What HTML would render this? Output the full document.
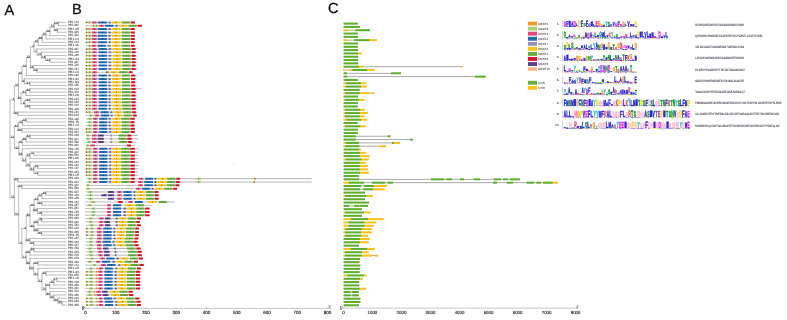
<!DOCTYPE html><html><head><meta charset="utf-8"><style>html,body{margin:0;padding:0;background:#fff;}svg{display:block;}</style></head><body>
<svg width="787" height="320" viewBox="0 0 787 320" text-rendering="geometricPrecision">
<rect width="787" height="320" fill="#fff"/>
<g opacity="0.999">
<text x="4.4" y="15.0" font-family="'Liberation Sans', sans-serif" font-size="14.6" fill="#111" stroke="#111" stroke-width="0.3">A</text>
<text x="71.9" y="14.3" font-family="'Liberation Sans', sans-serif" font-size="14.6" fill="#111" stroke="#111" stroke-width="0.3">B</text>
<text x="327.9" y="13.4" font-family="'Liberation Sans', sans-serif" font-size="14.6" fill="#111" stroke="#111" stroke-width="0.3">C</text>
<g stroke="#a3a3a3" stroke-width="0.72" fill="none" stroke-linecap="square">
<path d="M58.50 22.30L58.50 25.62M58.50 22.30L66.00 22.30M58.50 25.62L66.00 25.62M57.50 28.95L57.50 32.27M57.50 28.95L66.00 28.95M57.50 32.27L66.00 32.27M54.20 23.96L54.20 30.61M54.20 23.96L58.50 23.96M54.20 30.61L57.50 30.61M50.00 27.29L50.00 35.60M50.00 27.29L54.20 27.29M50.00 35.60L66.00 35.60M46.10 31.44L46.10 38.92M46.10 31.44L50.00 31.44M46.10 38.92L66.00 38.92M42.20 35.18L42.20 42.25M42.20 35.18L46.10 35.18M42.20 42.25L66.00 42.25M38.30 38.72L38.30 45.57M38.30 38.72L42.20 38.72M38.30 45.57L66.00 45.57M50.00 58.88L50.00 62.20M50.00 58.88L66.00 58.88M50.00 62.20L66.00 62.20M45.50 55.55L45.50 60.54M45.50 55.55L66.00 55.55M45.50 60.54L50.00 60.54M41.50 52.23L41.50 58.04M41.50 52.23L66.00 52.23M41.50 58.04L45.50 58.04M37.00 48.90L37.00 55.13M37.00 48.90L66.00 48.90M37.00 55.13L41.50 55.13M34.00 42.15L34.00 52.02M34.00 42.15L38.30 42.15M34.00 52.02L37.00 52.02M37.25 68.85L37.25 72.18M37.25 68.85L66.00 68.85M37.25 72.18L66.00 72.18M33.50 65.53L33.50 70.51M33.50 65.53L66.00 65.53M33.50 70.51L37.25 70.51M30.40 47.08L30.40 68.02M30.40 47.08L34.00 47.08M30.40 68.02L33.50 68.02M26.40 57.55L26.40 75.50M26.40 57.55L30.40 57.55M26.40 75.50L66.00 75.50M30.00 82.15L30.00 85.48M30.00 82.15L66.00 82.15M30.00 85.48L66.00 85.48M24.50 78.83L24.50 83.81M24.50 78.83L66.00 78.83M24.50 83.81L30.00 83.81M22.00 66.53L22.00 81.32M22.00 66.53L26.40 66.53M22.00 81.32L24.50 81.32M30.00 88.80L30.00 92.12M30.00 88.80L66.00 88.80M30.00 92.12L66.00 92.12M26.00 90.46L26.00 95.45M26.00 90.46L30.00 90.46M26.00 95.45L66.00 95.45M30.00 98.78L30.00 102.10M30.00 98.78L66.00 98.78M30.00 102.10L66.00 102.10M30.00 105.43L30.00 108.75M30.00 105.43L66.00 105.43M30.00 108.75L66.00 108.75M25.00 100.44L25.00 107.09M25.00 100.44L30.00 100.44M25.00 107.09L30.00 107.09M21.00 92.96L21.00 103.76M21.00 92.96L26.00 92.96M21.00 103.76L25.00 103.76M18.50 73.92L18.50 98.36M18.50 73.92L22.00 73.92M18.50 98.36L21.00 98.36M18.00 112.08L18.00 115.40M18.00 112.08L66.00 112.08M18.00 115.40L66.00 115.40M14.40 86.14L14.40 113.74M14.40 86.14L18.50 86.14M14.40 113.74L18.00 113.74M26.20 118.73L26.20 122.05M26.20 118.73L66.00 118.73M26.20 122.05L66.00 122.05M22.50 120.39L22.50 125.38M22.50 120.39L26.20 120.39M22.50 125.38L66.00 125.38M22.00 128.70L22.00 132.03M22.00 128.70L66.00 128.70M22.00 132.03L66.00 132.03M18.30 122.88L18.30 130.36M18.30 122.88L22.50 122.88M18.30 130.36L22.00 130.36M30.00 135.35L30.00 138.68M30.00 135.35L66.00 135.35M30.00 138.68L66.00 138.68M26.20 137.01L26.20 142.00M26.20 137.01L30.00 137.01M26.20 142.00L66.00 142.00M22.25 139.51L22.25 145.33M22.25 139.51L26.20 139.51M22.25 145.33L66.00 145.33M33.70 151.98L33.70 155.30M33.70 151.98L66.00 151.98M33.70 155.30L66.00 155.30M30.00 153.64L30.00 158.63M30.00 153.64L33.70 153.64M30.00 158.63L66.00 158.63M38.00 165.28L38.00 168.60M38.00 165.28L66.00 165.28M38.00 168.60L66.00 168.60M38.00 171.93L38.00 175.25M38.00 171.93L66.00 171.93M38.00 175.25L66.00 175.25M34.00 166.94L34.00 173.59M34.00 166.94L38.00 166.94M34.00 173.59L38.00 173.59M30.00 161.95L30.00 170.26M30.00 161.95L66.00 161.95M30.00 170.26L34.00 170.26M26.00 156.13L26.00 166.11M26.00 156.13L30.00 156.13M26.00 166.11L30.00 166.11M22.25 148.65L22.25 161.12M22.25 148.65L66.00 148.65M22.25 161.12L26.00 161.12M18.90 142.42L18.90 154.88M18.90 142.42L22.25 142.42M18.90 154.88L22.25 154.88M14.40 126.62L14.40 148.65M14.40 126.62L18.30 126.62M14.40 148.65L18.90 148.65M18.00 178.58L18.00 181.90M18.00 178.58L66.00 178.58M18.00 181.90L66.00 181.90M22.00 185.23L22.00 188.55M22.00 185.23L66.00 185.23M22.00 188.55L66.00 188.55M46.00 191.88L46.00 195.20M46.00 191.88L66.00 191.88M46.00 195.20L66.00 195.20M42.00 193.54L42.00 198.53M42.00 193.54L46.00 193.54M42.00 198.53L66.00 198.53M42.00 201.85L42.00 205.18M42.00 201.85L66.00 201.85M42.00 205.18L66.00 205.18M38.00 196.03L38.00 203.51M38.00 196.03L42.00 196.03M38.00 203.51L42.00 203.51M41.70 211.83L41.70 215.15M41.70 211.83L66.00 211.83M41.70 215.15L66.00 215.15M37.50 208.50L37.50 213.49M37.50 208.50L66.00 208.50M37.50 213.49L41.70 213.49M34.20 199.77L34.20 210.99M34.20 199.77L38.00 199.77M34.20 210.99L37.50 210.99M41.70 218.48L41.70 221.80M41.70 218.48L66.00 218.48M41.70 221.80L66.00 221.80M38.00 220.14L38.00 225.13M38.00 220.14L41.70 220.14M38.00 225.13L66.00 225.13M41.70 231.78L41.70 235.10M41.70 231.78L66.00 231.78M41.70 235.10L66.00 235.10M38.00 228.45L38.00 233.44M38.00 228.45L66.00 228.45M38.00 233.44L41.70 233.44M34.00 222.63L34.00 230.94M34.00 222.63L38.00 222.63M34.00 230.94L38.00 230.94M30.00 205.38L30.00 226.79M30.00 205.38L34.20 205.38M30.00 226.79L34.00 226.79M33.70 241.75L33.70 245.08M33.70 241.75L66.00 241.75M33.70 245.08L66.00 245.08M29.90 238.43L29.90 243.41M29.90 238.43L66.00 238.43M29.90 243.41L33.70 243.41M26.25 216.09L26.25 240.92M26.25 216.09L30.00 216.09M26.25 240.92L29.90 240.92M34.10 248.40L34.10 251.73M34.10 248.40L66.00 248.40M34.10 251.73L66.00 251.73M30.00 250.06L30.00 255.05M30.00 250.06L34.10 250.06M30.00 255.05L66.00 255.05M38.00 261.70L38.00 265.02M38.00 261.70L66.00 261.70M38.00 265.02L66.00 265.02M46.00 271.67L46.00 275.00M46.00 271.67L66.00 271.67M46.00 275.00L66.00 275.00M57.00 278.32L57.00 281.65M57.00 278.32L66.00 278.32M57.00 281.65L66.00 281.65M54.00 279.99L54.00 284.97M54.00 279.99L57.00 279.99M54.00 284.97L66.00 284.97M49.70 282.48L49.70 288.30M49.70 282.48L54.00 282.48M49.70 288.30L66.00 288.30M62.00 301.60L62.00 304.92M62.00 301.60L66.00 301.60M62.00 304.92L66.00 304.92M58.00 298.27L58.00 303.26M58.00 298.27L66.00 298.27M58.00 303.26L62.00 303.26M54.00 294.95L54.00 300.77M54.00 294.95L66.00 294.95M54.00 300.77L58.00 300.77M50.00 291.62L50.00 297.86M50.00 291.62L66.00 291.62M50.00 297.86L54.00 297.86M46.00 285.39L46.00 294.74M46.00 285.39L49.70 285.39M46.00 294.74L50.00 294.74M42.00 273.34L42.00 290.07M42.00 273.34L46.00 273.34M42.00 290.07L46.00 290.07M38.00 268.35L38.00 281.70M38.00 268.35L66.00 268.35M38.00 281.70L42.00 281.70M33.70 263.36L33.70 275.03M33.70 263.36L38.00 263.36M33.70 275.03L38.00 275.03M30.00 258.38L30.00 269.19M30.00 258.38L66.00 258.38M30.00 269.19L33.70 269.19M26.25 252.56L26.25 263.78M26.25 252.56L30.00 252.56M26.25 263.78L30.00 263.78M21.90 228.50L21.90 258.17M21.90 228.50L26.25 228.50M21.90 258.17L26.25 258.17M18.75 186.89L18.75 243.34M18.75 186.89L22.00 186.89M18.75 243.34L21.90 243.34M14.40 180.24L14.40 215.11M14.40 180.24L18.00 180.24M14.40 215.11L18.75 215.11M10.00 99.94L10.00 197.67M10.00 99.94L14.40 99.94M10.00 137.64L14.40 137.64M10.00 197.67L14.40 197.67"/>
</g>
<g font-family="'Liberation Sans', sans-serif" font-size="3.4" font-weight="bold" fill="#3c3c3c" text-anchor="end">
<text x="58.40" y="24.16" textLength="4.6" lengthAdjust="spacingAndGlyphs">100</text>
<text x="57.40" y="30.81" textLength="3.4" lengthAdjust="spacingAndGlyphs">43</text>
<text x="54.10" y="27.49" textLength="3.4" lengthAdjust="spacingAndGlyphs">52</text>
<text x="49.90" y="31.64" textLength="3.4" lengthAdjust="spacingAndGlyphs">26</text>
<text x="46.00" y="35.38" textLength="3.4" lengthAdjust="spacingAndGlyphs">35</text>
<text x="42.10" y="38.92" textLength="3.4" lengthAdjust="spacingAndGlyphs">98</text>
<text x="38.20" y="42.35" textLength="3.4" lengthAdjust="spacingAndGlyphs">40</text>
<text x="49.90" y="60.74" textLength="3.4" lengthAdjust="spacingAndGlyphs">24</text>
<text x="45.40" y="58.24" textLength="3.4" lengthAdjust="spacingAndGlyphs">16</text>
<text x="41.40" y="55.33" textLength="3.4" lengthAdjust="spacingAndGlyphs">24</text>
<text x="36.90" y="52.22" textLength="1.8" lengthAdjust="spacingAndGlyphs">7</text>
<text x="33.90" y="47.28" textLength="1.8" lengthAdjust="spacingAndGlyphs">4</text>
<text x="37.15" y="70.71" textLength="3.4" lengthAdjust="spacingAndGlyphs">76</text>
<text x="33.40" y="68.22" textLength="3.4" lengthAdjust="spacingAndGlyphs">25</text>
<text x="30.30" y="57.75" textLength="3.4" lengthAdjust="spacingAndGlyphs">53</text>
<text x="26.30" y="66.73" textLength="3.4" lengthAdjust="spacingAndGlyphs">54</text>
<text x="29.90" y="84.01" textLength="3.4" lengthAdjust="spacingAndGlyphs">81</text>
<text x="24.40" y="81.52" textLength="1.8" lengthAdjust="spacingAndGlyphs">0</text>
<text x="21.90" y="74.12" textLength="3.4" lengthAdjust="spacingAndGlyphs">40</text>
<text x="29.90" y="90.66" textLength="3.4" lengthAdjust="spacingAndGlyphs">80</text>
<text x="25.90" y="93.16" textLength="3.4" lengthAdjust="spacingAndGlyphs">91</text>
<text x="29.90" y="100.64" textLength="4.6" lengthAdjust="spacingAndGlyphs">100</text>
<text x="29.90" y="107.29" textLength="4.6" lengthAdjust="spacingAndGlyphs">100</text>
<text x="24.90" y="103.96" textLength="1.8" lengthAdjust="spacingAndGlyphs">6</text>
<text x="20.90" y="98.56" textLength="3.4" lengthAdjust="spacingAndGlyphs">20</text>
<text x="18.40" y="86.34" textLength="3.4" lengthAdjust="spacingAndGlyphs">34</text>
<text x="17.90" y="113.94" textLength="4.6" lengthAdjust="spacingAndGlyphs">100</text>
<text x="14.30" y="100.14" textLength="1.8" lengthAdjust="spacingAndGlyphs">4</text>
<text x="26.10" y="120.59" textLength="3.4" lengthAdjust="spacingAndGlyphs">34</text>
<text x="22.40" y="123.08" textLength="3.4" lengthAdjust="spacingAndGlyphs">30</text>
<text x="21.90" y="130.56" textLength="4.6" lengthAdjust="spacingAndGlyphs">100</text>
<text x="18.20" y="126.82" textLength="3.4" lengthAdjust="spacingAndGlyphs">62</text>
<text x="29.90" y="137.21" textLength="3.4" lengthAdjust="spacingAndGlyphs">92</text>
<text x="26.10" y="139.71" textLength="3.4" lengthAdjust="spacingAndGlyphs">90</text>
<text x="22.15" y="142.62" textLength="3.4" lengthAdjust="spacingAndGlyphs">45</text>
<text x="33.60" y="153.84" textLength="3.4" lengthAdjust="spacingAndGlyphs">71</text>
<text x="29.90" y="156.33" textLength="3.4" lengthAdjust="spacingAndGlyphs">30</text>
<text x="37.90" y="167.14" textLength="3.4" lengthAdjust="spacingAndGlyphs">30</text>
<text x="37.90" y="173.79" textLength="3.4" lengthAdjust="spacingAndGlyphs">71</text>
<text x="33.90" y="170.46" textLength="3.4" lengthAdjust="spacingAndGlyphs">94</text>
<text x="29.90" y="166.31" textLength="3.4" lengthAdjust="spacingAndGlyphs">25</text>
<text x="25.90" y="161.32" textLength="3.4" lengthAdjust="spacingAndGlyphs">22</text>
<text x="22.15" y="155.08" textLength="3.4" lengthAdjust="spacingAndGlyphs">38</text>
<text x="18.80" y="148.85" textLength="3.4" lengthAdjust="spacingAndGlyphs">53</text>
<text x="14.30" y="137.84" textLength="3.4" lengthAdjust="spacingAndGlyphs">11</text>
<text x="17.90" y="180.44" textLength="4.6" lengthAdjust="spacingAndGlyphs">100</text>
<text x="21.90" y="187.09" textLength="4.6" lengthAdjust="spacingAndGlyphs">100</text>
<text x="45.90" y="193.74" textLength="3.4" lengthAdjust="spacingAndGlyphs">40</text>
<text x="41.90" y="196.23" textLength="3.4" lengthAdjust="spacingAndGlyphs">22</text>
<text x="41.90" y="203.71" textLength="4.6" lengthAdjust="spacingAndGlyphs">100</text>
<text x="37.90" y="199.97" textLength="3.4" lengthAdjust="spacingAndGlyphs">44</text>
<text x="41.60" y="213.69" textLength="3.4" lengthAdjust="spacingAndGlyphs">79</text>
<text x="37.40" y="211.19" textLength="4.6" lengthAdjust="spacingAndGlyphs">100</text>
<text x="34.10" y="205.58" textLength="3.4" lengthAdjust="spacingAndGlyphs">40</text>
<text x="41.60" y="220.34" textLength="3.4" lengthAdjust="spacingAndGlyphs">78</text>
<text x="37.90" y="222.83" textLength="4.6" lengthAdjust="spacingAndGlyphs">100</text>
<text x="41.60" y="233.64" textLength="3.4" lengthAdjust="spacingAndGlyphs">90</text>
<text x="37.90" y="231.14" textLength="4.6" lengthAdjust="spacingAndGlyphs">100</text>
<text x="33.90" y="226.99" textLength="3.4" lengthAdjust="spacingAndGlyphs">40</text>
<text x="29.90" y="216.29" textLength="3.4" lengthAdjust="spacingAndGlyphs">88</text>
<text x="33.60" y="243.61" textLength="3.4" lengthAdjust="spacingAndGlyphs">40</text>
<text x="29.80" y="241.12" textLength="4.6" lengthAdjust="spacingAndGlyphs">100</text>
<text x="26.15" y="228.70" textLength="1.8" lengthAdjust="spacingAndGlyphs">4</text>
<text x="34.00" y="250.26" textLength="3.4" lengthAdjust="spacingAndGlyphs">89</text>
<text x="29.90" y="252.76" textLength="4.6" lengthAdjust="spacingAndGlyphs">100</text>
<text x="37.90" y="263.56" textLength="4.6" lengthAdjust="spacingAndGlyphs">100</text>
<text x="45.90" y="273.54" textLength="3.4" lengthAdjust="spacingAndGlyphs">30</text>
<text x="56.90" y="280.19" textLength="3.4" lengthAdjust="spacingAndGlyphs">67</text>
<text x="53.90" y="282.68" textLength="3.4" lengthAdjust="spacingAndGlyphs">25</text>
<text x="49.60" y="285.59" textLength="4.6" lengthAdjust="spacingAndGlyphs">100</text>
<text x="61.90" y="303.46" textLength="3.4" lengthAdjust="spacingAndGlyphs">95</text>
<text x="57.90" y="300.97" textLength="3.4" lengthAdjust="spacingAndGlyphs">66</text>
<text x="53.90" y="298.06" textLength="3.4" lengthAdjust="spacingAndGlyphs">55</text>
<text x="49.90" y="294.94" textLength="3.4" lengthAdjust="spacingAndGlyphs">80</text>
<text x="45.90" y="290.27" textLength="3.4" lengthAdjust="spacingAndGlyphs">75</text>
<text x="41.90" y="281.90" textLength="3.4" lengthAdjust="spacingAndGlyphs">22</text>
<text x="37.90" y="275.23" textLength="3.4" lengthAdjust="spacingAndGlyphs">61</text>
<text x="33.60" y="269.39" textLength="4.6" lengthAdjust="spacingAndGlyphs">100</text>
<text x="29.90" y="263.98" textLength="3.4" lengthAdjust="spacingAndGlyphs">96</text>
<text x="26.15" y="258.37" textLength="3.4" lengthAdjust="spacingAndGlyphs">14</text>
<text x="21.80" y="243.54" textLength="1.8" lengthAdjust="spacingAndGlyphs">3</text>
<text x="18.65" y="215.31" textLength="3.4" lengthAdjust="spacingAndGlyphs">51</text>
<text x="14.30" y="197.87" textLength="3.4" lengthAdjust="spacingAndGlyphs">74</text>
</g>
<g font-family="'Liberation Sans', sans-serif" font-size="3.2" font-weight="bold" fill="#575757">
<text x="67.9" y="23.15" textLength="11" lengthAdjust="spacingAndGlyphs">PR1-c10</text>
<text x="67.9" y="26.47" textLength="11" lengthAdjust="spacingAndGlyphs">PR1-d42</text>
<text x="67.9" y="29.80" textLength="11" lengthAdjust="spacingAndGlyphs">PR1-a5</text>
<text x="67.9" y="33.12" textLength="11" lengthAdjust="spacingAndGlyphs">PR1-g35</text>
<text x="67.9" y="36.45" textLength="11" lengthAdjust="spacingAndGlyphs">PR1-a24</text>
<text x="67.9" y="39.77" textLength="11" lengthAdjust="spacingAndGlyphs">PR1-e4</text>
<text x="67.9" y="43.10" textLength="11" lengthAdjust="spacingAndGlyphs">PR1-e14</text>
<text x="67.9" y="46.42" textLength="11" lengthAdjust="spacingAndGlyphs">PR1-a6</text>
<text x="67.9" y="49.75" textLength="11" lengthAdjust="spacingAndGlyphs">PR1-d27</text>
<text x="67.9" y="53.08" textLength="11" lengthAdjust="spacingAndGlyphs">PR1-a16</text>
<text x="67.9" y="56.40" textLength="11" lengthAdjust="spacingAndGlyphs">PR1-a36</text>
<text x="67.9" y="59.73" textLength="11" lengthAdjust="spacingAndGlyphs">PR1-d4</text>
<text x="67.9" y="63.05" textLength="11" lengthAdjust="spacingAndGlyphs">PR1-g37</text>
<text x="67.9" y="66.38" textLength="11" lengthAdjust="spacingAndGlyphs">PR1-a15</text>
<text x="67.9" y="69.70" textLength="11" lengthAdjust="spacingAndGlyphs">PR1-f41</text>
<text x="67.9" y="73.03" textLength="11" lengthAdjust="spacingAndGlyphs">PR1-e4</text>
<text x="67.9" y="76.35" textLength="11" lengthAdjust="spacingAndGlyphs">PR1-e38</text>
<text x="67.9" y="79.68" textLength="11" lengthAdjust="spacingAndGlyphs">PR1-d4</text>
<text x="67.9" y="83.00" textLength="11" lengthAdjust="spacingAndGlyphs">PR1-b3</text>
<text x="67.9" y="86.33" textLength="11" lengthAdjust="spacingAndGlyphs">PR1-e55</text>
<text x="67.9" y="89.65" textLength="11" lengthAdjust="spacingAndGlyphs">PR1-b19</text>
<text x="67.9" y="92.97" textLength="11" lengthAdjust="spacingAndGlyphs">PR1-d10</text>
<text x="67.9" y="96.30" textLength="11" lengthAdjust="spacingAndGlyphs">PR1-e8</text>
<text x="67.9" y="99.62" textLength="11" lengthAdjust="spacingAndGlyphs">PR1-e20</text>
<text x="67.9" y="102.95" textLength="11" lengthAdjust="spacingAndGlyphs">PR1-e53</text>
<text x="67.9" y="106.28" textLength="11" lengthAdjust="spacingAndGlyphs">PR1-f12</text>
<text x="67.9" y="109.60" textLength="11" lengthAdjust="spacingAndGlyphs">PR1-a38</text>
<text x="67.9" y="112.93" textLength="11" lengthAdjust="spacingAndGlyphs">PR1-e41</text>
<text x="67.9" y="116.25" textLength="11" lengthAdjust="spacingAndGlyphs">PR1-b24</text>
<text x="67.9" y="119.58" textLength="11" lengthAdjust="spacingAndGlyphs">PR1-a36</text>
<text x="67.9" y="122.90" textLength="11" lengthAdjust="spacingAndGlyphs">PR1-f5</text>
<text x="67.9" y="126.22" textLength="11" lengthAdjust="spacingAndGlyphs">PR1-e4</text>
<text x="67.9" y="129.55" textLength="11" lengthAdjust="spacingAndGlyphs">PR1-e14</text>
<text x="67.9" y="132.88" textLength="11" lengthAdjust="spacingAndGlyphs">PR1-d44</text>
<text x="67.9" y="136.20" textLength="11" lengthAdjust="spacingAndGlyphs">PR1-e28</text>
<text x="67.9" y="139.53" textLength="11" lengthAdjust="spacingAndGlyphs">PR1-g21</text>
<text x="67.9" y="142.85" textLength="11" lengthAdjust="spacingAndGlyphs">PR1-d38</text>
<text x="67.9" y="146.18" textLength="11" lengthAdjust="spacingAndGlyphs">PR1-d24</text>
<text x="67.9" y="149.50" textLength="11" lengthAdjust="spacingAndGlyphs">PR1-c16</text>
<text x="67.9" y="152.83" textLength="11" lengthAdjust="spacingAndGlyphs">PR1-g12</text>
<text x="67.9" y="156.15" textLength="11" lengthAdjust="spacingAndGlyphs">PR1-f50</text>
<text x="67.9" y="159.48" textLength="11" lengthAdjust="spacingAndGlyphs">PR1-b6</text>
<text x="67.9" y="162.80" textLength="11" lengthAdjust="spacingAndGlyphs">PR1-e20</text>
<text x="67.9" y="166.12" textLength="11" lengthAdjust="spacingAndGlyphs">PR1-e32</text>
<text x="67.9" y="169.45" textLength="11" lengthAdjust="spacingAndGlyphs">PR1-c47</text>
<text x="67.9" y="172.78" textLength="11" lengthAdjust="spacingAndGlyphs">PR1-d19</text>
<text x="67.9" y="176.10" textLength="11" lengthAdjust="spacingAndGlyphs">PR1-e5</text>
<text x="67.9" y="179.43" textLength="11" lengthAdjust="spacingAndGlyphs">PR1-a33</text>
<text x="67.9" y="182.75" textLength="11" lengthAdjust="spacingAndGlyphs">PR1-d11</text>
<text x="67.9" y="186.08" textLength="11" lengthAdjust="spacingAndGlyphs">PR1-g22</text>
<text x="67.9" y="189.40" textLength="11" lengthAdjust="spacingAndGlyphs">PR1-b60</text>
<text x="67.9" y="192.73" textLength="11" lengthAdjust="spacingAndGlyphs">PR1-d27</text>
<text x="67.9" y="196.05" textLength="11" lengthAdjust="spacingAndGlyphs">PR1-a43</text>
<text x="67.9" y="199.38" textLength="11" lengthAdjust="spacingAndGlyphs">PR1-a49</text>
<text x="67.9" y="202.70" textLength="11" lengthAdjust="spacingAndGlyphs">PR1-e37</text>
<text x="67.9" y="206.03" textLength="11" lengthAdjust="spacingAndGlyphs">PR1-g57</text>
<text x="67.9" y="209.35" textLength="11" lengthAdjust="spacingAndGlyphs">PR1-g21</text>
<text x="67.9" y="212.68" textLength="11" lengthAdjust="spacingAndGlyphs">PR1-c45</text>
<text x="67.9" y="216.00" textLength="11" lengthAdjust="spacingAndGlyphs">PR1-c39</text>
<text x="67.9" y="219.33" textLength="11" lengthAdjust="spacingAndGlyphs">PR1-d38</text>
<text x="67.9" y="222.65" textLength="11" lengthAdjust="spacingAndGlyphs">PR1-g30</text>
<text x="67.9" y="225.98" textLength="11" lengthAdjust="spacingAndGlyphs">PR1-a54</text>
<text x="67.9" y="229.30" textLength="11" lengthAdjust="spacingAndGlyphs">PR1-a18</text>
<text x="67.9" y="232.63" textLength="11" lengthAdjust="spacingAndGlyphs">PR1-d45</text>
<text x="67.9" y="235.95" textLength="11" lengthAdjust="spacingAndGlyphs">PR1-f5</text>
<text x="67.9" y="239.28" textLength="11" lengthAdjust="spacingAndGlyphs">PR1-a47</text>
<text x="67.9" y="242.60" textLength="11" lengthAdjust="spacingAndGlyphs">PR1-f20</text>
<text x="67.9" y="245.93" textLength="11" lengthAdjust="spacingAndGlyphs">PR1-f37</text>
<text x="67.9" y="249.25" textLength="11" lengthAdjust="spacingAndGlyphs">PR1-f53</text>
<text x="67.9" y="252.58" textLength="11" lengthAdjust="spacingAndGlyphs">PR1-d19</text>
<text x="67.9" y="255.90" textLength="11" lengthAdjust="spacingAndGlyphs">PR1-f25</text>
<text x="67.9" y="259.23" textLength="11" lengthAdjust="spacingAndGlyphs">PR1-f23</text>
<text x="67.9" y="262.55" textLength="11" lengthAdjust="spacingAndGlyphs">PR1-a30</text>
<text x="67.9" y="265.88" textLength="11" lengthAdjust="spacingAndGlyphs">PR1-c11</text>
<text x="67.9" y="269.20" textLength="11" lengthAdjust="spacingAndGlyphs">PR1-e8</text>
<text x="67.9" y="272.52" textLength="11" lengthAdjust="spacingAndGlyphs">PR1-d4</text>
<text x="67.9" y="275.85" textLength="11" lengthAdjust="spacingAndGlyphs">PR1-b50</text>
<text x="67.9" y="279.18" textLength="11" lengthAdjust="spacingAndGlyphs">PR1-c9</text>
<text x="67.9" y="282.50" textLength="11" lengthAdjust="spacingAndGlyphs">PR1-f16</text>
<text x="67.9" y="285.82" textLength="11" lengthAdjust="spacingAndGlyphs">PR1-d26</text>
<text x="67.9" y="289.15" textLength="11" lengthAdjust="spacingAndGlyphs">PR1-g32</text>
<text x="67.9" y="292.47" textLength="11" lengthAdjust="spacingAndGlyphs">PR1-a11</text>
<text x="67.9" y="295.80" textLength="11" lengthAdjust="spacingAndGlyphs">PR1-d26</text>
<text x="67.9" y="299.12" textLength="11" lengthAdjust="spacingAndGlyphs">PR1-e18</text>
<text x="67.9" y="302.45" textLength="11" lengthAdjust="spacingAndGlyphs">PR1-b53</text>
<text x="67.9" y="305.77" textLength="11" lengthAdjust="spacingAndGlyphs">PR1-d56</text>
</g>
<path d="M85.60 22.40H134.88M85.08 25.72H141.99M85.60 29.05H134.88M85.60 32.38H134.88M85.60 35.70H134.88M85.60 39.02H134.88M85.60 42.35H134.88M86.30 45.67H134.88M85.60 49.00H135.69M85.60 52.33H135.69M85.60 55.65H135.69M85.60 58.98H135.69M85.60 62.30H135.69M85.60 65.62H135.69M85.60 68.95H135.69M85.60 72.28H132.64M85.60 75.60H135.39M85.60 78.93H135.39M85.60 82.25H135.39M85.60 85.58H135.39M85.60 88.90H141.99M85.60 92.22H135.69M85.60 95.55H135.69M85.60 98.88H135.69M85.60 102.20H135.69M85.60 105.53H135.69M85.60 108.85H135.89M85.60 112.18H136.10M86.10 115.50H136.71M86.10 118.83H134.67M86.10 122.15H134.67M86.10 125.47H134.67M85.60 128.80H134.88M85.60 132.12H134.88M85.89 135.45H137.93M85.89 138.78H137.93M86.30 142.10H136.40M85.89 145.43H134.88M85.60 148.75H138.43M85.60 152.08H138.43M85.60 155.40H138.43M85.60 158.73H138.43M85.60 162.05H138.43M85.60 165.38H138.43M85.60 168.70H138.43M85.60 172.03H138.43M85.60 175.35H138.43M86.30 178.68H311.80M85.59 182.00H311.80M85.59 185.33H179.40M85.89 188.65H177.10M85.59 191.98H158.46M85.59 195.30H158.76M85.59 198.63H158.76M85.08 201.95H174.50M85.59 205.28H151.65M85.08 208.60H149.61M85.08 211.93H149.61M85.08 215.25H149.61M85.59 218.58H140.98M85.59 221.90H139.96M85.59 225.23H140.98M85.60 228.55H138.94M85.60 231.88H138.94M85.60 235.20H138.94M85.59 238.53H138.43M85.59 241.85H137.72M85.59 245.18H138.74M85.59 248.50H140.77M85.59 251.83H141.99M85.59 255.15H141.99M85.08 258.48H143.01M85.59 261.80H137.93M85.08 265.12H143.82M85.59 268.45H140.98M85.60 271.77H140.16M85.60 275.10H140.16M85.08 278.43H140.16M85.60 281.75H140.16M85.60 285.07H140.16M85.08 288.40H140.16M85.59 291.72H132.85M85.59 295.05H133.35M85.60 298.38H139.45M85.60 301.70H140.77M85.60 305.02H140.98" stroke="#9c9c9c" stroke-width="0.72" fill="none"/>
<rect x="85.80" y="21.45" width="1.7" height="1.9" rx="0.6" fill="#d9892b"/>
<rect x="86.30" y="22.00" width="0.7" height="0.8" fill="#7a3e08"/>
<rect x="87.93" y="21.40" width="3.25" height="2.0" rx="0.5" fill="#a6d573"/>
<rect x="89.15" y="21.90" width="0.8" height="1.0" fill="#2c6414" opacity="0.95"/>
<rect x="91.89" y="21.40" width="4.88" height="2.0" rx="0.5" fill="#e9487c"/>
<rect x="93.93" y="21.90" width="0.8" height="1.0" fill="#7a1436" opacity="0.95"/>
<rect x="97.78" y="21.40" width="9.15" height="2.0" rx="0.5" fill="#1f6db4"/>
<rect x="101.96" y="21.90" width="0.8" height="1.0" fill="#0a2550" opacity="0.95"/>
<rect x="108.25" y="21.40" width="2.74" height="2.0" rx="0.5" fill="#948fbb"/>
<rect x="109.22" y="21.90" width="0.8" height="1.0" fill="#2e2b50" opacity="0.95"/>
<rect x="111.81" y="21.40" width="8.33" height="2.0" rx="0.5" fill="#fec40f"/>
<rect x="115.58" y="21.90" width="0.8" height="1.0" fill="#6a4c00" opacity="0.95"/>
<rect x="121.67" y="21.40" width="8.64" height="2.0" rx="0.5" fill="#66ad3c"/>
<rect x="125.59" y="21.90" width="0.8" height="1.0" fill="#2a5a14" opacity="0.60"/>
<rect x="130.81" y="21.40" width="4.07" height="2.0" rx="0.5" fill="#e5152e"/>
<rect x="132.45" y="21.90" width="0.8" height="1.0" fill="#700812" opacity="0.50"/>
<rect x="92.71" y="24.77" width="1.7" height="1.9" rx="0.6" fill="#d9892b"/>
<rect x="93.21" y="25.32" width="0.7" height="0.8" fill="#7a3e08"/>
<rect x="94.74" y="24.72" width="3.86" height="2.0" rx="0.5" fill="#a6d573"/>
<rect x="96.27" y="25.22" width="0.8" height="1.0" fill="#2c6414" opacity="0.95"/>
<rect x="99.11" y="24.72" width="4.78" height="2.0" rx="0.5" fill="#e9487c"/>
<rect x="101.09" y="25.22" width="0.8" height="1.0" fill="#7a1436" opacity="0.95"/>
<rect x="104.90" y="24.72" width="8.64" height="2.0" rx="0.5" fill="#1f6db4"/>
<rect x="108.82" y="25.22" width="0.8" height="1.0" fill="#0a2550" opacity="0.95"/>
<rect x="115.06" y="24.72" width="3.05" height="2.0" rx="0.5" fill="#948fbb"/>
<rect x="116.19" y="25.22" width="0.8" height="1.0" fill="#2e2b50" opacity="0.95"/>
<rect x="119.13" y="24.72" width="8.13" height="2.0" rx="0.5" fill="#fec40f"/>
<rect x="122.79" y="25.22" width="0.8" height="1.0" fill="#6a4c00" opacity="0.95"/>
<rect x="128.58" y="24.72" width="8.33" height="2.0" rx="0.5" fill="#66ad3c"/>
<rect x="132.34" y="25.22" width="0.8" height="1.0" fill="#2a5a14" opacity="0.60"/>
<rect x="137.72" y="24.72" width="4.27" height="2.0" rx="0.5" fill="#e5152e"/>
<rect x="139.46" y="25.22" width="0.8" height="1.0" fill="#700812" opacity="0.50"/>
<rect x="85.80" y="28.10" width="1.7" height="1.9" rx="0.6" fill="#d9892b"/>
<rect x="86.30" y="28.65" width="0.7" height="0.8" fill="#7a3e08"/>
<rect x="87.93" y="28.05" width="3.25" height="2.0" rx="0.5" fill="#a6d573"/>
<rect x="89.15" y="28.55" width="0.8" height="1.0" fill="#2c6414" opacity="0.95"/>
<rect x="91.89" y="28.05" width="4.88" height="2.0" rx="0.5" fill="#e9487c"/>
<rect x="93.93" y="28.55" width="0.8" height="1.0" fill="#7a1436" opacity="0.95"/>
<rect x="97.78" y="28.05" width="9.15" height="2.0" rx="0.5" fill="#1f6db4"/>
<rect x="101.96" y="28.55" width="0.8" height="1.0" fill="#0a2550" opacity="0.95"/>
<rect x="108.25" y="28.05" width="2.74" height="2.0" rx="0.5" fill="#948fbb"/>
<rect x="109.22" y="28.55" width="0.8" height="1.0" fill="#2e2b50" opacity="0.95"/>
<rect x="111.81" y="28.05" width="8.33" height="2.0" rx="0.5" fill="#fec40f"/>
<rect x="115.58" y="28.55" width="0.8" height="1.0" fill="#6a4c00" opacity="0.95"/>
<rect x="121.67" y="28.05" width="8.64" height="2.0" rx="0.5" fill="#66ad3c"/>
<rect x="125.59" y="28.55" width="0.8" height="1.0" fill="#2a5a14" opacity="0.60"/>
<rect x="130.81" y="28.05" width="4.07" height="2.0" rx="0.5" fill="#e5152e"/>
<rect x="132.45" y="28.55" width="0.8" height="1.0" fill="#700812" opacity="0.50"/>
<rect x="85.80" y="31.43" width="1.7" height="1.9" rx="0.6" fill="#d9892b"/>
<rect x="86.30" y="31.98" width="0.7" height="0.8" fill="#7a3e08"/>
<rect x="87.93" y="31.38" width="3.25" height="2.0" rx="0.5" fill="#a6d573"/>
<rect x="89.15" y="31.88" width="0.8" height="1.0" fill="#2c6414" opacity="0.95"/>
<rect x="91.89" y="31.38" width="4.88" height="2.0" rx="0.5" fill="#e9487c"/>
<rect x="93.93" y="31.88" width="0.8" height="1.0" fill="#7a1436" opacity="0.95"/>
<rect x="97.78" y="31.38" width="9.15" height="2.0" rx="0.5" fill="#1f6db4"/>
<rect x="101.96" y="31.88" width="0.8" height="1.0" fill="#0a2550" opacity="0.95"/>
<rect x="108.25" y="31.38" width="2.74" height="2.0" rx="0.5" fill="#948fbb"/>
<rect x="109.22" y="31.88" width="0.8" height="1.0" fill="#2e2b50" opacity="0.95"/>
<rect x="111.81" y="31.38" width="8.33" height="2.0" rx="0.5" fill="#fec40f"/>
<rect x="115.58" y="31.88" width="0.8" height="1.0" fill="#6a4c00" opacity="0.95"/>
<rect x="121.67" y="31.38" width="8.64" height="2.0" rx="0.5" fill="#66ad3c"/>
<rect x="125.59" y="31.88" width="0.8" height="1.0" fill="#2a5a14" opacity="0.60"/>
<rect x="130.81" y="31.38" width="4.07" height="2.0" rx="0.5" fill="#e5152e"/>
<rect x="132.45" y="31.88" width="0.8" height="1.0" fill="#700812" opacity="0.50"/>
<rect x="85.80" y="34.75" width="1.7" height="1.9" rx="0.6" fill="#d9892b"/>
<rect x="86.30" y="35.30" width="0.7" height="0.8" fill="#7a3e08"/>
<rect x="87.93" y="34.70" width="3.25" height="2.0" rx="0.5" fill="#a6d573"/>
<rect x="89.15" y="35.20" width="0.8" height="1.0" fill="#2c6414" opacity="0.95"/>
<rect x="91.89" y="34.70" width="4.88" height="2.0" rx="0.5" fill="#e9487c"/>
<rect x="93.93" y="35.20" width="0.8" height="1.0" fill="#7a1436" opacity="0.95"/>
<rect x="97.78" y="34.70" width="9.15" height="2.0" rx="0.5" fill="#1f6db4"/>
<rect x="101.96" y="35.20" width="0.8" height="1.0" fill="#0a2550" opacity="0.95"/>
<rect x="108.25" y="34.70" width="2.74" height="2.0" rx="0.5" fill="#948fbb"/>
<rect x="109.22" y="35.20" width="0.8" height="1.0" fill="#2e2b50" opacity="0.95"/>
<rect x="111.81" y="34.70" width="8.33" height="2.0" rx="0.5" fill="#fec40f"/>
<rect x="115.58" y="35.20" width="0.8" height="1.0" fill="#6a4c00" opacity="0.95"/>
<rect x="121.67" y="34.70" width="8.64" height="2.0" rx="0.5" fill="#66ad3c"/>
<rect x="125.59" y="35.20" width="0.8" height="1.0" fill="#2a5a14" opacity="0.60"/>
<rect x="130.81" y="34.70" width="4.07" height="2.0" rx="0.5" fill="#e5152e"/>
<rect x="132.45" y="35.20" width="0.8" height="1.0" fill="#700812" opacity="0.50"/>
<rect x="85.80" y="38.07" width="1.7" height="1.9" rx="0.6" fill="#d9892b"/>
<rect x="86.30" y="38.62" width="0.7" height="0.8" fill="#7a3e08"/>
<rect x="87.93" y="38.02" width="3.25" height="2.0" rx="0.5" fill="#a6d573"/>
<rect x="89.15" y="38.52" width="0.8" height="1.0" fill="#2c6414" opacity="0.95"/>
<rect x="91.89" y="38.02" width="4.88" height="2.0" rx="0.5" fill="#e9487c"/>
<rect x="93.93" y="38.52" width="0.8" height="1.0" fill="#7a1436" opacity="0.95"/>
<rect x="97.78" y="38.02" width="9.15" height="2.0" rx="0.5" fill="#1f6db4"/>
<rect x="101.96" y="38.52" width="0.8" height="1.0" fill="#0a2550" opacity="0.95"/>
<rect x="108.25" y="38.02" width="2.74" height="2.0" rx="0.5" fill="#948fbb"/>
<rect x="109.22" y="38.52" width="0.8" height="1.0" fill="#2e2b50" opacity="0.95"/>
<rect x="111.81" y="38.02" width="8.33" height="2.0" rx="0.5" fill="#fec40f"/>
<rect x="115.58" y="38.52" width="0.8" height="1.0" fill="#6a4c00" opacity="0.95"/>
<rect x="121.67" y="38.02" width="8.64" height="2.0" rx="0.5" fill="#66ad3c"/>
<rect x="125.59" y="38.52" width="0.8" height="1.0" fill="#2a5a14" opacity="0.60"/>
<rect x="130.81" y="38.02" width="4.07" height="2.0" rx="0.5" fill="#e5152e"/>
<rect x="132.45" y="38.52" width="0.8" height="1.0" fill="#700812" opacity="0.50"/>
<rect x="85.80" y="41.40" width="1.7" height="1.9" rx="0.6" fill="#d9892b"/>
<rect x="86.30" y="41.95" width="0.7" height="0.8" fill="#7a3e08"/>
<rect x="87.93" y="41.35" width="3.25" height="2.0" rx="0.5" fill="#a6d573"/>
<rect x="89.15" y="41.85" width="0.8" height="1.0" fill="#2c6414" opacity="0.95"/>
<rect x="91.89" y="41.35" width="4.88" height="2.0" rx="0.5" fill="#e9487c"/>
<rect x="93.93" y="41.85" width="0.8" height="1.0" fill="#7a1436" opacity="0.95"/>
<rect x="97.78" y="41.35" width="9.15" height="2.0" rx="0.5" fill="#1f6db4"/>
<rect x="101.96" y="41.85" width="0.8" height="1.0" fill="#0a2550" opacity="0.95"/>
<rect x="108.25" y="41.35" width="2.74" height="2.0" rx="0.5" fill="#948fbb"/>
<rect x="109.22" y="41.85" width="0.8" height="1.0" fill="#2e2b50" opacity="0.95"/>
<rect x="111.81" y="41.35" width="8.33" height="2.0" rx="0.5" fill="#fec40f"/>
<rect x="115.58" y="41.85" width="0.8" height="1.0" fill="#6a4c00" opacity="0.95"/>
<rect x="121.67" y="41.35" width="8.64" height="2.0" rx="0.5" fill="#66ad3c"/>
<rect x="125.59" y="41.85" width="0.8" height="1.0" fill="#2a5a14" opacity="0.60"/>
<rect x="130.81" y="41.35" width="4.07" height="2.0" rx="0.5" fill="#e5152e"/>
<rect x="132.45" y="41.85" width="0.8" height="1.0" fill="#700812" opacity="0.50"/>
<rect x="87.62" y="44.67" width="3.56" height="2.0" rx="0.5" fill="#a6d573"/>
<rect x="89.00" y="45.17" width="0.8" height="1.0" fill="#2c6414" opacity="0.95"/>
<rect x="91.69" y="44.67" width="4.37" height="2.0" rx="0.5" fill="#e9487c"/>
<rect x="93.47" y="45.17" width="0.8" height="1.0" fill="#7a1436" opacity="0.95"/>
<rect x="97.48" y="44.67" width="8.43" height="2.0" rx="0.5" fill="#1f6db4"/>
<rect x="101.30" y="45.17" width="0.8" height="1.0" fill="#0a2550" opacity="0.95"/>
<rect x="107.44" y="44.67" width="3.05" height="2.0" rx="0.5" fill="#948fbb"/>
<rect x="108.56" y="45.17" width="0.8" height="1.0" fill="#2e2b50" opacity="0.95"/>
<rect x="111.71" y="44.67" width="8.43" height="2.0" rx="0.5" fill="#fec40f"/>
<rect x="115.52" y="45.17" width="0.8" height="1.0" fill="#6a4c00" opacity="0.95"/>
<rect x="121.67" y="44.67" width="8.33" height="2.0" rx="0.5" fill="#66ad3c"/>
<rect x="125.43" y="45.17" width="0.8" height="1.0" fill="#2a5a14" opacity="0.60"/>
<rect x="130.81" y="44.67" width="4.07" height="2.0" rx="0.5" fill="#e5152e"/>
<rect x="132.45" y="45.17" width="0.8" height="1.0" fill="#700812" opacity="0.50"/>
<rect x="85.80" y="48.05" width="1.7" height="1.9" rx="0.6" fill="#d9892b"/>
<rect x="86.30" y="48.60" width="0.7" height="0.8" fill="#7a3e08"/>
<rect x="87.93" y="48.00" width="3.56" height="2.0" rx="0.5" fill="#a6d573"/>
<rect x="89.31" y="48.50" width="0.8" height="1.0" fill="#2c6414" opacity="0.95"/>
<rect x="92.20" y="48.00" width="4.57" height="2.0" rx="0.5" fill="#e9487c"/>
<rect x="94.08" y="48.50" width="0.8" height="1.0" fill="#7a1436" opacity="0.95"/>
<rect x="98.60" y="48.00" width="8.33" height="2.0" rx="0.5" fill="#1f6db4"/>
<rect x="102.36" y="48.50" width="0.8" height="1.0" fill="#0a2550" opacity="0.95"/>
<rect x="108.46" y="48.00" width="2.85" height="2.0" rx="0.5" fill="#948fbb"/>
<rect x="109.48" y="48.50" width="0.8" height="1.0" fill="#2e2b50" opacity="0.95"/>
<rect x="112.72" y="48.00" width="8.43" height="2.0" rx="0.5" fill="#fec40f"/>
<rect x="116.54" y="48.50" width="0.8" height="1.0" fill="#6a4c00" opacity="0.95"/>
<rect x="122.17" y="48.00" width="8.64" height="2.0" rx="0.5" fill="#66ad3c"/>
<rect x="126.09" y="48.50" width="0.8" height="1.0" fill="#2a5a14" opacity="0.60"/>
<rect x="131.63" y="48.00" width="4.07" height="2.0" rx="0.5" fill="#e5152e"/>
<rect x="133.26" y="48.50" width="0.8" height="1.0" fill="#700812" opacity="0.50"/>
<rect x="85.80" y="51.38" width="1.7" height="1.9" rx="0.6" fill="#d9892b"/>
<rect x="86.30" y="51.93" width="0.7" height="0.8" fill="#7a3e08"/>
<rect x="87.93" y="51.33" width="3.56" height="2.0" rx="0.5" fill="#a6d573"/>
<rect x="89.31" y="51.83" width="0.8" height="1.0" fill="#2c6414" opacity="0.95"/>
<rect x="92.20" y="51.33" width="4.57" height="2.0" rx="0.5" fill="#e9487c"/>
<rect x="94.08" y="51.83" width="0.8" height="1.0" fill="#7a1436" opacity="0.95"/>
<rect x="98.60" y="51.33" width="8.33" height="2.0" rx="0.5" fill="#1f6db4"/>
<rect x="102.36" y="51.83" width="0.8" height="1.0" fill="#0a2550" opacity="0.95"/>
<rect x="108.46" y="51.33" width="2.85" height="2.0" rx="0.5" fill="#948fbb"/>
<rect x="109.48" y="51.83" width="0.8" height="1.0" fill="#2e2b50" opacity="0.95"/>
<rect x="112.72" y="51.33" width="8.43" height="2.0" rx="0.5" fill="#fec40f"/>
<rect x="116.54" y="51.83" width="0.8" height="1.0" fill="#6a4c00" opacity="0.95"/>
<rect x="122.17" y="51.33" width="8.64" height="2.0" rx="0.5" fill="#66ad3c"/>
<rect x="126.09" y="51.83" width="0.8" height="1.0" fill="#2a5a14" opacity="0.60"/>
<rect x="131.63" y="51.33" width="4.07" height="2.0" rx="0.5" fill="#e5152e"/>
<rect x="133.26" y="51.83" width="0.8" height="1.0" fill="#700812" opacity="0.50"/>
<rect x="85.80" y="54.70" width="1.7" height="1.9" rx="0.6" fill="#d9892b"/>
<rect x="86.30" y="55.25" width="0.7" height="0.8" fill="#7a3e08"/>
<rect x="87.93" y="54.65" width="3.56" height="2.0" rx="0.5" fill="#a6d573"/>
<rect x="89.31" y="55.15" width="0.8" height="1.0" fill="#2c6414" opacity="0.95"/>
<rect x="92.20" y="54.65" width="4.57" height="2.0" rx="0.5" fill="#e9487c"/>
<rect x="94.08" y="55.15" width="0.8" height="1.0" fill="#7a1436" opacity="0.95"/>
<rect x="98.60" y="54.65" width="8.33" height="2.0" rx="0.5" fill="#1f6db4"/>
<rect x="102.36" y="55.15" width="0.8" height="1.0" fill="#0a2550" opacity="0.95"/>
<rect x="108.46" y="54.65" width="2.85" height="2.0" rx="0.5" fill="#948fbb"/>
<rect x="109.48" y="55.15" width="0.8" height="1.0" fill="#2e2b50" opacity="0.95"/>
<rect x="112.72" y="54.65" width="8.43" height="2.0" rx="0.5" fill="#fec40f"/>
<rect x="116.54" y="55.15" width="0.8" height="1.0" fill="#6a4c00" opacity="0.95"/>
<rect x="122.17" y="54.65" width="8.64" height="2.0" rx="0.5" fill="#66ad3c"/>
<rect x="126.09" y="55.15" width="0.8" height="1.0" fill="#2a5a14" opacity="0.60"/>
<rect x="131.63" y="54.65" width="4.07" height="2.0" rx="0.5" fill="#e5152e"/>
<rect x="133.26" y="55.15" width="0.8" height="1.0" fill="#700812" opacity="0.50"/>
<rect x="85.80" y="58.02" width="1.7" height="1.9" rx="0.6" fill="#d9892b"/>
<rect x="86.30" y="58.58" width="0.7" height="0.8" fill="#7a3e08"/>
<rect x="87.93" y="57.98" width="3.56" height="2.0" rx="0.5" fill="#a6d573"/>
<rect x="89.31" y="58.48" width="0.8" height="1.0" fill="#2c6414" opacity="0.95"/>
<rect x="92.20" y="57.98" width="4.57" height="2.0" rx="0.5" fill="#e9487c"/>
<rect x="94.08" y="58.48" width="0.8" height="1.0" fill="#7a1436" opacity="0.95"/>
<rect x="98.60" y="57.98" width="8.33" height="2.0" rx="0.5" fill="#1f6db4"/>
<rect x="102.36" y="58.48" width="0.8" height="1.0" fill="#0a2550" opacity="0.95"/>
<rect x="108.46" y="57.98" width="2.85" height="2.0" rx="0.5" fill="#948fbb"/>
<rect x="109.48" y="58.48" width="0.8" height="1.0" fill="#2e2b50" opacity="0.95"/>
<rect x="112.72" y="57.98" width="8.43" height="2.0" rx="0.5" fill="#fec40f"/>
<rect x="116.54" y="58.48" width="0.8" height="1.0" fill="#6a4c00" opacity="0.95"/>
<rect x="122.17" y="57.98" width="8.64" height="2.0" rx="0.5" fill="#66ad3c"/>
<rect x="126.09" y="58.48" width="0.8" height="1.0" fill="#2a5a14" opacity="0.60"/>
<rect x="131.63" y="57.98" width="4.07" height="2.0" rx="0.5" fill="#e5152e"/>
<rect x="133.26" y="58.48" width="0.8" height="1.0" fill="#700812" opacity="0.50"/>
<rect x="85.80" y="61.35" width="1.7" height="1.9" rx="0.6" fill="#d9892b"/>
<rect x="86.30" y="61.90" width="0.7" height="0.8" fill="#7a3e08"/>
<rect x="87.93" y="61.30" width="3.56" height="2.0" rx="0.5" fill="#a6d573"/>
<rect x="89.31" y="61.80" width="0.8" height="1.0" fill="#2c6414" opacity="0.95"/>
<rect x="92.20" y="61.30" width="4.57" height="2.0" rx="0.5" fill="#e9487c"/>
<rect x="94.08" y="61.80" width="0.8" height="1.0" fill="#7a1436" opacity="0.95"/>
<rect x="98.60" y="61.30" width="8.33" height="2.0" rx="0.5" fill="#1f6db4"/>
<rect x="102.36" y="61.80" width="0.8" height="1.0" fill="#0a2550" opacity="0.95"/>
<rect x="108.46" y="61.30" width="2.85" height="2.0" rx="0.5" fill="#948fbb"/>
<rect x="109.48" y="61.80" width="0.8" height="1.0" fill="#2e2b50" opacity="0.95"/>
<rect x="112.72" y="61.30" width="8.43" height="2.0" rx="0.5" fill="#fec40f"/>
<rect x="116.54" y="61.80" width="0.8" height="1.0" fill="#6a4c00" opacity="0.95"/>
<rect x="122.17" y="61.30" width="8.64" height="2.0" rx="0.5" fill="#66ad3c"/>
<rect x="126.09" y="61.80" width="0.8" height="1.0" fill="#2a5a14" opacity="0.60"/>
<rect x="131.63" y="61.30" width="4.07" height="2.0" rx="0.5" fill="#e5152e"/>
<rect x="133.26" y="61.80" width="0.8" height="1.0" fill="#700812" opacity="0.50"/>
<rect x="85.80" y="64.67" width="1.7" height="1.9" rx="0.6" fill="#d9892b"/>
<rect x="86.30" y="65.22" width="0.7" height="0.8" fill="#7a3e08"/>
<rect x="87.93" y="64.62" width="3.56" height="2.0" rx="0.5" fill="#a6d573"/>
<rect x="89.31" y="65.12" width="0.8" height="1.0" fill="#2c6414" opacity="0.95"/>
<rect x="92.20" y="64.62" width="4.57" height="2.0" rx="0.5" fill="#e9487c"/>
<rect x="94.08" y="65.12" width="0.8" height="1.0" fill="#7a1436" opacity="0.95"/>
<rect x="98.60" y="64.62" width="8.33" height="2.0" rx="0.5" fill="#1f6db4"/>
<rect x="102.36" y="65.12" width="0.8" height="1.0" fill="#0a2550" opacity="0.95"/>
<rect x="108.46" y="64.62" width="2.85" height="2.0" rx="0.5" fill="#948fbb"/>
<rect x="109.48" y="65.12" width="0.8" height="1.0" fill="#2e2b50" opacity="0.95"/>
<rect x="112.72" y="64.62" width="8.43" height="2.0" rx="0.5" fill="#fec40f"/>
<rect x="116.54" y="65.12" width="0.8" height="1.0" fill="#6a4c00" opacity="0.95"/>
<rect x="122.17" y="64.62" width="8.64" height="2.0" rx="0.5" fill="#66ad3c"/>
<rect x="126.09" y="65.12" width="0.8" height="1.0" fill="#2a5a14" opacity="0.60"/>
<rect x="131.63" y="64.62" width="4.07" height="2.0" rx="0.5" fill="#e5152e"/>
<rect x="133.26" y="65.12" width="0.8" height="1.0" fill="#700812" opacity="0.50"/>
<rect x="85.80" y="68.00" width="1.7" height="1.9" rx="0.6" fill="#d9892b"/>
<rect x="86.30" y="68.55" width="0.7" height="0.8" fill="#7a3e08"/>
<rect x="87.93" y="67.95" width="3.56" height="2.0" rx="0.5" fill="#a6d573"/>
<rect x="89.31" y="68.45" width="0.8" height="1.0" fill="#2c6414" opacity="0.95"/>
<rect x="92.20" y="67.95" width="4.57" height="2.0" rx="0.5" fill="#e9487c"/>
<rect x="94.08" y="68.45" width="0.8" height="1.0" fill="#7a1436" opacity="0.95"/>
<rect x="98.60" y="67.95" width="8.33" height="2.0" rx="0.5" fill="#1f6db4"/>
<rect x="102.36" y="68.45" width="0.8" height="1.0" fill="#0a2550" opacity="0.95"/>
<rect x="108.46" y="67.95" width="2.85" height="2.0" rx="0.5" fill="#948fbb"/>
<rect x="109.48" y="68.45" width="0.8" height="1.0" fill="#2e2b50" opacity="0.95"/>
<rect x="112.72" y="67.95" width="8.43" height="2.0" rx="0.5" fill="#fec40f"/>
<rect x="116.54" y="68.45" width="0.8" height="1.0" fill="#6a4c00" opacity="0.95"/>
<rect x="122.17" y="67.95" width="8.64" height="2.0" rx="0.5" fill="#66ad3c"/>
<rect x="126.09" y="68.45" width="0.8" height="1.0" fill="#2a5a14" opacity="0.60"/>
<rect x="131.63" y="67.95" width="4.07" height="2.0" rx="0.5" fill="#e5152e"/>
<rect x="133.26" y="68.45" width="0.8" height="1.0" fill="#700812" opacity="0.50"/>
<rect x="85.80" y="71.33" width="1.7" height="1.9" rx="0.6" fill="#d9892b"/>
<rect x="86.30" y="71.88" width="0.7" height="0.8" fill="#7a3e08"/>
<rect x="87.93" y="71.28" width="3.56" height="2.0" rx="0.5" fill="#a6d573"/>
<rect x="89.31" y="71.78" width="0.8" height="1.0" fill="#2c6414" opacity="0.95"/>
<rect x="92.20" y="71.28" width="4.57" height="2.0" rx="0.5" fill="#e9487c"/>
<rect x="94.08" y="71.78" width="0.8" height="1.0" fill="#7a1436" opacity="0.95"/>
<rect x="105.61" y="71.28" width="3.05" height="2.0" rx="0.5" fill="#948fbb"/>
<rect x="106.73" y="71.78" width="0.8" height="1.0" fill="#2e2b50" opacity="0.95"/>
<rect x="109.67" y="71.28" width="8.23" height="2.0" rx="0.5" fill="#fec40f"/>
<rect x="113.39" y="71.78" width="0.8" height="1.0" fill="#6a4c00" opacity="0.95"/>
<rect x="119.13" y="71.28" width="8.64" height="2.0" rx="0.5" fill="#66ad3c"/>
<rect x="123.05" y="71.78" width="0.8" height="1.0" fill="#2a5a14" opacity="0.60"/>
<rect x="128.58" y="71.28" width="4.07" height="2.0" rx="0.5" fill="#e5152e"/>
<rect x="130.21" y="71.78" width="0.8" height="1.0" fill="#700812" opacity="0.50"/>
<rect x="85.80" y="74.65" width="1.7" height="1.9" rx="0.6" fill="#d9892b"/>
<rect x="86.30" y="75.20" width="0.7" height="0.8" fill="#7a3e08"/>
<rect x="88.13" y="74.60" width="3.35" height="2.0" rx="0.5" fill="#a6d573"/>
<rect x="89.41" y="75.10" width="0.8" height="1.0" fill="#2c6414" opacity="0.95"/>
<rect x="92.20" y="74.60" width="4.57" height="2.0" rx="0.5" fill="#e9487c"/>
<rect x="94.08" y="75.10" width="0.8" height="1.0" fill="#7a1436" opacity="0.95"/>
<rect x="98.60" y="74.60" width="8.33" height="2.0" rx="0.5" fill="#1f6db4"/>
<rect x="102.36" y="75.10" width="0.8" height="1.0" fill="#0a2550" opacity="0.95"/>
<rect x="108.25" y="74.60" width="2.74" height="2.0" rx="0.5" fill="#948fbb"/>
<rect x="109.22" y="75.10" width="0.8" height="1.0" fill="#2e2b50" opacity="0.95"/>
<rect x="112.01" y="74.60" width="8.43" height="2.0" rx="0.5" fill="#fec40f"/>
<rect x="115.83" y="75.10" width="0.8" height="1.0" fill="#6a4c00" opacity="0.95"/>
<rect x="121.87" y="74.60" width="8.13" height="2.0" rx="0.5" fill="#66ad3c"/>
<rect x="125.53" y="75.10" width="0.8" height="1.0" fill="#2a5a14" opacity="0.60"/>
<rect x="131.02" y="74.60" width="4.37" height="2.0" rx="0.5" fill="#e5152e"/>
<rect x="132.80" y="75.10" width="0.8" height="1.0" fill="#700812" opacity="0.50"/>
<rect x="85.80" y="77.98" width="1.7" height="1.9" rx="0.6" fill="#d9892b"/>
<rect x="86.30" y="78.53" width="0.7" height="0.8" fill="#7a3e08"/>
<rect x="88.13" y="77.93" width="3.35" height="2.0" rx="0.5" fill="#a6d573"/>
<rect x="89.41" y="78.43" width="0.8" height="1.0" fill="#2c6414" opacity="0.95"/>
<rect x="92.20" y="77.93" width="4.57" height="2.0" rx="0.5" fill="#e9487c"/>
<rect x="94.08" y="78.43" width="0.8" height="1.0" fill="#7a1436" opacity="0.95"/>
<rect x="98.60" y="77.93" width="8.33" height="2.0" rx="0.5" fill="#1f6db4"/>
<rect x="102.36" y="78.43" width="0.8" height="1.0" fill="#0a2550" opacity="0.95"/>
<rect x="108.25" y="77.93" width="2.74" height="2.0" rx="0.5" fill="#948fbb"/>
<rect x="109.22" y="78.43" width="0.8" height="1.0" fill="#2e2b50" opacity="0.95"/>
<rect x="112.01" y="77.93" width="8.43" height="2.0" rx="0.5" fill="#fec40f"/>
<rect x="115.83" y="78.43" width="0.8" height="1.0" fill="#6a4c00" opacity="0.95"/>
<rect x="121.87" y="77.93" width="8.13" height="2.0" rx="0.5" fill="#66ad3c"/>
<rect x="125.53" y="78.43" width="0.8" height="1.0" fill="#2a5a14" opacity="0.60"/>
<rect x="131.02" y="77.93" width="4.37" height="2.0" rx="0.5" fill="#e5152e"/>
<rect x="132.80" y="78.43" width="0.8" height="1.0" fill="#700812" opacity="0.50"/>
<rect x="85.80" y="81.30" width="1.7" height="1.9" rx="0.6" fill="#d9892b"/>
<rect x="86.30" y="81.85" width="0.7" height="0.8" fill="#7a3e08"/>
<rect x="88.13" y="81.25" width="3.35" height="2.0" rx="0.5" fill="#a6d573"/>
<rect x="89.41" y="81.75" width="0.8" height="1.0" fill="#2c6414" opacity="0.95"/>
<rect x="92.20" y="81.25" width="4.57" height="2.0" rx="0.5" fill="#e9487c"/>
<rect x="94.08" y="81.75" width="0.8" height="1.0" fill="#7a1436" opacity="0.95"/>
<rect x="98.60" y="81.25" width="8.33" height="2.0" rx="0.5" fill="#1f6db4"/>
<rect x="102.36" y="81.75" width="0.8" height="1.0" fill="#0a2550" opacity="0.95"/>
<rect x="108.25" y="81.25" width="2.74" height="2.0" rx="0.5" fill="#948fbb"/>
<rect x="109.22" y="81.75" width="0.8" height="1.0" fill="#2e2b50" opacity="0.95"/>
<rect x="112.01" y="81.25" width="8.43" height="2.0" rx="0.5" fill="#fec40f"/>
<rect x="115.83" y="81.75" width="0.8" height="1.0" fill="#6a4c00" opacity="0.95"/>
<rect x="121.87" y="81.25" width="8.13" height="2.0" rx="0.5" fill="#66ad3c"/>
<rect x="125.53" y="81.75" width="0.8" height="1.0" fill="#2a5a14" opacity="0.60"/>
<rect x="131.02" y="81.25" width="4.37" height="2.0" rx="0.5" fill="#e5152e"/>
<rect x="132.80" y="81.75" width="0.8" height="1.0" fill="#700812" opacity="0.50"/>
<rect x="85.80" y="84.62" width="1.7" height="1.9" rx="0.6" fill="#d9892b"/>
<rect x="86.30" y="85.17" width="0.7" height="0.8" fill="#7a3e08"/>
<rect x="88.13" y="84.58" width="3.35" height="2.0" rx="0.5" fill="#a6d573"/>
<rect x="89.41" y="85.08" width="0.8" height="1.0" fill="#2c6414" opacity="0.95"/>
<rect x="92.20" y="84.58" width="4.57" height="2.0" rx="0.5" fill="#e9487c"/>
<rect x="94.08" y="85.08" width="0.8" height="1.0" fill="#7a1436" opacity="0.95"/>
<rect x="98.60" y="84.58" width="8.33" height="2.0" rx="0.5" fill="#1f6db4"/>
<rect x="102.36" y="85.08" width="0.8" height="1.0" fill="#0a2550" opacity="0.95"/>
<rect x="108.25" y="84.58" width="2.74" height="2.0" rx="0.5" fill="#948fbb"/>
<rect x="109.22" y="85.08" width="0.8" height="1.0" fill="#2e2b50" opacity="0.95"/>
<rect x="112.01" y="84.58" width="8.43" height="2.0" rx="0.5" fill="#fec40f"/>
<rect x="115.83" y="85.08" width="0.8" height="1.0" fill="#6a4c00" opacity="0.95"/>
<rect x="121.87" y="84.58" width="8.13" height="2.0" rx="0.5" fill="#66ad3c"/>
<rect x="125.53" y="85.08" width="0.8" height="1.0" fill="#2a5a14" opacity="0.60"/>
<rect x="131.02" y="84.58" width="4.37" height="2.0" rx="0.5" fill="#e5152e"/>
<rect x="132.80" y="85.08" width="0.8" height="1.0" fill="#700812" opacity="0.50"/>
<rect x="85.80" y="87.95" width="1.7" height="1.9" rx="0.6" fill="#d9892b"/>
<rect x="86.30" y="88.50" width="0.7" height="0.8" fill="#7a3e08"/>
<rect x="88.13" y="87.90" width="3.35" height="2.0" rx="0.5" fill="#a6d573"/>
<rect x="89.41" y="88.40" width="0.8" height="1.0" fill="#2c6414" opacity="0.95"/>
<rect x="92.20" y="87.90" width="4.57" height="2.0" rx="0.5" fill="#e9487c"/>
<rect x="94.08" y="88.40" width="0.8" height="1.0" fill="#7a1436" opacity="0.95"/>
<rect x="98.80" y="87.90" width="8.43" height="2.0" rx="0.5" fill="#1f6db4"/>
<rect x="102.62" y="88.40" width="0.8" height="1.0" fill="#0a2550" opacity="0.95"/>
<rect x="108.46" y="87.90" width="2.54" height="2.0" rx="0.5" fill="#948fbb"/>
<rect x="109.33" y="88.40" width="0.8" height="1.0" fill="#2e2b50" opacity="0.95"/>
<rect x="112.32" y="87.90" width="8.54" height="2.0" rx="0.5" fill="#fec40f"/>
<rect x="116.19" y="88.40" width="0.8" height="1.0" fill="#6a4c00" opacity="0.95"/>
<rect x="121.87" y="87.90" width="8.94" height="2.0" rx="0.5" fill="#66ad3c"/>
<rect x="125.94" y="88.40" width="0.8" height="1.0" fill="#2a5a14" opacity="0.60"/>
<rect x="131.32" y="87.90" width="4.37" height="2.0" rx="0.5" fill="#e5152e"/>
<rect x="133.11" y="88.40" width="0.8" height="1.0" fill="#700812" opacity="0.50"/>
<rect x="85.80" y="91.27" width="1.7" height="1.9" rx="0.6" fill="#d9892b"/>
<rect x="86.30" y="91.82" width="0.7" height="0.8" fill="#7a3e08"/>
<rect x="88.13" y="91.22" width="3.35" height="2.0" rx="0.5" fill="#a6d573"/>
<rect x="89.41" y="91.72" width="0.8" height="1.0" fill="#2c6414" opacity="0.95"/>
<rect x="92.20" y="91.22" width="4.57" height="2.0" rx="0.5" fill="#e9487c"/>
<rect x="94.08" y="91.72" width="0.8" height="1.0" fill="#7a1436" opacity="0.95"/>
<rect x="98.80" y="91.22" width="8.43" height="2.0" rx="0.5" fill="#1f6db4"/>
<rect x="102.62" y="91.72" width="0.8" height="1.0" fill="#0a2550" opacity="0.95"/>
<rect x="108.46" y="91.22" width="2.54" height="2.0" rx="0.5" fill="#948fbb"/>
<rect x="109.33" y="91.72" width="0.8" height="1.0" fill="#2e2b50" opacity="0.95"/>
<rect x="112.32" y="91.22" width="8.54" height="2.0" rx="0.5" fill="#fec40f"/>
<rect x="116.19" y="91.72" width="0.8" height="1.0" fill="#6a4c00" opacity="0.95"/>
<rect x="121.87" y="91.22" width="8.94" height="2.0" rx="0.5" fill="#66ad3c"/>
<rect x="125.94" y="91.72" width="0.8" height="1.0" fill="#2a5a14" opacity="0.60"/>
<rect x="131.32" y="91.22" width="4.37" height="2.0" rx="0.5" fill="#e5152e"/>
<rect x="133.11" y="91.72" width="0.8" height="1.0" fill="#700812" opacity="0.50"/>
<rect x="85.80" y="94.60" width="1.7" height="1.9" rx="0.6" fill="#d9892b"/>
<rect x="86.30" y="95.15" width="0.7" height="0.8" fill="#7a3e08"/>
<rect x="88.13" y="94.55" width="3.35" height="2.0" rx="0.5" fill="#a6d573"/>
<rect x="89.41" y="95.05" width="0.8" height="1.0" fill="#2c6414" opacity="0.95"/>
<rect x="92.20" y="94.55" width="4.57" height="2.0" rx="0.5" fill="#e9487c"/>
<rect x="94.08" y="95.05" width="0.8" height="1.0" fill="#7a1436" opacity="0.95"/>
<rect x="98.80" y="94.55" width="8.43" height="2.0" rx="0.5" fill="#1f6db4"/>
<rect x="102.62" y="95.05" width="0.8" height="1.0" fill="#0a2550" opacity="0.95"/>
<rect x="108.46" y="94.55" width="2.54" height="2.0" rx="0.5" fill="#948fbb"/>
<rect x="109.33" y="95.05" width="0.8" height="1.0" fill="#2e2b50" opacity="0.95"/>
<rect x="112.32" y="94.55" width="8.54" height="2.0" rx="0.5" fill="#fec40f"/>
<rect x="116.19" y="95.05" width="0.8" height="1.0" fill="#6a4c00" opacity="0.95"/>
<rect x="121.87" y="94.55" width="8.94" height="2.0" rx="0.5" fill="#66ad3c"/>
<rect x="125.94" y="95.05" width="0.8" height="1.0" fill="#2a5a14" opacity="0.60"/>
<rect x="131.32" y="94.55" width="4.37" height="2.0" rx="0.5" fill="#e5152e"/>
<rect x="133.11" y="95.05" width="0.8" height="1.0" fill="#700812" opacity="0.50"/>
<rect x="85.80" y="97.92" width="1.7" height="1.9" rx="0.6" fill="#d9892b"/>
<rect x="86.30" y="98.47" width="0.7" height="0.8" fill="#7a3e08"/>
<rect x="88.13" y="97.88" width="3.35" height="2.0" rx="0.5" fill="#a6d573"/>
<rect x="89.41" y="98.38" width="0.8" height="1.0" fill="#2c6414" opacity="0.95"/>
<rect x="92.20" y="97.88" width="4.57" height="2.0" rx="0.5" fill="#e9487c"/>
<rect x="94.08" y="98.38" width="0.8" height="1.0" fill="#7a1436" opacity="0.95"/>
<rect x="98.80" y="97.88" width="8.43" height="2.0" rx="0.5" fill="#1f6db4"/>
<rect x="102.62" y="98.38" width="0.8" height="1.0" fill="#0a2550" opacity="0.95"/>
<rect x="108.46" y="97.88" width="2.54" height="2.0" rx="0.5" fill="#948fbb"/>
<rect x="109.33" y="98.38" width="0.8" height="1.0" fill="#2e2b50" opacity="0.95"/>
<rect x="112.32" y="97.88" width="8.54" height="2.0" rx="0.5" fill="#fec40f"/>
<rect x="116.19" y="98.38" width="0.8" height="1.0" fill="#6a4c00" opacity="0.95"/>
<rect x="121.87" y="97.88" width="8.94" height="2.0" rx="0.5" fill="#66ad3c"/>
<rect x="125.94" y="98.38" width="0.8" height="1.0" fill="#2a5a14" opacity="0.60"/>
<rect x="131.32" y="97.88" width="4.37" height="2.0" rx="0.5" fill="#e5152e"/>
<rect x="133.11" y="98.38" width="0.8" height="1.0" fill="#700812" opacity="0.50"/>
<rect x="85.80" y="101.25" width="1.7" height="1.9" rx="0.6" fill="#d9892b"/>
<rect x="86.30" y="101.80" width="0.7" height="0.8" fill="#7a3e08"/>
<rect x="88.13" y="101.20" width="3.35" height="2.0" rx="0.5" fill="#a6d573"/>
<rect x="89.41" y="101.70" width="0.8" height="1.0" fill="#2c6414" opacity="0.95"/>
<rect x="92.20" y="101.20" width="4.57" height="2.0" rx="0.5" fill="#e9487c"/>
<rect x="94.08" y="101.70" width="0.8" height="1.0" fill="#7a1436" opacity="0.95"/>
<rect x="98.80" y="101.20" width="8.43" height="2.0" rx="0.5" fill="#1f6db4"/>
<rect x="102.62" y="101.70" width="0.8" height="1.0" fill="#0a2550" opacity="0.95"/>
<rect x="108.46" y="101.20" width="2.54" height="2.0" rx="0.5" fill="#948fbb"/>
<rect x="109.33" y="101.70" width="0.8" height="1.0" fill="#2e2b50" opacity="0.95"/>
<rect x="112.32" y="101.20" width="8.54" height="2.0" rx="0.5" fill="#fec40f"/>
<rect x="116.19" y="101.70" width="0.8" height="1.0" fill="#6a4c00" opacity="0.95"/>
<rect x="121.87" y="101.20" width="8.94" height="2.0" rx="0.5" fill="#66ad3c"/>
<rect x="125.94" y="101.70" width="0.8" height="1.0" fill="#2a5a14" opacity="0.60"/>
<rect x="131.32" y="101.20" width="4.37" height="2.0" rx="0.5" fill="#e5152e"/>
<rect x="133.11" y="101.70" width="0.8" height="1.0" fill="#700812" opacity="0.50"/>
<rect x="85.80" y="104.58" width="1.7" height="1.9" rx="0.6" fill="#d9892b"/>
<rect x="86.30" y="105.12" width="0.7" height="0.8" fill="#7a3e08"/>
<rect x="88.13" y="104.53" width="3.35" height="2.0" rx="0.5" fill="#a6d573"/>
<rect x="89.41" y="105.03" width="0.8" height="1.0" fill="#2c6414" opacity="0.95"/>
<rect x="92.20" y="104.53" width="4.57" height="2.0" rx="0.5" fill="#e9487c"/>
<rect x="94.08" y="105.03" width="0.8" height="1.0" fill="#7a1436" opacity="0.95"/>
<rect x="98.80" y="104.53" width="8.43" height="2.0" rx="0.5" fill="#1f6db4"/>
<rect x="102.62" y="105.03" width="0.8" height="1.0" fill="#0a2550" opacity="0.95"/>
<rect x="108.46" y="104.53" width="2.54" height="2.0" rx="0.5" fill="#948fbb"/>
<rect x="109.33" y="105.03" width="0.8" height="1.0" fill="#2e2b50" opacity="0.95"/>
<rect x="112.32" y="104.53" width="8.54" height="2.0" rx="0.5" fill="#fec40f"/>
<rect x="116.19" y="105.03" width="0.8" height="1.0" fill="#6a4c00" opacity="0.95"/>
<rect x="121.87" y="104.53" width="8.94" height="2.0" rx="0.5" fill="#66ad3c"/>
<rect x="125.94" y="105.03" width="0.8" height="1.0" fill="#2a5a14" opacity="0.60"/>
<rect x="131.32" y="104.53" width="4.37" height="2.0" rx="0.5" fill="#e5152e"/>
<rect x="133.11" y="105.03" width="0.8" height="1.0" fill="#700812" opacity="0.50"/>
<rect x="85.80" y="107.90" width="1.7" height="1.9" rx="0.6" fill="#d9892b"/>
<rect x="86.30" y="108.45" width="0.7" height="0.8" fill="#7a3e08"/>
<rect x="88.13" y="107.85" width="3.25" height="2.0" rx="0.5" fill="#a6d573"/>
<rect x="89.36" y="108.35" width="0.8" height="1.0" fill="#2c6414" opacity="0.95"/>
<rect x="92.20" y="107.85" width="4.57" height="2.0" rx="0.5" fill="#e9487c"/>
<rect x="94.08" y="108.35" width="0.8" height="1.0" fill="#7a1436" opacity="0.95"/>
<rect x="98.60" y="107.85" width="8.33" height="2.0" rx="0.5" fill="#1f6db4"/>
<rect x="102.36" y="108.35" width="0.8" height="1.0" fill="#0a2550" opacity="0.95"/>
<rect x="108.46" y="107.85" width="2.54" height="2.0" rx="0.5" fill="#948fbb"/>
<rect x="109.33" y="108.35" width="0.8" height="1.0" fill="#2e2b50" opacity="0.95"/>
<rect x="112.72" y="107.85" width="8.43" height="2.0" rx="0.5" fill="#fec40f"/>
<rect x="116.54" y="108.35" width="0.8" height="1.0" fill="#6a4c00" opacity="0.95"/>
<rect x="122.17" y="107.85" width="8.64" height="2.0" rx="0.5" fill="#66ad3c"/>
<rect x="126.09" y="108.35" width="0.8" height="1.0" fill="#2a5a14" opacity="0.60"/>
<rect x="131.63" y="107.85" width="4.27" height="2.0" rx="0.5" fill="#e5152e"/>
<rect x="133.36" y="108.35" width="0.8" height="1.0" fill="#700812" opacity="0.50"/>
<rect x="85.80" y="111.23" width="1.7" height="1.9" rx="0.6" fill="#d9892b"/>
<rect x="86.30" y="111.78" width="0.7" height="0.8" fill="#7a3e08"/>
<rect x="88.13" y="111.18" width="3.05" height="2.0" rx="0.5" fill="#a6d573"/>
<rect x="89.25" y="111.68" width="0.8" height="1.0" fill="#2c6414" opacity="0.95"/>
<rect x="94.02" y="111.18" width="4.78" height="2.0" rx="0.5" fill="#e9487c"/>
<rect x="96.01" y="111.68" width="0.8" height="1.0" fill="#7a1436" opacity="0.95"/>
<rect x="100.33" y="111.18" width="8.33" height="2.0" rx="0.5" fill="#1f6db4"/>
<rect x="104.09" y="111.68" width="0.8" height="1.0" fill="#0a2550" opacity="0.95"/>
<rect x="109.98" y="111.18" width="2.54" height="2.0" rx="0.5" fill="#948fbb"/>
<rect x="110.85" y="111.68" width="0.8" height="1.0" fill="#2e2b50" opacity="0.95"/>
<rect x="113.84" y="111.18" width="8.03" height="2.0" rx="0.5" fill="#fec40f"/>
<rect x="117.46" y="111.68" width="0.8" height="1.0" fill="#6a4c00" opacity="0.95"/>
<rect x="123.19" y="111.18" width="8.13" height="2.0" rx="0.5" fill="#66ad3c"/>
<rect x="126.86" y="111.68" width="0.8" height="1.0" fill="#2a5a14" opacity="0.60"/>
<rect x="132.03" y="111.18" width="4.07" height="2.0" rx="0.5" fill="#e5152e"/>
<rect x="133.67" y="111.68" width="0.8" height="1.0" fill="#700812" opacity="0.50"/>
<rect x="88.94" y="114.50" width="3.76" height="2.0" rx="0.5" fill="#a6d573"/>
<rect x="90.42" y="115.00" width="0.8" height="1.0" fill="#2c6414" opacity="0.95"/>
<rect x="94.74" y="114.50" width="4.37" height="2.0" rx="0.5" fill="#e9487c"/>
<rect x="96.52" y="115.00" width="0.8" height="1.0" fill="#7a1436" opacity="0.95"/>
<rect x="100.83" y="114.50" width="8.43" height="2.0" rx="0.5" fill="#1f6db4"/>
<rect x="104.65" y="115.00" width="0.8" height="1.0" fill="#0a2550" opacity="0.95"/>
<rect x="110.49" y="114.50" width="2.54" height="2.0" rx="0.5" fill="#948fbb"/>
<rect x="111.36" y="115.00" width="0.8" height="1.0" fill="#2e2b50" opacity="0.95"/>
<rect x="114.25" y="114.50" width="8.23" height="2.0" rx="0.5" fill="#fec40f"/>
<rect x="117.96" y="115.00" width="0.8" height="1.0" fill="#6a4c00" opacity="0.95"/>
<rect x="123.50" y="114.50" width="8.33" height="2.0" rx="0.5" fill="#66ad3c"/>
<rect x="127.26" y="115.00" width="0.8" height="1.0" fill="#2a5a14" opacity="0.60"/>
<rect x="132.64" y="114.50" width="4.07" height="2.0" rx="0.5" fill="#e5152e"/>
<rect x="134.27" y="115.00" width="0.8" height="1.0" fill="#700812" opacity="0.50"/>
<rect x="87.62" y="117.83" width="4.37" height="2.0" rx="0.5" fill="#a6d573"/>
<rect x="89.41" y="118.33" width="0.8" height="1.0" fill="#2c6414" opacity="0.95"/>
<rect x="93.01" y="117.83" width="4.47" height="2.0" rx="0.5" fill="#e9487c"/>
<rect x="94.84" y="118.33" width="0.8" height="1.0" fill="#7a1436" opacity="0.95"/>
<rect x="99.11" y="117.83" width="8.13" height="2.0" rx="0.5" fill="#1f6db4"/>
<rect x="102.77" y="118.33" width="0.8" height="1.0" fill="#0a2550" opacity="0.95"/>
<rect x="108.46" y="117.83" width="2.54" height="2.0" rx="0.5" fill="#948fbb"/>
<rect x="109.33" y="118.33" width="0.8" height="1.0" fill="#2e2b50" opacity="0.95"/>
<rect x="112.01" y="117.83" width="8.43" height="2.0" rx="0.5" fill="#fec40f"/>
<rect x="115.83" y="118.33" width="0.8" height="1.0" fill="#6a4c00" opacity="0.95"/>
<rect x="121.46" y="117.83" width="8.33" height="2.0" rx="0.5" fill="#66ad3c"/>
<rect x="125.23" y="118.33" width="0.8" height="1.0" fill="#2a5a14" opacity="0.60"/>
<rect x="130.30" y="117.83" width="4.37" height="2.0" rx="0.5" fill="#e5152e"/>
<rect x="132.09" y="118.33" width="0.8" height="1.0" fill="#700812" opacity="0.50"/>
<rect x="87.62" y="121.15" width="4.37" height="2.0" rx="0.5" fill="#a6d573"/>
<rect x="89.41" y="121.65" width="0.8" height="1.0" fill="#2c6414" opacity="0.95"/>
<rect x="93.01" y="121.15" width="4.47" height="2.0" rx="0.5" fill="#e9487c"/>
<rect x="94.84" y="121.65" width="0.8" height="1.0" fill="#7a1436" opacity="0.95"/>
<rect x="99.11" y="121.15" width="8.13" height="2.0" rx="0.5" fill="#1f6db4"/>
<rect x="102.77" y="121.65" width="0.8" height="1.0" fill="#0a2550" opacity="0.95"/>
<rect x="108.46" y="121.15" width="2.54" height="2.0" rx="0.5" fill="#948fbb"/>
<rect x="109.33" y="121.65" width="0.8" height="1.0" fill="#2e2b50" opacity="0.95"/>
<rect x="112.01" y="121.15" width="8.43" height="2.0" rx="0.5" fill="#fec40f"/>
<rect x="115.83" y="121.65" width="0.8" height="1.0" fill="#6a4c00" opacity="0.95"/>
<rect x="121.46" y="121.15" width="8.33" height="2.0" rx="0.5" fill="#66ad3c"/>
<rect x="125.23" y="121.65" width="0.8" height="1.0" fill="#2a5a14" opacity="0.60"/>
<rect x="130.30" y="121.15" width="4.37" height="2.0" rx="0.5" fill="#e5152e"/>
<rect x="132.09" y="121.65" width="0.8" height="1.0" fill="#700812" opacity="0.50"/>
<rect x="87.62" y="124.47" width="4.37" height="2.0" rx="0.5" fill="#a6d573"/>
<rect x="89.41" y="124.97" width="0.8" height="1.0" fill="#2c6414" opacity="0.95"/>
<rect x="93.01" y="124.47" width="4.47" height="2.0" rx="0.5" fill="#e9487c"/>
<rect x="94.84" y="124.97" width="0.8" height="1.0" fill="#7a1436" opacity="0.95"/>
<rect x="99.11" y="124.47" width="8.13" height="2.0" rx="0.5" fill="#1f6db4"/>
<rect x="102.77" y="124.97" width="0.8" height="1.0" fill="#0a2550" opacity="0.95"/>
<rect x="108.46" y="124.47" width="2.54" height="2.0" rx="0.5" fill="#948fbb"/>
<rect x="109.33" y="124.97" width="0.8" height="1.0" fill="#2e2b50" opacity="0.95"/>
<rect x="112.01" y="124.47" width="8.43" height="2.0" rx="0.5" fill="#fec40f"/>
<rect x="115.83" y="124.97" width="0.8" height="1.0" fill="#6a4c00" opacity="0.95"/>
<rect x="121.46" y="124.47" width="8.33" height="2.0" rx="0.5" fill="#66ad3c"/>
<rect x="125.23" y="124.97" width="0.8" height="1.0" fill="#2a5a14" opacity="0.60"/>
<rect x="130.30" y="124.47" width="4.37" height="2.0" rx="0.5" fill="#e5152e"/>
<rect x="132.09" y="124.97" width="0.8" height="1.0" fill="#700812" opacity="0.50"/>
<rect x="85.80" y="127.85" width="1.7" height="1.9" rx="0.6" fill="#d9892b"/>
<rect x="86.30" y="128.40" width="0.7" height="0.8" fill="#7a3e08"/>
<rect x="87.93" y="127.80" width="3.76" height="2.0" rx="0.5" fill="#a6d573"/>
<rect x="89.41" y="128.30" width="0.8" height="1.0" fill="#2c6414" opacity="0.95"/>
<rect x="93.01" y="127.80" width="4.47" height="2.0" rx="0.5" fill="#e9487c"/>
<rect x="94.84" y="128.30" width="0.8" height="1.0" fill="#7a1436" opacity="0.95"/>
<rect x="99.11" y="127.80" width="8.13" height="2.0" rx="0.5" fill="#1f6db4"/>
<rect x="102.77" y="128.30" width="0.8" height="1.0" fill="#0a2550" opacity="0.95"/>
<rect x="108.76" y="127.80" width="2.54" height="2.0" rx="0.5" fill="#948fbb"/>
<rect x="109.63" y="128.30" width="0.8" height="1.0" fill="#2e2b50" opacity="0.95"/>
<rect x="112.32" y="127.80" width="8.33" height="2.0" rx="0.5" fill="#fec40f"/>
<rect x="116.08" y="128.30" width="0.8" height="1.0" fill="#6a4c00" opacity="0.95"/>
<rect x="121.46" y="127.80" width="8.33" height="2.0" rx="0.5" fill="#66ad3c"/>
<rect x="125.23" y="128.30" width="0.8" height="1.0" fill="#2a5a14" opacity="0.60"/>
<rect x="130.61" y="127.80" width="4.27" height="2.0" rx="0.5" fill="#e5152e"/>
<rect x="132.34" y="128.30" width="0.8" height="1.0" fill="#700812" opacity="0.50"/>
<rect x="85.80" y="131.18" width="1.7" height="1.9" rx="0.6" fill="#d9892b"/>
<rect x="86.30" y="131.72" width="0.7" height="0.8" fill="#7a3e08"/>
<rect x="87.93" y="131.12" width="3.76" height="2.0" rx="0.5" fill="#a6d573"/>
<rect x="89.41" y="131.62" width="0.8" height="1.0" fill="#2c6414" opacity="0.95"/>
<rect x="93.01" y="131.12" width="4.47" height="2.0" rx="0.5" fill="#e9487c"/>
<rect x="94.84" y="131.62" width="0.8" height="1.0" fill="#7a1436" opacity="0.95"/>
<rect x="99.11" y="131.12" width="8.13" height="2.0" rx="0.5" fill="#1f6db4"/>
<rect x="102.77" y="131.62" width="0.8" height="1.0" fill="#0a2550" opacity="0.95"/>
<rect x="108.76" y="131.12" width="2.54" height="2.0" rx="0.5" fill="#948fbb"/>
<rect x="109.63" y="131.62" width="0.8" height="1.0" fill="#2e2b50" opacity="0.95"/>
<rect x="112.32" y="131.12" width="8.33" height="2.0" rx="0.5" fill="#fec40f"/>
<rect x="116.08" y="131.62" width="0.8" height="1.0" fill="#6a4c00" opacity="0.95"/>
<rect x="121.46" y="131.12" width="8.33" height="2.0" rx="0.5" fill="#66ad3c"/>
<rect x="125.23" y="131.62" width="0.8" height="1.0" fill="#2a5a14" opacity="0.60"/>
<rect x="130.61" y="131.12" width="4.27" height="2.0" rx="0.5" fill="#e5152e"/>
<rect x="132.34" y="131.62" width="0.8" height="1.0" fill="#700812" opacity="0.50"/>
<rect x="86.10" y="134.45" width="3.56" height="2.0" rx="0.5" fill="#a6d573"/>
<rect x="87.48" y="134.95" width="0.8" height="1.0" fill="#2c6414" opacity="0.95"/>
<rect x="91.99" y="134.45" width="4.78" height="2.0" rx="0.5" fill="#e9487c"/>
<rect x="93.98" y="134.95" width="0.8" height="1.0" fill="#7a1436" opacity="0.95"/>
<rect x="97.78" y="134.45" width="6.10" height="2.0" rx="0.5" fill="#5a4594"/>
<rect x="100.43" y="134.95" width="0.8" height="1.0" fill="#1c1040" opacity="0.95"/>
<rect x="110.18" y="134.45" width="1.83" height="2.0" rx="0.5" fill="#948fbb"/>
<rect x="118.41" y="134.45" width="8.33" height="2.0" rx="0.5" fill="#66ad3c"/>
<rect x="122.18" y="134.95" width="0.8" height="1.0" fill="#2a5a14" opacity="0.60"/>
<rect x="127.26" y="134.45" width="4.07" height="2.0" rx="0.5" fill="#e5152e"/>
<rect x="128.89" y="134.95" width="0.8" height="1.0" fill="#700812" opacity="0.50"/>
<rect x="86.10" y="137.78" width="3.76" height="2.0" rx="0.5" fill="#a6d573"/>
<rect x="87.58" y="138.28" width="0.8" height="1.0" fill="#2c6414" opacity="0.95"/>
<rect x="91.99" y="137.78" width="4.78" height="2.0" rx="0.5" fill="#e9487c"/>
<rect x="93.98" y="138.28" width="0.8" height="1.0" fill="#7a1436" opacity="0.95"/>
<rect x="97.78" y="137.78" width="6.10" height="2.0" rx="0.5" fill="#5a4594"/>
<rect x="100.43" y="138.28" width="0.8" height="1.0" fill="#1c1040" opacity="0.95"/>
<rect x="110.18" y="137.78" width="1.83" height="2.0" rx="0.5" fill="#948fbb"/>
<rect x="118.41" y="137.78" width="8.33" height="2.0" rx="0.5" fill="#66ad3c"/>
<rect x="122.18" y="138.28" width="0.8" height="1.0" fill="#2a5a14" opacity="0.60"/>
<rect x="127.26" y="137.78" width="4.37" height="2.0" rx="0.5" fill="#e5152e"/>
<rect x="129.04" y="138.28" width="0.8" height="1.0" fill="#700812" opacity="0.50"/>
<rect x="87.32" y="141.10" width="3.66" height="2.0" rx="0.5" fill="#a6d573"/>
<rect x="88.75" y="141.60" width="0.8" height="1.0" fill="#2c6414" opacity="0.95"/>
<rect x="91.99" y="141.10" width="4.78" height="2.0" rx="0.5" fill="#e9487c"/>
<rect x="93.98" y="141.60" width="0.8" height="1.0" fill="#7a1436" opacity="0.95"/>
<rect x="98.09" y="141.10" width="5.79" height="2.0" rx="0.5" fill="#5a4594"/>
<rect x="100.59" y="141.60" width="0.8" height="1.0" fill="#1c1040" opacity="0.95"/>
<rect x="110.18" y="141.10" width="1.83" height="2.0" rx="0.5" fill="#948fbb"/>
<rect x="119.13" y="141.10" width="8.13" height="2.0" rx="0.5" fill="#66ad3c"/>
<rect x="122.79" y="141.60" width="0.8" height="1.0" fill="#2a5a14" opacity="0.60"/>
<rect x="127.97" y="141.10" width="4.07" height="2.0" rx="0.5" fill="#e5152e"/>
<rect x="129.60" y="141.60" width="0.8" height="1.0" fill="#700812" opacity="0.50"/>
<rect x="86.10" y="144.43" width="3.56" height="2.0" rx="0.5" fill="#a6d573"/>
<rect x="87.48" y="144.93" width="0.8" height="1.0" fill="#2c6414" opacity="0.95"/>
<rect x="90.16" y="144.43" width="4.88" height="2.0" rx="0.5" fill="#e9487c"/>
<rect x="92.20" y="144.93" width="0.8" height="1.0" fill="#7a1436" opacity="0.95"/>
<rect x="126.95" y="144.43" width="4.07" height="2.0" rx="0.5" fill="#e5152e"/>
<rect x="128.58" y="144.93" width="0.8" height="1.0" fill="#700812" opacity="0.50"/>
<rect x="85.80" y="147.80" width="1.7" height="1.9" rx="0.6" fill="#d9892b"/>
<rect x="86.30" y="148.35" width="0.7" height="0.8" fill="#7a3e08"/>
<rect x="87.93" y="147.75" width="3.56" height="2.0" rx="0.5" fill="#a6d573"/>
<rect x="89.31" y="148.25" width="0.8" height="1.0" fill="#2c6414" opacity="0.95"/>
<rect x="93.01" y="147.75" width="4.47" height="2.0" rx="0.5" fill="#e9487c"/>
<rect x="94.84" y="148.25" width="0.8" height="1.0" fill="#7a1436" opacity="0.95"/>
<rect x="99.11" y="147.75" width="8.33" height="2.0" rx="0.5" fill="#1f6db4"/>
<rect x="102.87" y="148.25" width="0.8" height="1.0" fill="#0a2550" opacity="0.95"/>
<rect x="108.96" y="147.75" width="2.34" height="2.0" rx="0.5" fill="#948fbb"/>
<rect x="109.73" y="148.25" width="0.8" height="1.0" fill="#2e2b50" opacity="0.95"/>
<rect x="112.32" y="147.75" width="8.33" height="2.0" rx="0.5" fill="#fec40f"/>
<rect x="116.08" y="148.25" width="0.8" height="1.0" fill="#6a4c00" opacity="0.95"/>
<rect x="121.16" y="147.75" width="8.64" height="2.0" rx="0.5" fill="#66ad3c"/>
<rect x="125.08" y="148.25" width="0.8" height="1.0" fill="#2a5a14" opacity="0.60"/>
<rect x="130.30" y="147.75" width="4.57" height="2.0" rx="0.5" fill="#e5152e"/>
<rect x="132.19" y="148.25" width="0.8" height="1.0" fill="#700812" opacity="0.50"/>
<rect x="85.80" y="151.13" width="1.7" height="1.9" rx="0.6" fill="#d9892b"/>
<rect x="86.30" y="151.68" width="0.7" height="0.8" fill="#7a3e08"/>
<rect x="87.93" y="151.08" width="3.56" height="2.0" rx="0.5" fill="#a6d573"/>
<rect x="89.31" y="151.58" width="0.8" height="1.0" fill="#2c6414" opacity="0.95"/>
<rect x="93.01" y="151.08" width="4.47" height="2.0" rx="0.5" fill="#e9487c"/>
<rect x="94.84" y="151.58" width="0.8" height="1.0" fill="#7a1436" opacity="0.95"/>
<rect x="99.11" y="151.08" width="8.33" height="2.0" rx="0.5" fill="#1f6db4"/>
<rect x="102.87" y="151.58" width="0.8" height="1.0" fill="#0a2550" opacity="0.95"/>
<rect x="108.96" y="151.08" width="2.34" height="2.0" rx="0.5" fill="#948fbb"/>
<rect x="109.73" y="151.58" width="0.8" height="1.0" fill="#2e2b50" opacity="0.95"/>
<rect x="112.32" y="151.08" width="8.33" height="2.0" rx="0.5" fill="#fec40f"/>
<rect x="116.08" y="151.58" width="0.8" height="1.0" fill="#6a4c00" opacity="0.95"/>
<rect x="121.16" y="151.08" width="8.64" height="2.0" rx="0.5" fill="#66ad3c"/>
<rect x="125.08" y="151.58" width="0.8" height="1.0" fill="#2a5a14" opacity="0.60"/>
<rect x="130.30" y="151.08" width="4.57" height="2.0" rx="0.5" fill="#e5152e"/>
<rect x="132.19" y="151.58" width="0.8" height="1.0" fill="#700812" opacity="0.50"/>
<rect x="85.80" y="154.45" width="1.7" height="1.9" rx="0.6" fill="#d9892b"/>
<rect x="86.30" y="155.00" width="0.7" height="0.8" fill="#7a3e08"/>
<rect x="87.93" y="154.40" width="3.56" height="2.0" rx="0.5" fill="#a6d573"/>
<rect x="89.31" y="154.90" width="0.8" height="1.0" fill="#2c6414" opacity="0.95"/>
<rect x="93.01" y="154.40" width="4.47" height="2.0" rx="0.5" fill="#e9487c"/>
<rect x="94.84" y="154.90" width="0.8" height="1.0" fill="#7a1436" opacity="0.95"/>
<rect x="99.11" y="154.40" width="8.33" height="2.0" rx="0.5" fill="#1f6db4"/>
<rect x="102.87" y="154.90" width="0.8" height="1.0" fill="#0a2550" opacity="0.95"/>
<rect x="108.96" y="154.40" width="2.34" height="2.0" rx="0.5" fill="#948fbb"/>
<rect x="109.73" y="154.90" width="0.8" height="1.0" fill="#2e2b50" opacity="0.95"/>
<rect x="112.32" y="154.40" width="8.33" height="2.0" rx="0.5" fill="#fec40f"/>
<rect x="116.08" y="154.90" width="0.8" height="1.0" fill="#6a4c00" opacity="0.95"/>
<rect x="121.16" y="154.40" width="8.64" height="2.0" rx="0.5" fill="#66ad3c"/>
<rect x="125.08" y="154.90" width="0.8" height="1.0" fill="#2a5a14" opacity="0.60"/>
<rect x="130.30" y="154.40" width="4.57" height="2.0" rx="0.5" fill="#e5152e"/>
<rect x="132.19" y="154.90" width="0.8" height="1.0" fill="#700812" opacity="0.50"/>
<rect x="85.80" y="157.78" width="1.7" height="1.9" rx="0.6" fill="#d9892b"/>
<rect x="86.30" y="158.33" width="0.7" height="0.8" fill="#7a3e08"/>
<rect x="87.93" y="157.73" width="3.56" height="2.0" rx="0.5" fill="#a6d573"/>
<rect x="89.31" y="158.23" width="0.8" height="1.0" fill="#2c6414" opacity="0.95"/>
<rect x="93.01" y="157.73" width="4.47" height="2.0" rx="0.5" fill="#e9487c"/>
<rect x="94.84" y="158.23" width="0.8" height="1.0" fill="#7a1436" opacity="0.95"/>
<rect x="99.11" y="157.73" width="8.33" height="2.0" rx="0.5" fill="#1f6db4"/>
<rect x="102.87" y="158.23" width="0.8" height="1.0" fill="#0a2550" opacity="0.95"/>
<rect x="108.96" y="157.73" width="2.34" height="2.0" rx="0.5" fill="#948fbb"/>
<rect x="109.73" y="158.23" width="0.8" height="1.0" fill="#2e2b50" opacity="0.95"/>
<rect x="112.32" y="157.73" width="8.33" height="2.0" rx="0.5" fill="#fec40f"/>
<rect x="116.08" y="158.23" width="0.8" height="1.0" fill="#6a4c00" opacity="0.95"/>
<rect x="121.16" y="157.73" width="8.64" height="2.0" rx="0.5" fill="#66ad3c"/>
<rect x="125.08" y="158.23" width="0.8" height="1.0" fill="#2a5a14" opacity="0.60"/>
<rect x="130.30" y="157.73" width="4.57" height="2.0" rx="0.5" fill="#e5152e"/>
<rect x="132.19" y="158.23" width="0.8" height="1.0" fill="#700812" opacity="0.50"/>
<rect x="85.80" y="161.10" width="1.7" height="1.9" rx="0.6" fill="#d9892b"/>
<rect x="86.30" y="161.65" width="0.7" height="0.8" fill="#7a3e08"/>
<rect x="87.93" y="161.05" width="3.56" height="2.0" rx="0.5" fill="#a6d573"/>
<rect x="89.31" y="161.55" width="0.8" height="1.0" fill="#2c6414" opacity="0.95"/>
<rect x="93.01" y="161.05" width="4.47" height="2.0" rx="0.5" fill="#e9487c"/>
<rect x="94.84" y="161.55" width="0.8" height="1.0" fill="#7a1436" opacity="0.95"/>
<rect x="99.11" y="161.05" width="8.33" height="2.0" rx="0.5" fill="#1f6db4"/>
<rect x="102.87" y="161.55" width="0.8" height="1.0" fill="#0a2550" opacity="0.95"/>
<rect x="108.96" y="161.05" width="2.34" height="2.0" rx="0.5" fill="#948fbb"/>
<rect x="109.73" y="161.55" width="0.8" height="1.0" fill="#2e2b50" opacity="0.95"/>
<rect x="112.32" y="161.05" width="8.33" height="2.0" rx="0.5" fill="#fec40f"/>
<rect x="116.08" y="161.55" width="0.8" height="1.0" fill="#6a4c00" opacity="0.95"/>
<rect x="121.16" y="161.05" width="8.64" height="2.0" rx="0.5" fill="#66ad3c"/>
<rect x="125.08" y="161.55" width="0.8" height="1.0" fill="#2a5a14" opacity="0.60"/>
<rect x="130.30" y="161.05" width="4.57" height="2.0" rx="0.5" fill="#e5152e"/>
<rect x="132.19" y="161.55" width="0.8" height="1.0" fill="#700812" opacity="0.50"/>
<rect x="85.80" y="164.43" width="1.7" height="1.9" rx="0.6" fill="#d9892b"/>
<rect x="86.30" y="164.97" width="0.7" height="0.8" fill="#7a3e08"/>
<rect x="87.93" y="164.38" width="3.56" height="2.0" rx="0.5" fill="#a6d573"/>
<rect x="89.31" y="164.88" width="0.8" height="1.0" fill="#2c6414" opacity="0.95"/>
<rect x="93.01" y="164.38" width="4.47" height="2.0" rx="0.5" fill="#e9487c"/>
<rect x="94.84" y="164.88" width="0.8" height="1.0" fill="#7a1436" opacity="0.95"/>
<rect x="99.11" y="164.38" width="8.33" height="2.0" rx="0.5" fill="#1f6db4"/>
<rect x="102.87" y="164.88" width="0.8" height="1.0" fill="#0a2550" opacity="0.95"/>
<rect x="108.96" y="164.38" width="2.34" height="2.0" rx="0.5" fill="#948fbb"/>
<rect x="109.73" y="164.88" width="0.8" height="1.0" fill="#2e2b50" opacity="0.95"/>
<rect x="112.32" y="164.38" width="8.33" height="2.0" rx="0.5" fill="#fec40f"/>
<rect x="116.08" y="164.88" width="0.8" height="1.0" fill="#6a4c00" opacity="0.95"/>
<rect x="121.16" y="164.38" width="8.64" height="2.0" rx="0.5" fill="#66ad3c"/>
<rect x="125.08" y="164.88" width="0.8" height="1.0" fill="#2a5a14" opacity="0.60"/>
<rect x="130.30" y="164.38" width="4.57" height="2.0" rx="0.5" fill="#e5152e"/>
<rect x="132.19" y="164.88" width="0.8" height="1.0" fill="#700812" opacity="0.50"/>
<rect x="85.80" y="167.75" width="1.7" height="1.9" rx="0.6" fill="#d9892b"/>
<rect x="86.30" y="168.30" width="0.7" height="0.8" fill="#7a3e08"/>
<rect x="87.93" y="167.70" width="3.56" height="2.0" rx="0.5" fill="#a6d573"/>
<rect x="89.31" y="168.20" width="0.8" height="1.0" fill="#2c6414" opacity="0.95"/>
<rect x="93.01" y="167.70" width="4.47" height="2.0" rx="0.5" fill="#e9487c"/>
<rect x="94.84" y="168.20" width="0.8" height="1.0" fill="#7a1436" opacity="0.95"/>
<rect x="99.11" y="167.70" width="8.33" height="2.0" rx="0.5" fill="#1f6db4"/>
<rect x="102.87" y="168.20" width="0.8" height="1.0" fill="#0a2550" opacity="0.95"/>
<rect x="108.96" y="167.70" width="2.34" height="2.0" rx="0.5" fill="#948fbb"/>
<rect x="109.73" y="168.20" width="0.8" height="1.0" fill="#2e2b50" opacity="0.95"/>
<rect x="112.32" y="167.70" width="8.33" height="2.0" rx="0.5" fill="#fec40f"/>
<rect x="116.08" y="168.20" width="0.8" height="1.0" fill="#6a4c00" opacity="0.95"/>
<rect x="121.16" y="167.70" width="8.64" height="2.0" rx="0.5" fill="#66ad3c"/>
<rect x="125.08" y="168.20" width="0.8" height="1.0" fill="#2a5a14" opacity="0.60"/>
<rect x="130.30" y="167.70" width="4.57" height="2.0" rx="0.5" fill="#e5152e"/>
<rect x="132.19" y="168.20" width="0.8" height="1.0" fill="#700812" opacity="0.50"/>
<rect x="85.80" y="171.08" width="1.7" height="1.9" rx="0.6" fill="#d9892b"/>
<rect x="86.30" y="171.62" width="0.7" height="0.8" fill="#7a3e08"/>
<rect x="87.93" y="171.03" width="3.56" height="2.0" rx="0.5" fill="#a6d573"/>
<rect x="89.31" y="171.53" width="0.8" height="1.0" fill="#2c6414" opacity="0.95"/>
<rect x="93.01" y="171.03" width="4.47" height="2.0" rx="0.5" fill="#e9487c"/>
<rect x="94.84" y="171.53" width="0.8" height="1.0" fill="#7a1436" opacity="0.95"/>
<rect x="99.11" y="171.03" width="8.33" height="2.0" rx="0.5" fill="#1f6db4"/>
<rect x="102.87" y="171.53" width="0.8" height="1.0" fill="#0a2550" opacity="0.95"/>
<rect x="108.96" y="171.03" width="2.34" height="2.0" rx="0.5" fill="#948fbb"/>
<rect x="109.73" y="171.53" width="0.8" height="1.0" fill="#2e2b50" opacity="0.95"/>
<rect x="112.32" y="171.03" width="8.33" height="2.0" rx="0.5" fill="#fec40f"/>
<rect x="116.08" y="171.53" width="0.8" height="1.0" fill="#6a4c00" opacity="0.95"/>
<rect x="121.16" y="171.03" width="8.64" height="2.0" rx="0.5" fill="#66ad3c"/>
<rect x="125.08" y="171.53" width="0.8" height="1.0" fill="#2a5a14" opacity="0.60"/>
<rect x="130.30" y="171.03" width="4.57" height="2.0" rx="0.5" fill="#e5152e"/>
<rect x="132.19" y="171.53" width="0.8" height="1.0" fill="#700812" opacity="0.50"/>
<rect x="85.80" y="174.40" width="1.7" height="1.9" rx="0.6" fill="#d9892b"/>
<rect x="86.30" y="174.95" width="0.7" height="0.8" fill="#7a3e08"/>
<rect x="87.93" y="174.35" width="3.56" height="2.0" rx="0.5" fill="#a6d573"/>
<rect x="89.31" y="174.85" width="0.8" height="1.0" fill="#2c6414" opacity="0.95"/>
<rect x="93.01" y="174.35" width="4.47" height="2.0" rx="0.5" fill="#e9487c"/>
<rect x="94.84" y="174.85" width="0.8" height="1.0" fill="#7a1436" opacity="0.95"/>
<rect x="99.11" y="174.35" width="8.33" height="2.0" rx="0.5" fill="#1f6db4"/>
<rect x="102.87" y="174.85" width="0.8" height="1.0" fill="#0a2550" opacity="0.95"/>
<rect x="108.96" y="174.35" width="2.34" height="2.0" rx="0.5" fill="#948fbb"/>
<rect x="109.73" y="174.85" width="0.8" height="1.0" fill="#2e2b50" opacity="0.95"/>
<rect x="112.32" y="174.35" width="8.33" height="2.0" rx="0.5" fill="#fec40f"/>
<rect x="116.08" y="174.85" width="0.8" height="1.0" fill="#6a4c00" opacity="0.95"/>
<rect x="121.16" y="174.35" width="8.64" height="2.0" rx="0.5" fill="#66ad3c"/>
<rect x="125.08" y="174.85" width="0.8" height="1.0" fill="#2a5a14" opacity="0.60"/>
<rect x="130.30" y="174.35" width="4.57" height="2.0" rx="0.5" fill="#e5152e"/>
<rect x="132.19" y="174.85" width="0.8" height="1.0" fill="#700812" opacity="0.50"/>
<rect x="87.93" y="177.68" width="3.56" height="2.0" rx="0.5" fill="#a6d573"/>
<rect x="89.31" y="178.18" width="0.8" height="1.0" fill="#2c6414" opacity="0.95"/>
<rect x="93.01" y="177.68" width="4.47" height="2.0" rx="0.5" fill="#e9487c"/>
<rect x="94.84" y="178.18" width="0.8" height="1.0" fill="#7a1436" opacity="0.95"/>
<rect x="99.51" y="177.68" width="8.13" height="2.0" rx="0.5" fill="#1f6db4"/>
<rect x="103.18" y="178.18" width="0.8" height="1.0" fill="#0a2550" opacity="0.95"/>
<rect x="109.27" y="177.68" width="2.03" height="2.0" rx="0.5" fill="#948fbb"/>
<rect x="109.88" y="178.18" width="0.8" height="1.0" fill="#2e2b50" opacity="0.95"/>
<rect x="112.72" y="177.68" width="8.13" height="2.0" rx="0.5" fill="#fec40f"/>
<rect x="116.39" y="178.18" width="0.8" height="1.0" fill="#6a4c00" opacity="0.95"/>
<rect x="121.87" y="177.68" width="7.93" height="2.0" rx="0.5" fill="#66ad3c"/>
<rect x="125.43" y="178.18" width="0.8" height="1.0" fill="#2a5a14" opacity="0.60"/>
<rect x="130.81" y="177.68" width="4.07" height="2.0" rx="0.5" fill="#e5152e"/>
<rect x="132.45" y="178.18" width="0.8" height="1.0" fill="#700812" opacity="0.50"/>
<rect x="139.00" y="177.68" width="4.30" height="2.0" rx="0.5" fill="#e9487c"/>
<rect x="140.75" y="178.18" width="0.8" height="1.0" fill="#7a1436" opacity="0.95"/>
<rect x="145.10" y="177.68" width="8.10" height="2.0" rx="0.5" fill="#1f6db4"/>
<rect x="148.75" y="178.18" width="0.8" height="1.0" fill="#0a2550" opacity="0.95"/>
<rect x="154.20" y="177.68" width="2.60" height="2.0" rx="0.5" fill="#948fbb"/>
<rect x="155.10" y="178.18" width="0.8" height="1.0" fill="#2e2b50" opacity="0.95"/>
<rect x="158.10" y="177.68" width="8.50" height="2.0" rx="0.5" fill="#fec40f"/>
<rect x="161.95" y="178.18" width="0.8" height="1.0" fill="#6a4c00" opacity="0.95"/>
<rect x="167.20" y="177.68" width="8.40" height="2.0" rx="0.5" fill="#66ad3c"/>
<rect x="171.00" y="178.18" width="0.8" height="1.0" fill="#2a5a14" opacity="0.60"/>
<rect x="176.10" y="177.68" width="4.00" height="2.0" rx="0.5" fill="#e5152e"/>
<rect x="177.70" y="178.18" width="0.8" height="1.0" fill="#700812" opacity="0.50"/>
<rect x="196.40" y="177.68" width="4.60" height="2.0" rx="0.5" fill="#a6d573"/>
<rect x="198.30" y="178.18" width="0.8" height="1.0" fill="#2c6414" opacity="0.95"/>
<rect x="254.10" y="177.73" width="1.7" height="1.9" rx="0.6" fill="#d9892b"/>
<rect x="254.60" y="178.28" width="0.7" height="0.8" fill="#7a3e08"/>
<rect x="87.93" y="181.00" width="3.56" height="2.0" rx="0.5" fill="#a6d573"/>
<rect x="89.31" y="181.50" width="0.8" height="1.0" fill="#2c6414" opacity="0.95"/>
<rect x="93.01" y="181.00" width="4.47" height="2.0" rx="0.5" fill="#e9487c"/>
<rect x="94.84" y="181.50" width="0.8" height="1.0" fill="#7a1436" opacity="0.95"/>
<rect x="99.11" y="181.00" width="8.13" height="2.0" rx="0.5" fill="#1f6db4"/>
<rect x="102.77" y="181.50" width="0.8" height="1.0" fill="#0a2550" opacity="0.95"/>
<rect x="108.66" y="181.00" width="2.34" height="2.0" rx="0.5" fill="#948fbb"/>
<rect x="109.43" y="181.50" width="0.8" height="1.0" fill="#2e2b50" opacity="0.95"/>
<rect x="112.01" y="181.00" width="8.43" height="2.0" rx="0.5" fill="#fec40f"/>
<rect x="115.83" y="181.50" width="0.8" height="1.0" fill="#6a4c00" opacity="0.95"/>
<rect x="121.16" y="181.00" width="8.64" height="2.0" rx="0.5" fill="#66ad3c"/>
<rect x="125.08" y="181.50" width="0.8" height="1.0" fill="#2a5a14" opacity="0.60"/>
<rect x="130.30" y="181.00" width="4.37" height="2.0" rx="0.5" fill="#e5152e"/>
<rect x="132.09" y="181.50" width="0.8" height="1.0" fill="#700812" opacity="0.50"/>
<rect x="138.10" y="181.00" width="4.70" height="2.0" rx="0.5" fill="#e9487c"/>
<rect x="140.05" y="181.50" width="0.8" height="1.0" fill="#7a1436" opacity="0.95"/>
<rect x="144.30" y="181.00" width="8.70" height="2.0" rx="0.5" fill="#1f6db4"/>
<rect x="148.25" y="181.50" width="0.8" height="1.0" fill="#0a2550" opacity="0.95"/>
<rect x="154.00" y="181.00" width="2.80" height="2.0" rx="0.5" fill="#948fbb"/>
<rect x="155.00" y="181.50" width="0.8" height="1.0" fill="#2e2b50" opacity="0.95"/>
<rect x="157.50" y="181.00" width="8.70" height="2.0" rx="0.5" fill="#fec40f"/>
<rect x="161.45" y="181.50" width="0.8" height="1.0" fill="#6a4c00" opacity="0.95"/>
<rect x="166.90" y="181.00" width="8.10" height="2.0" rx="0.5" fill="#66ad3c"/>
<rect x="170.55" y="181.50" width="0.8" height="1.0" fill="#2a5a14" opacity="0.60"/>
<rect x="175.80" y="181.00" width="4.00" height="2.0" rx="0.5" fill="#e5152e"/>
<rect x="177.40" y="181.50" width="0.8" height="1.0" fill="#700812" opacity="0.50"/>
<rect x="196.40" y="181.00" width="4.10" height="2.0" rx="0.5" fill="#a6d573"/>
<rect x="198.05" y="181.50" width="0.8" height="1.0" fill="#2c6414" opacity="0.95"/>
<rect x="253.40" y="181.05" width="1.7" height="1.9" rx="0.6" fill="#d9892b"/>
<rect x="253.90" y="181.60" width="0.7" height="0.8" fill="#7a3e08"/>
<rect x="86.30" y="184.33" width="3.35" height="2.0" rx="0.5" fill="#a6d573"/>
<rect x="87.58" y="184.83" width="0.8" height="1.0" fill="#2c6414" opacity="0.95"/>
<rect x="138.10" y="184.33" width="4.70" height="2.0" rx="0.5" fill="#e9487c"/>
<rect x="140.05" y="184.83" width="0.8" height="1.0" fill="#7a1436" opacity="0.95"/>
<rect x="144.30" y="184.33" width="8.70" height="2.0" rx="0.5" fill="#1f6db4"/>
<rect x="148.25" y="184.83" width="0.8" height="1.0" fill="#0a2550" opacity="0.95"/>
<rect x="154.00" y="184.33" width="2.80" height="2.0" rx="0.5" fill="#948fbb"/>
<rect x="155.00" y="184.83" width="0.8" height="1.0" fill="#2e2b50" opacity="0.95"/>
<rect x="157.30" y="184.33" width="8.60" height="2.0" rx="0.5" fill="#fec40f"/>
<rect x="161.20" y="184.83" width="0.8" height="1.0" fill="#6a4c00" opacity="0.95"/>
<rect x="166.60" y="184.33" width="8.20" height="2.0" rx="0.5" fill="#66ad3c"/>
<rect x="170.30" y="184.83" width="0.8" height="1.0" fill="#2a5a14" opacity="0.60"/>
<rect x="175.40" y="184.33" width="4.00" height="2.0" rx="0.5" fill="#e5152e"/>
<rect x="177.00" y="184.83" width="0.8" height="1.0" fill="#700812" opacity="0.50"/>
<rect x="86.30" y="187.65" width="3.56" height="2.0" rx="0.5" fill="#a6d573"/>
<rect x="87.68" y="188.15" width="0.8" height="1.0" fill="#2c6414" opacity="0.95"/>
<rect x="136.00" y="187.65" width="4.50" height="2.0" rx="0.5" fill="#e9487c"/>
<rect x="137.85" y="188.15" width="0.8" height="1.0" fill="#7a1436" opacity="0.95"/>
<rect x="142.20" y="187.65" width="8.00" height="2.0" rx="0.5" fill="#1f6db4"/>
<rect x="145.80" y="188.15" width="0.8" height="1.0" fill="#0a2550" opacity="0.95"/>
<rect x="151.40" y="187.65" width="2.60" height="2.0" rx="0.5" fill="#948fbb"/>
<rect x="152.30" y="188.15" width="0.8" height="1.0" fill="#2e2b50" opacity="0.95"/>
<rect x="155.00" y="187.65" width="8.40" height="2.0" rx="0.5" fill="#fec40f"/>
<rect x="158.80" y="188.15" width="0.8" height="1.0" fill="#6a4c00" opacity="0.95"/>
<rect x="164.20" y="187.65" width="8.30" height="2.0" rx="0.5" fill="#66ad3c"/>
<rect x="167.95" y="188.15" width="0.8" height="1.0" fill="#2a5a14" opacity="0.60"/>
<rect x="173.00" y="187.65" width="4.10" height="2.0" rx="0.5" fill="#e5152e"/>
<rect x="174.65" y="188.15" width="0.8" height="1.0" fill="#700812" opacity="0.50"/>
<rect x="88.33" y="190.98" width="4.37" height="2.0" rx="0.5" fill="#a6d573"/>
<rect x="90.12" y="191.48" width="0.8" height="1.0" fill="#2c6414" opacity="0.95"/>
<rect x="107.95" y="190.98" width="6.10" height="2.0" rx="0.5" fill="#5a4594"/>
<rect x="110.60" y="191.48" width="0.8" height="1.0" fill="#1c1040" opacity="0.95"/>
<rect x="117.09" y="190.98" width="4.57" height="2.0" rx="0.5" fill="#e9487c"/>
<rect x="118.98" y="191.48" width="0.8" height="1.0" fill="#7a1436" opacity="0.95"/>
<rect x="123.19" y="190.98" width="8.43" height="2.0" rx="0.5" fill="#1f6db4"/>
<rect x="127.01" y="191.48" width="0.8" height="1.0" fill="#0a2550" opacity="0.95"/>
<rect x="133.05" y="190.98" width="2.64" height="2.0" rx="0.5" fill="#948fbb"/>
<rect x="133.97" y="191.48" width="0.8" height="1.0" fill="#2e2b50" opacity="0.95"/>
<rect x="136.40" y="190.98" width="8.43" height="2.0" rx="0.5" fill="#fec40f"/>
<rect x="140.22" y="191.48" width="0.8" height="1.0" fill="#6a4c00" opacity="0.95"/>
<rect x="145.85" y="190.98" width="8.13" height="2.0" rx="0.5" fill="#66ad3c"/>
<rect x="149.52" y="191.48" width="0.8" height="1.0" fill="#2a5a14" opacity="0.60"/>
<rect x="154.49" y="190.98" width="3.96" height="2.0" rx="0.5" fill="#e5152e"/>
<rect x="156.07" y="191.48" width="0.8" height="1.0" fill="#700812" opacity="0.50"/>
<rect x="88.64" y="194.30" width="4.07" height="2.0" rx="0.5" fill="#a6d573"/>
<rect x="90.27" y="194.80" width="0.8" height="1.0" fill="#2c6414" opacity="0.95"/>
<rect x="101.34" y="194.30" width="5.59" height="2.0" rx="0.5" fill="#5a4594"/>
<rect x="103.74" y="194.80" width="0.8" height="1.0" fill="#1c1040" opacity="0.95"/>
<rect x="107.95" y="194.30" width="6.10" height="2.0" rx="0.5" fill="#5a4594"/>
<rect x="110.60" y="194.80" width="0.8" height="1.0" fill="#1c1040" opacity="0.95"/>
<rect x="117.09" y="194.30" width="4.57" height="2.0" rx="0.5" fill="#e9487c"/>
<rect x="118.98" y="194.80" width="0.8" height="1.0" fill="#7a1436" opacity="0.95"/>
<rect x="123.50" y="194.30" width="8.33" height="2.0" rx="0.5" fill="#1f6db4"/>
<rect x="127.26" y="194.80" width="0.8" height="1.0" fill="#0a2550" opacity="0.95"/>
<rect x="133.35" y="194.30" width="2.34" height="2.0" rx="0.5" fill="#948fbb"/>
<rect x="134.12" y="194.80" width="0.8" height="1.0" fill="#2e2b50" opacity="0.95"/>
<rect x="136.71" y="194.30" width="8.33" height="2.0" rx="0.5" fill="#fec40f"/>
<rect x="140.47" y="194.80" width="0.8" height="1.0" fill="#6a4c00" opacity="0.95"/>
<rect x="145.85" y="194.30" width="8.13" height="2.0" rx="0.5" fill="#66ad3c"/>
<rect x="149.52" y="194.80" width="0.8" height="1.0" fill="#2a5a14" opacity="0.60"/>
<rect x="154.70" y="194.30" width="4.07" height="2.0" rx="0.5" fill="#e5152e"/>
<rect x="156.33" y="194.80" width="0.8" height="1.0" fill="#700812" opacity="0.50"/>
<rect x="88.33" y="197.63" width="4.37" height="2.0" rx="0.5" fill="#a6d573"/>
<rect x="90.12" y="198.13" width="0.8" height="1.0" fill="#2c6414" opacity="0.95"/>
<rect x="107.95" y="197.63" width="6.10" height="2.0" rx="0.5" fill="#5a4594"/>
<rect x="110.60" y="198.13" width="0.8" height="1.0" fill="#1c1040" opacity="0.95"/>
<rect x="117.09" y="197.63" width="4.57" height="2.0" rx="0.5" fill="#e9487c"/>
<rect x="118.98" y="198.13" width="0.8" height="1.0" fill="#7a1436" opacity="0.95"/>
<rect x="123.50" y="197.63" width="8.33" height="2.0" rx="0.5" fill="#1f6db4"/>
<rect x="127.26" y="198.13" width="0.8" height="1.0" fill="#0a2550" opacity="0.95"/>
<rect x="133.35" y="197.63" width="2.34" height="2.0" rx="0.5" fill="#948fbb"/>
<rect x="134.12" y="198.13" width="0.8" height="1.0" fill="#2e2b50" opacity="0.95"/>
<rect x="136.71" y="197.63" width="8.33" height="2.0" rx="0.5" fill="#fec40f"/>
<rect x="140.47" y="198.13" width="0.8" height="1.0" fill="#6a4c00" opacity="0.95"/>
<rect x="145.85" y="197.63" width="8.13" height="2.0" rx="0.5" fill="#66ad3c"/>
<rect x="149.52" y="198.13" width="0.8" height="1.0" fill="#2a5a14" opacity="0.60"/>
<rect x="154.70" y="197.63" width="4.07" height="2.0" rx="0.5" fill="#e5152e"/>
<rect x="156.33" y="198.13" width="0.8" height="1.0" fill="#700812" opacity="0.50"/>
<rect x="90.67" y="200.95" width="4.78" height="2.0" rx="0.5" fill="#a6d573"/>
<rect x="92.66" y="201.45" width="0.8" height="1.0" fill="#2c6414" opacity="0.95"/>
<rect x="118.11" y="200.95" width="4.57" height="2.0" rx="0.5" fill="#e5152e"/>
<rect x="120.00" y="201.45" width="0.8" height="1.0" fill="#700812" opacity="0.50"/>
<rect x="128.27" y="200.95" width="4.57" height="2.0" rx="0.5" fill="#e9487c"/>
<rect x="130.16" y="201.45" width="0.8" height="1.0" fill="#7a1436" opacity="0.95"/>
<rect x="134.88" y="200.95" width="7.93" height="2.0" rx="0.5" fill="#1f6db4"/>
<rect x="138.44" y="201.45" width="0.8" height="1.0" fill="#0a2550" opacity="0.95"/>
<rect x="148.09" y="200.95" width="8.64" height="2.0" rx="0.5" fill="#fec40f"/>
<rect x="152.01" y="201.45" width="0.8" height="1.0" fill="#6a4c00" opacity="0.95"/>
<rect x="158.80" y="200.95" width="8.10" height="2.0" rx="0.5" fill="#66ad3c"/>
<rect x="162.45" y="201.45" width="0.8" height="1.0" fill="#2a5a14" opacity="0.60"/>
<rect x="87.62" y="204.28" width="4.07" height="2.0" rx="0.5" fill="#a6d573"/>
<rect x="89.25" y="204.78" width="0.8" height="1.0" fill="#2c6414" opacity="0.95"/>
<rect x="106.93" y="204.28" width="4.07" height="2.0" rx="0.5" fill="#e9487c"/>
<rect x="108.56" y="204.78" width="0.8" height="1.0" fill="#7a1436" opacity="0.95"/>
<rect x="113.03" y="204.28" width="8.13" height="2.0" rx="0.5" fill="#1f6db4"/>
<rect x="116.69" y="204.78" width="0.8" height="1.0" fill="#0a2550" opacity="0.95"/>
<rect x="125.53" y="204.28" width="8.33" height="2.0" rx="0.5" fill="#fec40f"/>
<rect x="129.30" y="204.78" width="0.8" height="1.0" fill="#6a4c00" opacity="0.95"/>
<rect x="135.39" y="204.28" width="8.64" height="2.0" rx="0.5" fill="#66ad3c"/>
<rect x="139.31" y="204.78" width="0.8" height="1.0" fill="#2a5a14" opacity="0.60"/>
<rect x="91.18" y="207.60" width="4.07" height="2.0" rx="0.5" fill="#a6d573"/>
<rect x="92.81" y="208.10" width="0.8" height="1.0" fill="#2c6414" opacity="0.95"/>
<rect x="106.93" y="207.60" width="4.07" height="2.0" rx="0.5" fill="#e9487c"/>
<rect x="108.56" y="208.10" width="0.8" height="1.0" fill="#7a1436" opacity="0.95"/>
<rect x="113.03" y="207.60" width="8.13" height="2.0" rx="0.5" fill="#1f6db4"/>
<rect x="116.69" y="208.10" width="0.8" height="1.0" fill="#0a2550" opacity="0.95"/>
<rect x="123.19" y="207.60" width="3.05" height="2.0" rx="0.5" fill="#948fbb"/>
<rect x="124.32" y="208.10" width="0.8" height="1.0" fill="#2e2b50" opacity="0.95"/>
<rect x="126.95" y="207.60" width="8.74" height="2.0" rx="0.5" fill="#fec40f"/>
<rect x="130.92" y="208.10" width="0.8" height="1.0" fill="#6a4c00" opacity="0.95"/>
<rect x="136.40" y="207.60" width="8.13" height="2.0" rx="0.5" fill="#66ad3c"/>
<rect x="140.07" y="208.10" width="0.8" height="1.0" fill="#2a5a14" opacity="0.60"/>
<rect x="145.04" y="207.60" width="4.57" height="2.0" rx="0.5" fill="#e5152e"/>
<rect x="146.93" y="208.10" width="0.8" height="1.0" fill="#700812" opacity="0.50"/>
<rect x="91.18" y="210.93" width="4.07" height="2.0" rx="0.5" fill="#a6d573"/>
<rect x="92.81" y="211.43" width="0.8" height="1.0" fill="#2c6414" opacity="0.95"/>
<rect x="106.93" y="210.93" width="4.07" height="2.0" rx="0.5" fill="#e9487c"/>
<rect x="108.56" y="211.43" width="0.8" height="1.0" fill="#7a1436" opacity="0.95"/>
<rect x="113.03" y="210.93" width="8.13" height="2.0" rx="0.5" fill="#1f6db4"/>
<rect x="116.69" y="211.43" width="0.8" height="1.0" fill="#0a2550" opacity="0.95"/>
<rect x="123.19" y="210.93" width="3.05" height="2.0" rx="0.5" fill="#948fbb"/>
<rect x="124.32" y="211.43" width="0.8" height="1.0" fill="#2e2b50" opacity="0.95"/>
<rect x="126.95" y="210.93" width="8.74" height="2.0" rx="0.5" fill="#fec40f"/>
<rect x="130.92" y="211.43" width="0.8" height="1.0" fill="#6a4c00" opacity="0.95"/>
<rect x="136.40" y="210.93" width="8.13" height="2.0" rx="0.5" fill="#66ad3c"/>
<rect x="140.07" y="211.43" width="0.8" height="1.0" fill="#2a5a14" opacity="0.60"/>
<rect x="145.04" y="210.93" width="4.57" height="2.0" rx="0.5" fill="#e5152e"/>
<rect x="146.93" y="211.43" width="0.8" height="1.0" fill="#700812" opacity="0.50"/>
<rect x="91.18" y="214.25" width="4.07" height="2.0" rx="0.5" fill="#a6d573"/>
<rect x="92.81" y="214.75" width="0.8" height="1.0" fill="#2c6414" opacity="0.95"/>
<rect x="106.93" y="214.25" width="4.07" height="2.0" rx="0.5" fill="#e9487c"/>
<rect x="108.56" y="214.75" width="0.8" height="1.0" fill="#7a1436" opacity="0.95"/>
<rect x="113.03" y="214.25" width="8.13" height="2.0" rx="0.5" fill="#1f6db4"/>
<rect x="116.69" y="214.75" width="0.8" height="1.0" fill="#0a2550" opacity="0.95"/>
<rect x="123.19" y="214.25" width="3.05" height="2.0" rx="0.5" fill="#948fbb"/>
<rect x="124.32" y="214.75" width="0.8" height="1.0" fill="#2e2b50" opacity="0.95"/>
<rect x="126.95" y="214.25" width="8.74" height="2.0" rx="0.5" fill="#fec40f"/>
<rect x="130.92" y="214.75" width="0.8" height="1.0" fill="#6a4c00" opacity="0.95"/>
<rect x="136.40" y="214.25" width="8.13" height="2.0" rx="0.5" fill="#66ad3c"/>
<rect x="140.07" y="214.75" width="0.8" height="1.0" fill="#2a5a14" opacity="0.60"/>
<rect x="145.04" y="214.25" width="4.57" height="2.0" rx="0.5" fill="#e5152e"/>
<rect x="146.93" y="214.75" width="0.8" height="1.0" fill="#700812" opacity="0.50"/>
<rect x="88.94" y="217.58" width="3.76" height="2.0" rx="0.5" fill="#a6d573"/>
<rect x="90.42" y="218.08" width="0.8" height="1.0" fill="#2c6414" opacity="0.95"/>
<rect x="99.11" y="217.58" width="4.78" height="2.0" rx="0.5" fill="#e9487c"/>
<rect x="101.09" y="218.08" width="0.8" height="1.0" fill="#7a1436" opacity="0.95"/>
<rect x="104.90" y="217.58" width="5.59" height="2.0" rx="0.5" fill="#5a4594"/>
<rect x="107.29" y="218.08" width="0.8" height="1.0" fill="#1c1040" opacity="0.95"/>
<rect x="115.57" y="217.58" width="2.54" height="2.0" rx="0.5" fill="#948fbb"/>
<rect x="116.44" y="218.08" width="0.8" height="1.0" fill="#2e2b50" opacity="0.95"/>
<rect x="118.82" y="217.58" width="8.13" height="2.0" rx="0.5" fill="#fec40f"/>
<rect x="122.49" y="218.08" width="0.8" height="1.0" fill="#6a4c00" opacity="0.95"/>
<rect x="127.97" y="217.58" width="8.13" height="2.0" rx="0.5" fill="#66ad3c"/>
<rect x="131.63" y="218.08" width="0.8" height="1.0" fill="#2a5a14" opacity="0.60"/>
<rect x="136.91" y="217.58" width="4.07" height="2.0" rx="0.5" fill="#e5152e"/>
<rect x="138.54" y="218.08" width="0.8" height="1.0" fill="#700812" opacity="0.50"/>
<rect x="88.94" y="220.90" width="3.76" height="2.0" rx="0.5" fill="#a6d573"/>
<rect x="90.42" y="221.40" width="0.8" height="1.0" fill="#2c6414" opacity="0.95"/>
<rect x="99.11" y="220.90" width="4.27" height="2.0" rx="0.5" fill="#e9487c"/>
<rect x="100.84" y="221.40" width="0.8" height="1.0" fill="#7a1436" opacity="0.95"/>
<rect x="104.39" y="220.90" width="5.59" height="2.0" rx="0.5" fill="#5a4594"/>
<rect x="106.78" y="221.40" width="0.8" height="1.0" fill="#1c1040" opacity="0.95"/>
<rect x="115.57" y="220.90" width="2.24" height="2.0" rx="0.5" fill="#948fbb"/>
<rect x="116.29" y="221.40" width="0.8" height="1.0" fill="#2e2b50" opacity="0.95"/>
<rect x="118.41" y="220.90" width="7.83" height="2.0" rx="0.5" fill="#fec40f"/>
<rect x="121.93" y="221.40" width="0.8" height="1.0" fill="#6a4c00" opacity="0.95"/>
<rect x="127.26" y="220.90" width="8.43" height="2.0" rx="0.5" fill="#66ad3c"/>
<rect x="131.07" y="221.40" width="0.8" height="1.0" fill="#2a5a14" opacity="0.60"/>
<rect x="136.10" y="220.90" width="3.86" height="2.0" rx="0.5" fill="#e5152e"/>
<rect x="137.63" y="221.40" width="0.8" height="1.0" fill="#700812" opacity="0.50"/>
<rect x="89.65" y="224.23" width="4.07" height="2.0" rx="0.5" fill="#a6d573"/>
<rect x="91.29" y="224.73" width="0.8" height="1.0" fill="#2c6414" opacity="0.95"/>
<rect x="99.11" y="224.23" width="4.47" height="2.0" rx="0.5" fill="#e9487c"/>
<rect x="100.94" y="224.73" width="0.8" height="1.0" fill="#7a1436" opacity="0.95"/>
<rect x="104.90" y="224.23" width="5.59" height="2.0" rx="0.5" fill="#5a4594"/>
<rect x="107.29" y="224.73" width="0.8" height="1.0" fill="#1c1040" opacity="0.95"/>
<rect x="115.57" y="224.23" width="2.54" height="2.0" rx="0.5" fill="#948fbb"/>
<rect x="116.44" y="224.73" width="0.8" height="1.0" fill="#2e2b50" opacity="0.95"/>
<rect x="118.62" y="224.23" width="8.33" height="2.0" rx="0.5" fill="#fec40f"/>
<rect x="122.38" y="224.73" width="0.8" height="1.0" fill="#6a4c00" opacity="0.95"/>
<rect x="127.76" y="224.23" width="8.33" height="2.0" rx="0.5" fill="#66ad3c"/>
<rect x="131.53" y="224.73" width="0.8" height="1.0" fill="#2a5a14" opacity="0.60"/>
<rect x="136.71" y="224.23" width="4.27" height="2.0" rx="0.5" fill="#e5152e"/>
<rect x="138.44" y="224.73" width="0.8" height="1.0" fill="#700812" opacity="0.50"/>
<rect x="86.11" y="227.60" width="1.7" height="1.9" rx="0.6" fill="#d9892b"/>
<rect x="86.61" y="228.15" width="0.7" height="0.8" fill="#7a3e08"/>
<rect x="90.16" y="227.55" width="3.56" height="2.0" rx="0.5" fill="#a6d573"/>
<rect x="91.54" y="228.05" width="0.8" height="1.0" fill="#2c6414" opacity="0.95"/>
<rect x="97.07" y="227.55" width="4.47" height="2.0" rx="0.5" fill="#e9487c"/>
<rect x="98.91" y="228.05" width="0.8" height="1.0" fill="#7a1436" opacity="0.95"/>
<rect x="103.17" y="227.55" width="8.54" height="2.0" rx="0.5" fill="#1f6db4"/>
<rect x="107.04" y="228.05" width="0.8" height="1.0" fill="#0a2550" opacity="0.95"/>
<rect x="113.03" y="227.55" width="2.34" height="2.0" rx="0.5" fill="#948fbb"/>
<rect x="113.80" y="228.05" width="0.8" height="1.0" fill="#2e2b50" opacity="0.95"/>
<rect x="116.79" y="227.55" width="8.43" height="2.0" rx="0.5" fill="#fec40f"/>
<rect x="120.61" y="228.05" width="0.8" height="1.0" fill="#6a4c00" opacity="0.95"/>
<rect x="125.93" y="227.55" width="8.43" height="2.0" rx="0.5" fill="#66ad3c"/>
<rect x="129.75" y="228.05" width="0.8" height="1.0" fill="#2a5a14" opacity="0.60"/>
<rect x="135.08" y="227.55" width="3.86" height="2.0" rx="0.5" fill="#e5152e"/>
<rect x="136.61" y="228.05" width="0.8" height="1.0" fill="#700812" opacity="0.50"/>
<rect x="86.11" y="230.93" width="1.7" height="1.9" rx="0.6" fill="#d9892b"/>
<rect x="86.61" y="231.48" width="0.7" height="0.8" fill="#7a3e08"/>
<rect x="90.16" y="230.88" width="3.56" height="2.0" rx="0.5" fill="#a6d573"/>
<rect x="91.54" y="231.38" width="0.8" height="1.0" fill="#2c6414" opacity="0.95"/>
<rect x="97.07" y="230.88" width="4.47" height="2.0" rx="0.5" fill="#e9487c"/>
<rect x="98.91" y="231.38" width="0.8" height="1.0" fill="#7a1436" opacity="0.95"/>
<rect x="103.17" y="230.88" width="8.54" height="2.0" rx="0.5" fill="#1f6db4"/>
<rect x="107.04" y="231.38" width="0.8" height="1.0" fill="#0a2550" opacity="0.95"/>
<rect x="113.03" y="230.88" width="2.34" height="2.0" rx="0.5" fill="#948fbb"/>
<rect x="113.80" y="231.38" width="0.8" height="1.0" fill="#2e2b50" opacity="0.95"/>
<rect x="116.79" y="230.88" width="8.43" height="2.0" rx="0.5" fill="#fec40f"/>
<rect x="120.61" y="231.38" width="0.8" height="1.0" fill="#6a4c00" opacity="0.95"/>
<rect x="125.93" y="230.88" width="8.43" height="2.0" rx="0.5" fill="#66ad3c"/>
<rect x="129.75" y="231.38" width="0.8" height="1.0" fill="#2a5a14" opacity="0.60"/>
<rect x="135.08" y="230.88" width="3.86" height="2.0" rx="0.5" fill="#e5152e"/>
<rect x="136.61" y="231.38" width="0.8" height="1.0" fill="#700812" opacity="0.50"/>
<rect x="86.11" y="234.25" width="1.7" height="1.9" rx="0.6" fill="#d9892b"/>
<rect x="86.61" y="234.80" width="0.7" height="0.8" fill="#7a3e08"/>
<rect x="90.16" y="234.20" width="3.56" height="2.0" rx="0.5" fill="#a6d573"/>
<rect x="91.54" y="234.70" width="0.8" height="1.0" fill="#2c6414" opacity="0.95"/>
<rect x="97.07" y="234.20" width="4.47" height="2.0" rx="0.5" fill="#e9487c"/>
<rect x="98.91" y="234.70" width="0.8" height="1.0" fill="#7a1436" opacity="0.95"/>
<rect x="103.17" y="234.20" width="8.54" height="2.0" rx="0.5" fill="#1f6db4"/>
<rect x="107.04" y="234.70" width="0.8" height="1.0" fill="#0a2550" opacity="0.95"/>
<rect x="113.03" y="234.20" width="2.34" height="2.0" rx="0.5" fill="#948fbb"/>
<rect x="113.80" y="234.70" width="0.8" height="1.0" fill="#2e2b50" opacity="0.95"/>
<rect x="116.79" y="234.20" width="8.43" height="2.0" rx="0.5" fill="#fec40f"/>
<rect x="120.61" y="234.70" width="0.8" height="1.0" fill="#6a4c00" opacity="0.95"/>
<rect x="125.93" y="234.20" width="8.43" height="2.0" rx="0.5" fill="#66ad3c"/>
<rect x="129.75" y="234.70" width="0.8" height="1.0" fill="#2a5a14" opacity="0.60"/>
<rect x="135.08" y="234.20" width="3.86" height="2.0" rx="0.5" fill="#e5152e"/>
<rect x="136.61" y="234.70" width="0.8" height="1.0" fill="#700812" opacity="0.50"/>
<rect x="88.94" y="237.53" width="4.07" height="2.0" rx="0.5" fill="#a6d573"/>
<rect x="90.58" y="238.03" width="0.8" height="1.0" fill="#2c6414" opacity="0.95"/>
<rect x="97.07" y="237.53" width="4.78" height="2.0" rx="0.5" fill="#e9487c"/>
<rect x="99.06" y="238.03" width="0.8" height="1.0" fill="#7a1436" opacity="0.95"/>
<rect x="103.17" y="237.53" width="8.54" height="2.0" rx="0.5" fill="#1f6db4"/>
<rect x="107.04" y="238.03" width="0.8" height="1.0" fill="#0a2550" opacity="0.95"/>
<rect x="113.54" y="237.53" width="2.24" height="2.0" rx="0.5" fill="#948fbb"/>
<rect x="114.25" y="238.03" width="0.8" height="1.0" fill="#2e2b50" opacity="0.95"/>
<rect x="116.38" y="237.53" width="8.33" height="2.0" rx="0.5" fill="#fec40f"/>
<rect x="120.15" y="238.03" width="0.8" height="1.0" fill="#6a4c00" opacity="0.95"/>
<rect x="125.22" y="237.53" width="8.43" height="2.0" rx="0.5" fill="#66ad3c"/>
<rect x="129.04" y="238.03" width="0.8" height="1.0" fill="#2a5a14" opacity="0.60"/>
<rect x="134.37" y="237.53" width="4.07" height="2.0" rx="0.5" fill="#e5152e"/>
<rect x="136.00" y="238.03" width="0.8" height="1.0" fill="#700812" opacity="0.50"/>
<rect x="88.94" y="240.85" width="3.76" height="2.0" rx="0.5" fill="#a6d573"/>
<rect x="90.42" y="241.35" width="0.8" height="1.0" fill="#2c6414" opacity="0.95"/>
<rect x="96.26" y="240.85" width="4.88" height="2.0" rx="0.5" fill="#e9487c"/>
<rect x="98.30" y="241.35" width="0.8" height="1.0" fill="#7a1436" opacity="0.95"/>
<rect x="102.56" y="240.85" width="8.43" height="2.0" rx="0.5" fill="#1f6db4"/>
<rect x="106.38" y="241.35" width="0.8" height="1.0" fill="#0a2550" opacity="0.95"/>
<rect x="112.32" y="240.85" width="2.44" height="2.0" rx="0.5" fill="#948fbb"/>
<rect x="113.14" y="241.35" width="0.8" height="1.0" fill="#2e2b50" opacity="0.95"/>
<rect x="115.77" y="240.85" width="8.43" height="2.0" rx="0.5" fill="#fec40f"/>
<rect x="119.59" y="241.35" width="0.8" height="1.0" fill="#6a4c00" opacity="0.95"/>
<rect x="124.72" y="240.85" width="8.13" height="2.0" rx="0.5" fill="#66ad3c"/>
<rect x="128.38" y="241.35" width="0.8" height="1.0" fill="#2a5a14" opacity="0.60"/>
<rect x="133.35" y="240.85" width="4.37" height="2.0" rx="0.5" fill="#e5152e"/>
<rect x="135.14" y="241.35" width="0.8" height="1.0" fill="#700812" opacity="0.50"/>
<rect x="88.94" y="244.18" width="4.27" height="2.0" rx="0.5" fill="#a6d573"/>
<rect x="90.68" y="244.68" width="0.8" height="1.0" fill="#2c6414" opacity="0.95"/>
<rect x="97.07" y="244.18" width="4.47" height="2.0" rx="0.5" fill="#e9487c"/>
<rect x="98.91" y="244.68" width="0.8" height="1.0" fill="#7a1436" opacity="0.95"/>
<rect x="103.17" y="244.18" width="8.54" height="2.0" rx="0.5" fill="#1f6db4"/>
<rect x="107.04" y="244.68" width="0.8" height="1.0" fill="#0a2550" opacity="0.95"/>
<rect x="113.03" y="244.18" width="2.34" height="2.0" rx="0.5" fill="#948fbb"/>
<rect x="113.80" y="244.68" width="0.8" height="1.0" fill="#2e2b50" opacity="0.95"/>
<rect x="116.79" y="244.18" width="8.13" height="2.0" rx="0.5" fill="#fec40f"/>
<rect x="120.45" y="244.68" width="0.8" height="1.0" fill="#6a4c00" opacity="0.95"/>
<rect x="125.53" y="244.18" width="8.33" height="2.0" rx="0.5" fill="#66ad3c"/>
<rect x="129.30" y="244.68" width="0.8" height="1.0" fill="#2a5a14" opacity="0.60"/>
<rect x="134.37" y="244.18" width="4.37" height="2.0" rx="0.5" fill="#e5152e"/>
<rect x="136.15" y="244.68" width="0.8" height="1.0" fill="#700812" opacity="0.50"/>
<rect x="88.13" y="247.50" width="3.86" height="2.0" rx="0.5" fill="#a6d573"/>
<rect x="89.66" y="248.00" width="0.8" height="1.0" fill="#2c6414" opacity="0.95"/>
<rect x="97.07" y="247.50" width="4.27" height="2.0" rx="0.5" fill="#e9487c"/>
<rect x="98.81" y="248.00" width="0.8" height="1.0" fill="#7a1436" opacity="0.95"/>
<rect x="102.87" y="247.50" width="5.59" height="2.0" rx="0.5" fill="#5a4594"/>
<rect x="105.26" y="248.00" width="0.8" height="1.0" fill="#1c1040" opacity="0.95"/>
<rect x="113.74" y="247.50" width="2.34" height="2.0" rx="0.5" fill="#948fbb"/>
<rect x="114.51" y="248.00" width="0.8" height="1.0" fill="#2e2b50" opacity="0.95"/>
<rect x="126.95" y="247.50" width="8.74" height="2.0" rx="0.5" fill="#66ad3c"/>
<rect x="130.92" y="248.00" width="0.8" height="1.0" fill="#2a5a14" opacity="0.60"/>
<rect x="136.40" y="247.50" width="4.37" height="2.0" rx="0.5" fill="#e5152e"/>
<rect x="138.19" y="248.00" width="0.8" height="1.0" fill="#700812" opacity="0.50"/>
<rect x="88.94" y="250.83" width="4.07" height="2.0" rx="0.5" fill="#a6d573"/>
<rect x="90.58" y="251.33" width="0.8" height="1.0" fill="#2c6414" opacity="0.95"/>
<rect x="98.09" y="250.83" width="4.47" height="2.0" rx="0.5" fill="#e9487c"/>
<rect x="99.93" y="251.33" width="0.8" height="1.0" fill="#7a1436" opacity="0.95"/>
<rect x="103.88" y="250.83" width="5.79" height="2.0" rx="0.5" fill="#5a4594"/>
<rect x="106.38" y="251.33" width="0.8" height="1.0" fill="#1c1040" opacity="0.95"/>
<rect x="114.55" y="250.83" width="2.03" height="2.0" rx="0.5" fill="#948fbb"/>
<rect x="115.17" y="251.33" width="0.8" height="1.0" fill="#2e2b50" opacity="0.95"/>
<rect x="128.27" y="250.83" width="8.64" height="2.0" rx="0.5" fill="#66ad3c"/>
<rect x="132.19" y="251.33" width="0.8" height="1.0" fill="#2a5a14" opacity="0.60"/>
<rect x="137.42" y="250.83" width="4.57" height="2.0" rx="0.5" fill="#e5152e"/>
<rect x="139.31" y="251.33" width="0.8" height="1.0" fill="#700812" opacity="0.50"/>
<rect x="88.94" y="254.15" width="4.07" height="2.0" rx="0.5" fill="#a6d573"/>
<rect x="90.58" y="254.65" width="0.8" height="1.0" fill="#2c6414" opacity="0.95"/>
<rect x="98.29" y="254.15" width="4.27" height="2.0" rx="0.5" fill="#e9487c"/>
<rect x="100.03" y="254.65" width="0.8" height="1.0" fill="#7a1436" opacity="0.95"/>
<rect x="103.88" y="254.15" width="5.79" height="2.0" rx="0.5" fill="#5a4594"/>
<rect x="106.38" y="254.65" width="0.8" height="1.0" fill="#1c1040" opacity="0.95"/>
<rect x="114.55" y="254.15" width="2.03" height="2.0" rx="0.5" fill="#948fbb"/>
<rect x="115.17" y="254.65" width="0.8" height="1.0" fill="#2e2b50" opacity="0.95"/>
<rect x="128.27" y="254.15" width="8.64" height="2.0" rx="0.5" fill="#66ad3c"/>
<rect x="132.19" y="254.65" width="0.8" height="1.0" fill="#2a5a14" opacity="0.60"/>
<rect x="137.42" y="254.15" width="4.57" height="2.0" rx="0.5" fill="#e5152e"/>
<rect x="139.31" y="254.65" width="0.8" height="1.0" fill="#700812" opacity="0.50"/>
<rect x="90.16" y="257.48" width="3.86" height="2.0" rx="0.5" fill="#a6d573"/>
<rect x="91.69" y="257.98" width="0.8" height="1.0" fill="#2c6414" opacity="0.95"/>
<rect x="100.12" y="257.48" width="4.78" height="2.0" rx="0.5" fill="#e9487c"/>
<rect x="102.11" y="257.98" width="0.8" height="1.0" fill="#7a1436" opacity="0.95"/>
<rect x="106.22" y="257.48" width="8.54" height="2.0" rx="0.5" fill="#1f6db4"/>
<rect x="110.09" y="257.98" width="0.8" height="1.0" fill="#0a2550" opacity="0.95"/>
<rect x="116.08" y="257.48" width="3.05" height="2.0" rx="0.5" fill="#948fbb"/>
<rect x="117.20" y="257.98" width="0.8" height="1.0" fill="#2e2b50" opacity="0.95"/>
<rect x="119.84" y="257.48" width="8.13" height="2.0" rx="0.5" fill="#fec40f"/>
<rect x="123.50" y="257.98" width="0.8" height="1.0" fill="#6a4c00" opacity="0.95"/>
<rect x="129.80" y="257.48" width="8.33" height="2.0" rx="0.5" fill="#66ad3c"/>
<rect x="133.56" y="257.98" width="0.8" height="1.0" fill="#2a5a14" opacity="0.60"/>
<rect x="138.74" y="257.48" width="4.27" height="2.0" rx="0.5" fill="#e5152e"/>
<rect x="140.47" y="257.98" width="0.8" height="1.0" fill="#700812" opacity="0.50"/>
<rect x="88.13" y="260.80" width="3.86" height="2.0" rx="0.5" fill="#a6d573"/>
<rect x="89.66" y="261.30" width="0.8" height="1.0" fill="#2c6414" opacity="0.95"/>
<rect x="96.06" y="260.80" width="4.27" height="2.0" rx="0.5" fill="#e9487c"/>
<rect x="97.79" y="261.30" width="0.8" height="1.0" fill="#7a1436" opacity="0.95"/>
<rect x="101.85" y="260.80" width="8.43" height="2.0" rx="0.5" fill="#1f6db4"/>
<rect x="105.67" y="261.30" width="0.8" height="1.0" fill="#0a2550" opacity="0.95"/>
<rect x="112.01" y="260.80" width="3.05" height="2.0" rx="0.5" fill="#948fbb"/>
<rect x="113.14" y="261.30" width="0.8" height="1.0" fill="#2e2b50" opacity="0.95"/>
<rect x="116.08" y="260.80" width="8.13" height="2.0" rx="0.5" fill="#fec40f"/>
<rect x="119.74" y="261.30" width="0.8" height="1.0" fill="#6a4c00" opacity="0.95"/>
<rect x="124.72" y="260.80" width="8.33" height="2.0" rx="0.5" fill="#66ad3c"/>
<rect x="128.48" y="261.30" width="0.8" height="1.0" fill="#2a5a14" opacity="0.60"/>
<rect x="133.86" y="260.80" width="4.07" height="2.0" rx="0.5" fill="#e5152e"/>
<rect x="135.49" y="261.30" width="0.8" height="1.0" fill="#700812" opacity="0.50"/>
<rect x="92.70" y="264.12" width="3.56" height="2.0" rx="0.5" fill="#a6d573"/>
<rect x="94.08" y="264.62" width="0.8" height="1.0" fill="#2c6414" opacity="0.95"/>
<rect x="100.83" y="264.12" width="5.08" height="2.0" rx="0.5" fill="#e9487c"/>
<rect x="102.97" y="264.62" width="0.8" height="1.0" fill="#7a1436" opacity="0.95"/>
<rect x="106.93" y="264.12" width="8.64" height="2.0" rx="0.5" fill="#1f6db4"/>
<rect x="110.85" y="264.62" width="0.8" height="1.0" fill="#0a2550" opacity="0.95"/>
<rect x="118.11" y="264.12" width="2.54" height="2.0" rx="0.5" fill="#948fbb"/>
<rect x="118.98" y="264.62" width="0.8" height="1.0" fill="#2e2b50" opacity="0.95"/>
<rect x="121.16" y="264.12" width="8.43" height="2.0" rx="0.5" fill="#fec40f"/>
<rect x="124.98" y="264.62" width="0.8" height="1.0" fill="#6a4c00" opacity="0.95"/>
<rect x="130.30" y="264.12" width="8.64" height="2.0" rx="0.5" fill="#66ad3c"/>
<rect x="134.22" y="264.62" width="0.8" height="1.0" fill="#2a5a14" opacity="0.60"/>
<rect x="139.45" y="264.12" width="4.37" height="2.0" rx="0.5" fill="#e5152e"/>
<rect x="141.24" y="264.62" width="0.8" height="1.0" fill="#700812" opacity="0.50"/>
<rect x="88.94" y="267.45" width="4.27" height="2.0" rx="0.5" fill="#a6d573"/>
<rect x="90.68" y="267.95" width="0.8" height="1.0" fill="#2c6414" opacity="0.95"/>
<rect x="95.45" y="267.45" width="2.85" height="2.0" rx="0.5" fill="#f9bb8b"/>
<rect x="96.47" y="267.95" width="0.8" height="1.0" fill="#94501e" opacity="0.85"/>
<rect x="98.50" y="267.45" width="4.37" height="2.0" rx="0.5" fill="#e9487c"/>
<rect x="100.28" y="267.95" width="0.8" height="1.0" fill="#7a1436" opacity="0.95"/>
<rect x="104.90" y="267.45" width="8.13" height="2.0" rx="0.5" fill="#1f6db4"/>
<rect x="108.56" y="267.95" width="0.8" height="1.0" fill="#0a2550" opacity="0.95"/>
<rect x="115.06" y="267.45" width="2.34" height="2.0" rx="0.5" fill="#948fbb"/>
<rect x="115.83" y="267.95" width="0.8" height="1.0" fill="#2e2b50" opacity="0.95"/>
<rect x="118.41" y="267.45" width="8.54" height="2.0" rx="0.5" fill="#fec40f"/>
<rect x="122.28" y="267.95" width="0.8" height="1.0" fill="#6a4c00" opacity="0.95"/>
<rect x="127.56" y="267.45" width="8.54" height="2.0" rx="0.5" fill="#66ad3c"/>
<rect x="131.43" y="267.95" width="0.8" height="1.0" fill="#2a5a14" opacity="0.60"/>
<rect x="136.91" y="267.45" width="4.07" height="2.0" rx="0.5" fill="#e5152e"/>
<rect x="138.54" y="267.95" width="0.8" height="1.0" fill="#700812" opacity="0.50"/>
<rect x="86.11" y="270.82" width="1.7" height="1.9" rx="0.6" fill="#d9892b"/>
<rect x="86.61" y="271.38" width="0.7" height="0.8" fill="#7a3e08"/>
<rect x="88.94" y="270.77" width="4.27" height="2.0" rx="0.5" fill="#a6d573"/>
<rect x="90.68" y="271.27" width="0.8" height="1.0" fill="#2c6414" opacity="0.95"/>
<rect x="95.04" y="270.77" width="3.05" height="2.0" rx="0.5" fill="#f9bb8b"/>
<rect x="96.17" y="271.27" width="0.8" height="1.0" fill="#94501e" opacity="0.85"/>
<rect x="98.29" y="270.77" width="4.27" height="2.0" rx="0.5" fill="#e9487c"/>
<rect x="100.03" y="271.27" width="0.8" height="1.0" fill="#7a1436" opacity="0.95"/>
<rect x="104.39" y="270.77" width="8.33" height="2.0" rx="0.5" fill="#1f6db4"/>
<rect x="108.16" y="271.27" width="0.8" height="1.0" fill="#0a2550" opacity="0.95"/>
<rect x="114.35" y="270.77" width="2.74" height="2.0" rx="0.5" fill="#948fbb"/>
<rect x="115.32" y="271.27" width="0.8" height="1.0" fill="#2e2b50" opacity="0.95"/>
<rect x="117.80" y="270.77" width="8.43" height="2.0" rx="0.5" fill="#fec40f"/>
<rect x="121.62" y="271.27" width="0.8" height="1.0" fill="#6a4c00" opacity="0.95"/>
<rect x="126.95" y="270.77" width="8.43" height="2.0" rx="0.5" fill="#66ad3c"/>
<rect x="130.77" y="271.27" width="0.8" height="1.0" fill="#2a5a14" opacity="0.60"/>
<rect x="135.89" y="270.77" width="4.27" height="2.0" rx="0.5" fill="#e5152e"/>
<rect x="137.63" y="271.27" width="0.8" height="1.0" fill="#700812" opacity="0.50"/>
<rect x="86.11" y="274.15" width="1.7" height="1.9" rx="0.6" fill="#d9892b"/>
<rect x="86.61" y="274.70" width="0.7" height="0.8" fill="#7a3e08"/>
<rect x="88.94" y="274.10" width="4.27" height="2.0" rx="0.5" fill="#a6d573"/>
<rect x="90.68" y="274.60" width="0.8" height="1.0" fill="#2c6414" opacity="0.95"/>
<rect x="95.04" y="274.10" width="3.05" height="2.0" rx="0.5" fill="#f9bb8b"/>
<rect x="96.17" y="274.60" width="0.8" height="1.0" fill="#94501e" opacity="0.85"/>
<rect x="98.29" y="274.10" width="4.27" height="2.0" rx="0.5" fill="#e9487c"/>
<rect x="100.03" y="274.60" width="0.8" height="1.0" fill="#7a1436" opacity="0.95"/>
<rect x="104.39" y="274.10" width="8.33" height="2.0" rx="0.5" fill="#1f6db4"/>
<rect x="108.16" y="274.60" width="0.8" height="1.0" fill="#0a2550" opacity="0.95"/>
<rect x="114.35" y="274.10" width="2.74" height="2.0" rx="0.5" fill="#948fbb"/>
<rect x="115.32" y="274.60" width="0.8" height="1.0" fill="#2e2b50" opacity="0.95"/>
<rect x="117.80" y="274.10" width="8.43" height="2.0" rx="0.5" fill="#fec40f"/>
<rect x="121.62" y="274.60" width="0.8" height="1.0" fill="#6a4c00" opacity="0.95"/>
<rect x="126.95" y="274.10" width="8.43" height="2.0" rx="0.5" fill="#66ad3c"/>
<rect x="130.77" y="274.60" width="0.8" height="1.0" fill="#2a5a14" opacity="0.60"/>
<rect x="135.89" y="274.10" width="4.27" height="2.0" rx="0.5" fill="#e5152e"/>
<rect x="137.63" y="274.60" width="0.8" height="1.0" fill="#700812" opacity="0.50"/>
<rect x="88.94" y="277.43" width="4.27" height="2.0" rx="0.5" fill="#a6d573"/>
<rect x="90.68" y="277.93" width="0.8" height="1.0" fill="#2c6414" opacity="0.95"/>
<rect x="95.04" y="277.43" width="3.05" height="2.0" rx="0.5" fill="#f9bb8b"/>
<rect x="96.17" y="277.93" width="0.8" height="1.0" fill="#94501e" opacity="0.85"/>
<rect x="98.29" y="277.43" width="4.27" height="2.0" rx="0.5" fill="#e9487c"/>
<rect x="100.03" y="277.93" width="0.8" height="1.0" fill="#7a1436" opacity="0.95"/>
<rect x="104.39" y="277.43" width="8.33" height="2.0" rx="0.5" fill="#1f6db4"/>
<rect x="108.16" y="277.93" width="0.8" height="1.0" fill="#0a2550" opacity="0.95"/>
<rect x="114.35" y="277.43" width="2.74" height="2.0" rx="0.5" fill="#948fbb"/>
<rect x="115.32" y="277.93" width="0.8" height="1.0" fill="#2e2b50" opacity="0.95"/>
<rect x="117.80" y="277.43" width="8.43" height="2.0" rx="0.5" fill="#fec40f"/>
<rect x="121.62" y="277.93" width="0.8" height="1.0" fill="#6a4c00" opacity="0.95"/>
<rect x="126.95" y="277.43" width="8.43" height="2.0" rx="0.5" fill="#66ad3c"/>
<rect x="130.77" y="277.93" width="0.8" height="1.0" fill="#2a5a14" opacity="0.60"/>
<rect x="135.89" y="277.43" width="4.27" height="2.0" rx="0.5" fill="#e5152e"/>
<rect x="137.63" y="277.93" width="0.8" height="1.0" fill="#700812" opacity="0.50"/>
<rect x="86.11" y="280.80" width="1.7" height="1.9" rx="0.6" fill="#d9892b"/>
<rect x="86.61" y="281.35" width="0.7" height="0.8" fill="#7a3e08"/>
<rect x="88.94" y="280.75" width="4.27" height="2.0" rx="0.5" fill="#a6d573"/>
<rect x="90.68" y="281.25" width="0.8" height="1.0" fill="#2c6414" opacity="0.95"/>
<rect x="95.04" y="280.75" width="3.05" height="2.0" rx="0.5" fill="#f9bb8b"/>
<rect x="96.17" y="281.25" width="0.8" height="1.0" fill="#94501e" opacity="0.85"/>
<rect x="98.29" y="280.75" width="4.27" height="2.0" rx="0.5" fill="#e9487c"/>
<rect x="100.03" y="281.25" width="0.8" height="1.0" fill="#7a1436" opacity="0.95"/>
<rect x="104.39" y="280.75" width="8.33" height="2.0" rx="0.5" fill="#1f6db4"/>
<rect x="108.16" y="281.25" width="0.8" height="1.0" fill="#0a2550" opacity="0.95"/>
<rect x="114.35" y="280.75" width="2.74" height="2.0" rx="0.5" fill="#948fbb"/>
<rect x="115.32" y="281.25" width="0.8" height="1.0" fill="#2e2b50" opacity="0.95"/>
<rect x="117.80" y="280.75" width="8.43" height="2.0" rx="0.5" fill="#fec40f"/>
<rect x="121.62" y="281.25" width="0.8" height="1.0" fill="#6a4c00" opacity="0.95"/>
<rect x="126.95" y="280.75" width="8.43" height="2.0" rx="0.5" fill="#66ad3c"/>
<rect x="130.77" y="281.25" width="0.8" height="1.0" fill="#2a5a14" opacity="0.60"/>
<rect x="135.89" y="280.75" width="4.27" height="2.0" rx="0.5" fill="#e5152e"/>
<rect x="137.63" y="281.25" width="0.8" height="1.0" fill="#700812" opacity="0.50"/>
<rect x="86.11" y="284.12" width="1.7" height="1.9" rx="0.6" fill="#d9892b"/>
<rect x="86.61" y="284.68" width="0.7" height="0.8" fill="#7a3e08"/>
<rect x="88.94" y="284.07" width="4.27" height="2.0" rx="0.5" fill="#a6d573"/>
<rect x="90.68" y="284.57" width="0.8" height="1.0" fill="#2c6414" opacity="0.95"/>
<rect x="95.04" y="284.07" width="3.05" height="2.0" rx="0.5" fill="#f9bb8b"/>
<rect x="96.17" y="284.57" width="0.8" height="1.0" fill="#94501e" opacity="0.85"/>
<rect x="98.29" y="284.07" width="4.27" height="2.0" rx="0.5" fill="#e9487c"/>
<rect x="100.03" y="284.57" width="0.8" height="1.0" fill="#7a1436" opacity="0.95"/>
<rect x="104.39" y="284.07" width="8.33" height="2.0" rx="0.5" fill="#1f6db4"/>
<rect x="108.16" y="284.57" width="0.8" height="1.0" fill="#0a2550" opacity="0.95"/>
<rect x="114.35" y="284.07" width="2.74" height="2.0" rx="0.5" fill="#948fbb"/>
<rect x="115.32" y="284.57" width="0.8" height="1.0" fill="#2e2b50" opacity="0.95"/>
<rect x="117.80" y="284.07" width="8.43" height="2.0" rx="0.5" fill="#fec40f"/>
<rect x="121.62" y="284.57" width="0.8" height="1.0" fill="#6a4c00" opacity="0.95"/>
<rect x="126.95" y="284.07" width="8.43" height="2.0" rx="0.5" fill="#66ad3c"/>
<rect x="130.77" y="284.57" width="0.8" height="1.0" fill="#2a5a14" opacity="0.60"/>
<rect x="135.89" y="284.07" width="4.27" height="2.0" rx="0.5" fill="#e5152e"/>
<rect x="137.63" y="284.57" width="0.8" height="1.0" fill="#700812" opacity="0.50"/>
<rect x="88.94" y="287.40" width="4.27" height="2.0" rx="0.5" fill="#a6d573"/>
<rect x="90.68" y="287.90" width="0.8" height="1.0" fill="#2c6414" opacity="0.95"/>
<rect x="95.04" y="287.40" width="3.05" height="2.0" rx="0.5" fill="#f9bb8b"/>
<rect x="96.17" y="287.90" width="0.8" height="1.0" fill="#94501e" opacity="0.85"/>
<rect x="98.29" y="287.40" width="4.27" height="2.0" rx="0.5" fill="#e9487c"/>
<rect x="100.03" y="287.90" width="0.8" height="1.0" fill="#7a1436" opacity="0.95"/>
<rect x="104.39" y="287.40" width="8.33" height="2.0" rx="0.5" fill="#1f6db4"/>
<rect x="108.16" y="287.90" width="0.8" height="1.0" fill="#0a2550" opacity="0.95"/>
<rect x="114.35" y="287.40" width="2.74" height="2.0" rx="0.5" fill="#948fbb"/>
<rect x="115.32" y="287.90" width="0.8" height="1.0" fill="#2e2b50" opacity="0.95"/>
<rect x="117.80" y="287.40" width="8.43" height="2.0" rx="0.5" fill="#fec40f"/>
<rect x="121.62" y="287.90" width="0.8" height="1.0" fill="#6a4c00" opacity="0.95"/>
<rect x="126.95" y="287.40" width="8.43" height="2.0" rx="0.5" fill="#66ad3c"/>
<rect x="130.77" y="287.90" width="0.8" height="1.0" fill="#2a5a14" opacity="0.60"/>
<rect x="135.89" y="287.40" width="4.27" height="2.0" rx="0.5" fill="#e5152e"/>
<rect x="137.63" y="287.90" width="0.8" height="1.0" fill="#700812" opacity="0.50"/>
<rect x="87.62" y="290.72" width="4.07" height="2.0" rx="0.5" fill="#a6d573"/>
<rect x="89.25" y="291.22" width="0.8" height="1.0" fill="#2c6414" opacity="0.95"/>
<rect x="93.01" y="290.72" width="2.74" height="2.0" rx="0.5" fill="#f9bb8b"/>
<rect x="93.98" y="291.22" width="0.8" height="1.0" fill="#94501e" opacity="0.85"/>
<rect x="96.06" y="290.72" width="4.78" height="2.0" rx="0.5" fill="#e9487c"/>
<rect x="98.05" y="291.22" width="0.8" height="1.0" fill="#7a1436" opacity="0.95"/>
<rect x="101.85" y="290.72" width="5.79" height="2.0" rx="0.5" fill="#5a4594"/>
<rect x="104.35" y="291.22" width="0.8" height="1.0" fill="#1c1040" opacity="0.95"/>
<rect x="110.28" y="290.72" width="8.33" height="2.0" rx="0.5" fill="#fec40f"/>
<rect x="114.05" y="291.22" width="0.8" height="1.0" fill="#6a4c00" opacity="0.95"/>
<rect x="119.43" y="290.72" width="8.33" height="2.0" rx="0.5" fill="#66ad3c"/>
<rect x="123.20" y="291.22" width="0.8" height="1.0" fill="#2a5a14" opacity="0.60"/>
<rect x="128.58" y="290.72" width="4.27" height="2.0" rx="0.5" fill="#e5152e"/>
<rect x="130.31" y="291.22" width="0.8" height="1.0" fill="#700812" opacity="0.50"/>
<rect x="87.62" y="294.05" width="4.57" height="2.0" rx="0.5" fill="#a6d573"/>
<rect x="89.51" y="294.55" width="0.8" height="1.0" fill="#2c6414" opacity="0.95"/>
<rect x="93.72" y="294.05" width="2.54" height="2.0" rx="0.5" fill="#f9bb8b"/>
<rect x="94.59" y="294.55" width="0.8" height="1.0" fill="#94501e" opacity="0.85"/>
<rect x="96.77" y="294.05" width="4.57" height="2.0" rx="0.5" fill="#e9487c"/>
<rect x="98.65" y="294.55" width="0.8" height="1.0" fill="#7a1436" opacity="0.95"/>
<rect x="102.56" y="294.05" width="5.89" height="2.0" rx="0.5" fill="#5a4594"/>
<rect x="105.11" y="294.55" width="0.8" height="1.0" fill="#1c1040" opacity="0.95"/>
<rect x="111.00" y="294.05" width="8.43" height="2.0" rx="0.5" fill="#fec40f"/>
<rect x="114.81" y="294.55" width="0.8" height="1.0" fill="#6a4c00" opacity="0.95"/>
<rect x="119.84" y="294.05" width="8.43" height="2.0" rx="0.5" fill="#66ad3c"/>
<rect x="123.65" y="294.55" width="0.8" height="1.0" fill="#2a5a14" opacity="0.60"/>
<rect x="128.98" y="294.05" width="4.37" height="2.0" rx="0.5" fill="#e5152e"/>
<rect x="130.77" y="294.55" width="0.8" height="1.0" fill="#700812" opacity="0.50"/>
<rect x="86.11" y="297.43" width="1.7" height="1.9" rx="0.6" fill="#d9892b"/>
<rect x="86.61" y="297.98" width="0.7" height="0.8" fill="#7a3e08"/>
<rect x="89.15" y="297.38" width="4.07" height="2.0" rx="0.5" fill="#a6d573"/>
<rect x="90.78" y="297.88" width="0.8" height="1.0" fill="#2c6414" opacity="0.95"/>
<rect x="95.24" y="297.38" width="2.85" height="2.0" rx="0.5" fill="#f9bb8b"/>
<rect x="96.27" y="297.88" width="0.8" height="1.0" fill="#94501e" opacity="0.85"/>
<rect x="98.80" y="297.38" width="3.76" height="2.0" rx="0.5" fill="#e9487c"/>
<rect x="100.28" y="297.88" width="0.8" height="1.0" fill="#7a1436" opacity="0.95"/>
<rect x="103.88" y="297.38" width="8.43" height="2.0" rx="0.5" fill="#1f6db4"/>
<rect x="107.70" y="297.88" width="0.8" height="1.0" fill="#0a2550" opacity="0.95"/>
<rect x="113.54" y="297.38" width="2.54" height="2.0" rx="0.5" fill="#948fbb"/>
<rect x="114.41" y="297.88" width="0.8" height="1.0" fill="#2e2b50" opacity="0.95"/>
<rect x="116.79" y="297.38" width="8.43" height="2.0" rx="0.5" fill="#fec40f"/>
<rect x="120.61" y="297.88" width="0.8" height="1.0" fill="#6a4c00" opacity="0.95"/>
<rect x="125.93" y="297.38" width="8.43" height="2.0" rx="0.5" fill="#66ad3c"/>
<rect x="129.75" y="297.88" width="0.8" height="1.0" fill="#2a5a14" opacity="0.60"/>
<rect x="135.08" y="297.38" width="4.37" height="2.0" rx="0.5" fill="#e5152e"/>
<rect x="136.87" y="297.88" width="0.8" height="1.0" fill="#700812" opacity="0.50"/>
<rect x="86.11" y="300.75" width="1.7" height="1.9" rx="0.6" fill="#d9892b"/>
<rect x="86.61" y="301.30" width="0.7" height="0.8" fill="#7a3e08"/>
<rect x="89.15" y="300.70" width="4.07" height="2.0" rx="0.5" fill="#a6d573"/>
<rect x="90.78" y="301.20" width="0.8" height="1.0" fill="#2c6414" opacity="0.95"/>
<rect x="95.75" y="300.70" width="2.54" height="2.0" rx="0.5" fill="#f9bb8b"/>
<rect x="96.62" y="301.20" width="0.8" height="1.0" fill="#94501e" opacity="0.85"/>
<rect x="98.80" y="300.70" width="4.07" height="2.0" rx="0.5" fill="#e9487c"/>
<rect x="100.43" y="301.20" width="0.8" height="1.0" fill="#7a1436" opacity="0.95"/>
<rect x="104.90" y="300.70" width="8.43" height="2.0" rx="0.5" fill="#1f6db4"/>
<rect x="108.72" y="301.20" width="0.8" height="1.0" fill="#0a2550" opacity="0.95"/>
<rect x="115.06" y="300.70" width="2.54" height="2.0" rx="0.5" fill="#948fbb"/>
<rect x="115.93" y="301.20" width="0.8" height="1.0" fill="#2e2b50" opacity="0.95"/>
<rect x="118.11" y="300.70" width="8.64" height="2.0" rx="0.5" fill="#fec40f"/>
<rect x="122.03" y="301.20" width="0.8" height="1.0" fill="#6a4c00" opacity="0.95"/>
<rect x="127.26" y="300.70" width="8.43" height="2.0" rx="0.5" fill="#66ad3c"/>
<rect x="131.07" y="301.20" width="0.8" height="1.0" fill="#2a5a14" opacity="0.60"/>
<rect x="136.40" y="300.70" width="4.37" height="2.0" rx="0.5" fill="#e5152e"/>
<rect x="138.19" y="301.20" width="0.8" height="1.0" fill="#700812" opacity="0.50"/>
<rect x="86.11" y="304.07" width="1.7" height="1.9" rx="0.6" fill="#d9892b"/>
<rect x="86.61" y="304.62" width="0.7" height="0.8" fill="#7a3e08"/>
<rect x="89.35" y="304.02" width="4.37" height="2.0" rx="0.5" fill="#a6d573"/>
<rect x="91.13" y="304.52" width="0.8" height="1.0" fill="#2c6414" opacity="0.95"/>
<rect x="95.75" y="304.02" width="2.54" height="2.0" rx="0.5" fill="#f9bb8b"/>
<rect x="96.62" y="304.52" width="0.8" height="1.0" fill="#94501e" opacity="0.85"/>
<rect x="98.80" y="304.02" width="4.27" height="2.0" rx="0.5" fill="#e9487c"/>
<rect x="100.53" y="304.52" width="0.8" height="1.0" fill="#7a1436" opacity="0.95"/>
<rect x="105.00" y="304.02" width="8.13" height="2.0" rx="0.5" fill="#1f6db4"/>
<rect x="108.67" y="304.52" width="0.8" height="1.0" fill="#0a2550" opacity="0.95"/>
<rect x="115.06" y="304.02" width="2.54" height="2.0" rx="0.5" fill="#948fbb"/>
<rect x="115.93" y="304.52" width="0.8" height="1.0" fill="#2e2b50" opacity="0.95"/>
<rect x="118.11" y="304.02" width="8.64" height="2.0" rx="0.5" fill="#fec40f"/>
<rect x="122.03" y="304.52" width="0.8" height="1.0" fill="#6a4c00" opacity="0.95"/>
<rect x="127.56" y="304.02" width="8.64" height="2.0" rx="0.5" fill="#66ad3c"/>
<rect x="131.48" y="304.52" width="0.8" height="1.0" fill="#2a5a14" opacity="0.60"/>
<rect x="136.71" y="304.02" width="4.27" height="2.0" rx="0.5" fill="#e5152e"/>
<rect x="138.44" y="304.52" width="0.8" height="1.0" fill="#700812" opacity="0.50"/>
<rect x="233.8" y="162.9" width="0.5" height="1.5" fill="#aaa"/>
<rect x="311.0" y="18.6" width="0.5" height="0.6" fill="#ccc"/>
<path d="M85 308.40H331" stroke="#a3a3a3" stroke-width="0.6"/>
<path d="M85.50 307.50v0.9M115.76 307.50v0.9M146.02 307.50v0.9M176.28 307.50v0.9M206.54 307.50v0.9M236.80 307.50v0.9M267.06 307.50v0.9M297.32 307.50v0.9M327.58 307.50v0.9" stroke="#999" stroke-width="0.5"/>
<g font-family="'Liberation Sans', sans-serif" font-size="4.5" fill="#333" stroke="#333" stroke-width="0.18" text-anchor="middle">
<text x="85.50" y="313.9">0</text>
<text x="115.76" y="313.9">100</text>
<text x="146.02" y="313.9">200</text>
<text x="176.28" y="313.9">300</text>
<text x="206.54" y="313.9">400</text>
<text x="236.80" y="313.9">500</text>
<text x="267.06" y="313.9">600</text>
<text x="297.32" y="313.9">700</text>
<text x="327.58" y="313.9">800</text>
</g>
<text x="81.7" y="309.6" font-family="'Liberation Sans', sans-serif" font-size="4.6" fill="#333" stroke="#333" stroke-width="0.15">5'</text>
<text x="328.2" y="308.0" font-family="'Liberation Sans', sans-serif" font-size="4.0" fill="#333">3'</text>
<path d="M343.64 23.60H357.87M343.64 26.91H359.90M343.64 30.23H370.06M343.64 33.54H357.87M343.64 36.86H357.87M343.64 40.17H376.87M343.64 43.48H357.87M343.64 46.80H357.87M343.64 50.11H358.17M343.64 53.43H361.63M343.64 56.74H358.17M343.64 60.05H358.17M343.64 63.37H358.17M343.33 66.68H462.90M343.13 70.00H374.63M343.64 73.31H401.06M343.64 76.62H485.70M343.64 79.94H357.87M343.64 83.25H366.00M343.64 86.57H366.71M343.64 89.88H359.59M343.64 93.19H374.63M343.64 96.51H357.87M343.64 99.82H364.47M343.64 103.14H357.87M343.64 106.45H357.87M343.64 109.76H364.67M343.64 113.08H367.72M343.64 116.39H364.67M343.64 119.71H367.01M343.64 123.02H357.87M343.64 126.33H365.69M343.64 129.65H357.87M343.64 132.96H357.87M343.64 136.28H390.39M343.64 139.59H412.74M343.64 142.90H400.04M343.64 146.22H385.81M343.64 149.53H360.91M343.64 152.85H366.00M343.64 156.16H369.55M343.64 159.47H368.74M343.64 162.79H365.69M343.64 166.10H367.72M343.64 169.42H367.72M343.64 172.73H368.74M343.64 176.04H358.88M343.64 179.36H520.00M343.64 182.67H558.00M343.64 185.99H386.83M343.64 189.30H384.80M343.64 192.61H364.98M343.64 195.93H372.80M343.64 199.24H364.98M343.64 202.56H369.04M343.64 205.87H368.03M343.64 209.18H361.93M343.64 212.50H370.77M343.64 215.81H361.93M343.64 219.13H383.58M343.64 222.44H376.16M343.64 225.75H373.62M343.64 229.07H371.79M343.64 232.38H372.09M343.64 235.70H368.03M343.64 239.01H369.76M343.64 242.32H368.74M343.64 245.64H358.88M343.64 248.95H374.84M343.64 252.27H368.54M343.64 255.58H378.19M343.64 258.89H359.90M343.64 262.21H359.90M343.64 265.52H360.41M343.64 268.84H359.90M343.64 272.15H359.59M343.64 275.46H366.71M343.64 278.78H362.64M343.64 282.09H359.19M343.64 285.41H359.19M343.64 288.72H366.00M343.64 292.03H358.88M343.64 295.35H358.88M343.64 298.66H360.61M343.64 301.98H360.81M343.64 305.29H358.88" stroke="#8c8c8c" stroke-width="0.75" fill="none"/>
<rect x="343.64" y="22.60" width="14.23" height="2.0" fill="#5db02a"/>
<rect x="343.64" y="25.91" width="16.26" height="2.0" fill="#5db02a"/>
<rect x="343.64" y="29.23" width="4.37" height="2.0" fill="#fdc312"/>
<rect x="355.33" y="29.23" width="14.74" height="2.0" fill="#5db02a"/>
<rect x="343.64" y="32.54" width="14.23" height="2.0" fill="#5db02a"/>
<rect x="343.64" y="35.86" width="14.23" height="2.0" fill="#5db02a"/>
<rect x="343.64" y="39.17" width="3.35" height="2.0" fill="#fdc312"/>
<rect x="354.31" y="39.17" width="15.24" height="2.0" fill="#5db02a"/>
<rect x="369.55" y="39.17" width="7.32" height="2.0" fill="#fdc312"/>
<rect x="343.64" y="42.48" width="14.23" height="2.0" fill="#5db02a"/>
<rect x="343.64" y="45.80" width="14.23" height="2.0" fill="#5db02a"/>
<rect x="343.64" y="49.11" width="14.53" height="2.0" fill="#5db02a"/>
<rect x="343.64" y="52.43" width="14.74" height="2.0" fill="#5db02a"/>
<rect x="358.37" y="52.43" width="3.25" height="2.0" fill="#fdc312"/>
<rect x="343.64" y="55.74" width="14.53" height="2.0" fill="#5db02a"/>
<rect x="343.64" y="59.05" width="14.53" height="2.0" fill="#5db02a"/>
<rect x="343.64" y="62.37" width="14.53" height="2.0" fill="#5db02a"/>
<rect x="343.33" y="65.68" width="0.61" height="2.0" fill="#fdc312"/>
<rect x="343.94" y="65.68" width="14.94" height="2.0" fill="#5db02a"/>
<rect x="358.88" y="65.68" width="5.08" height="2.0" fill="#fdc312"/>
<rect x="461.60" y="65.68" width="1.30" height="2.0" fill="#fdc312"/>
<rect x="343.13" y="69.00" width="1.02" height="2.0" fill="#fdc312"/>
<rect x="350.24" y="69.00" width="2.24" height="2.0" fill="#fdc312"/>
<rect x="352.48" y="69.00" width="14.84" height="2.0" fill="#5db02a"/>
<rect x="367.32" y="69.00" width="7.32" height="2.0" fill="#fdc312"/>
<rect x="343.64" y="72.31" width="3.35" height="2.0" fill="#5db02a"/>
<rect x="391.10" y="72.31" width="9.96" height="2.0" fill="#5db02a"/>
<rect x="343.64" y="75.62" width="3.56" height="2.0" fill="#5db02a"/>
<rect x="474.90" y="75.62" width="10.80" height="2.0" fill="#5db02a"/>
<rect x="343.64" y="78.94" width="14.23" height="2.0" fill="#5db02a"/>
<rect x="343.64" y="82.25" width="2.34" height="2.0" fill="#fdc312"/>
<rect x="345.98" y="82.25" width="14.94" height="2.0" fill="#5db02a"/>
<rect x="360.91" y="82.25" width="5.08" height="2.0" fill="#fdc312"/>
<rect x="343.64" y="85.57" width="2.34" height="2.0" fill="#fdc312"/>
<rect x="345.98" y="85.57" width="14.94" height="2.0" fill="#5db02a"/>
<rect x="360.91" y="85.57" width="5.79" height="2.0" fill="#fdc312"/>
<rect x="343.64" y="88.88" width="15.96" height="2.0" fill="#5db02a"/>
<rect x="343.64" y="92.19" width="1.52" height="2.0" fill="#fdc312"/>
<rect x="345.16" y="92.19" width="14.74" height="2.0" fill="#5db02a"/>
<rect x="359.90" y="92.19" width="9.65" height="2.0" fill="#fdc312"/>
<rect x="372.60" y="92.19" width="2.03" height="2.0" fill="#fdc312"/>
<rect x="343.64" y="95.51" width="14.23" height="2.0" fill="#5db02a"/>
<rect x="343.64" y="98.82" width="1.02" height="2.0" fill="#fdc312"/>
<rect x="344.65" y="98.82" width="14.53" height="2.0" fill="#5db02a"/>
<rect x="359.19" y="98.82" width="5.28" height="2.0" fill="#fdc312"/>
<rect x="343.64" y="102.14" width="14.23" height="2.0" fill="#5db02a"/>
<rect x="343.64" y="105.45" width="14.23" height="2.0" fill="#5db02a"/>
<rect x="343.64" y="108.76" width="1.32" height="2.0" fill="#fdc312"/>
<rect x="344.96" y="108.76" width="14.94" height="2.0" fill="#5db02a"/>
<rect x="359.90" y="108.76" width="4.78" height="2.0" fill="#fdc312"/>
<rect x="343.64" y="112.08" width="1.32" height="2.0" fill="#fdc312"/>
<rect x="344.96" y="112.08" width="14.94" height="2.0" fill="#5db02a"/>
<rect x="359.90" y="112.08" width="7.83" height="2.0" fill="#fdc312"/>
<rect x="343.64" y="115.39" width="1.32" height="2.0" fill="#fdc312"/>
<rect x="344.96" y="115.39" width="14.94" height="2.0" fill="#5db02a"/>
<rect x="359.90" y="115.39" width="4.78" height="2.0" fill="#fdc312"/>
<rect x="343.64" y="118.71" width="2.74" height="2.0" fill="#fdc312"/>
<rect x="346.38" y="118.71" width="14.53" height="2.0" fill="#5db02a"/>
<rect x="360.91" y="118.71" width="6.10" height="2.0" fill="#fdc312"/>
<rect x="343.64" y="122.02" width="14.23" height="2.0" fill="#5db02a"/>
<rect x="343.64" y="125.33" width="1.32" height="2.0" fill="#fdc312"/>
<rect x="344.96" y="125.33" width="14.94" height="2.0" fill="#5db02a"/>
<rect x="359.90" y="125.33" width="5.79" height="2.0" fill="#fdc312"/>
<rect x="343.64" y="128.65" width="14.23" height="2.0" fill="#5db02a"/>
<rect x="343.64" y="131.96" width="14.23" height="2.0" fill="#5db02a"/>
<rect x="343.64" y="135.28" width="12.20" height="2.0" fill="#5db02a"/>
<rect x="387.85" y="135.28" width="2.54" height="2.0" fill="#5db02a"/>
<rect x="343.64" y="138.59" width="12.20" height="2.0" fill="#5db02a"/>
<rect x="410.20" y="138.59" width="2.54" height="2.0" fill="#5db02a"/>
<rect x="343.64" y="141.90" width="2.34" height="2.0" fill="#fdc312"/>
<rect x="345.98" y="141.90" width="12.91" height="2.0" fill="#5db02a"/>
<rect x="391.91" y="141.90" width="2.03" height="2.0" fill="#5db02a"/>
<rect x="393.94" y="141.90" width="6.10" height="2.0" fill="#fdc312"/>
<rect x="343.64" y="145.22" width="1.52" height="2.0" fill="#fdc312"/>
<rect x="345.16" y="145.22" width="14.23" height="2.0" fill="#5db02a"/>
<rect x="379.72" y="145.22" width="6.10" height="2.0" fill="#fdc312"/>
<rect x="343.64" y="148.53" width="15.24" height="2.0" fill="#5db02a"/>
<rect x="358.88" y="148.53" width="2.03" height="2.0" fill="#fdc312"/>
<rect x="343.64" y="151.85" width="16.26" height="2.0" fill="#5db02a"/>
<rect x="359.90" y="151.85" width="6.10" height="2.0" fill="#fdc312"/>
<rect x="343.64" y="155.16" width="16.26" height="2.0" fill="#5db02a"/>
<rect x="359.90" y="155.16" width="9.65" height="2.0" fill="#fdc312"/>
<rect x="343.64" y="158.47" width="2.03" height="2.0" fill="#fdc312"/>
<rect x="345.67" y="158.47" width="15.96" height="2.0" fill="#5db02a"/>
<rect x="361.63" y="158.47" width="7.11" height="2.0" fill="#fdc312"/>
<rect x="343.64" y="161.79" width="16.26" height="2.0" fill="#5db02a"/>
<rect x="359.90" y="161.79" width="5.79" height="2.0" fill="#fdc312"/>
<rect x="343.64" y="165.10" width="16.26" height="2.0" fill="#5db02a"/>
<rect x="359.90" y="165.10" width="7.83" height="2.0" fill="#fdc312"/>
<rect x="343.64" y="168.42" width="16.26" height="2.0" fill="#5db02a"/>
<rect x="359.90" y="168.42" width="7.83" height="2.0" fill="#fdc312"/>
<rect x="343.64" y="171.73" width="16.26" height="2.0" fill="#5db02a"/>
<rect x="359.90" y="171.73" width="8.84" height="2.0" fill="#fdc312"/>
<rect x="343.64" y="175.04" width="15.24" height="2.0" fill="#5db02a"/>
<rect x="343.64" y="178.36" width="15.24" height="2.0" fill="#5db02a"/>
<rect x="430.90" y="178.36" width="13.20" height="2.0" fill="#5db02a"/>
<rect x="446.40" y="178.36" width="5.70" height="2.0" fill="#5db02a"/>
<rect x="460.00" y="178.36" width="4.00" height="2.0" fill="#5db02a"/>
<rect x="473.70" y="178.36" width="6.30" height="2.0" fill="#5db02a"/>
<rect x="494.00" y="178.36" width="6.90" height="2.0" fill="#5db02a"/>
<rect x="503.20" y="178.36" width="4.50" height="2.0" fill="#5db02a"/>
<rect x="510.00" y="178.36" width="10.00" height="2.0" fill="#5db02a"/>
<rect x="343.64" y="181.67" width="5.08" height="2.0" fill="#fdc312"/>
<rect x="348.72" y="181.67" width="15.24" height="2.0" fill="#5db02a"/>
<rect x="372.09" y="181.67" width="13.21" height="2.0" fill="#5db02a"/>
<rect x="387.34" y="181.67" width="5.59" height="2.0" fill="#5db02a"/>
<rect x="493.00" y="181.67" width="4.00" height="2.0" fill="#5db02a"/>
<rect x="506.90" y="181.67" width="6.00" height="2.0" fill="#5db02a"/>
<rect x="526.80" y="181.67" width="7.20" height="2.0" fill="#5db02a"/>
<rect x="536.30" y="181.67" width="4.60" height="2.0" fill="#5db02a"/>
<rect x="543.20" y="181.67" width="9.70" height="2.0" fill="#5db02a"/>
<rect x="552.90" y="181.67" width="5.10" height="2.0" fill="#fdc312"/>
<rect x="343.64" y="184.99" width="17.58" height="2.0" fill="#5db02a"/>
<rect x="363.96" y="184.99" width="10.16" height="2.0" fill="#5db02a"/>
<rect x="374.13" y="184.99" width="12.70" height="2.0" fill="#fdc312"/>
<rect x="343.64" y="188.30" width="16.26" height="2.0" fill="#5db02a"/>
<rect x="363.25" y="188.30" width="10.16" height="2.0" fill="#5db02a"/>
<rect x="373.41" y="188.30" width="11.38" height="2.0" fill="#fdc312"/>
<rect x="343.64" y="191.61" width="21.34" height="2.0" fill="#5db02a"/>
<rect x="343.64" y="194.93" width="1.32" height="2.0" fill="#fdc312"/>
<rect x="344.96" y="194.93" width="21.34" height="2.0" fill="#5db02a"/>
<rect x="366.30" y="194.93" width="6.50" height="2.0" fill="#fdc312"/>
<rect x="343.64" y="198.24" width="21.34" height="2.0" fill="#5db02a"/>
<rect x="343.64" y="201.56" width="25.41" height="2.0" fill="#5db02a"/>
<rect x="343.64" y="204.87" width="5.59" height="2.0" fill="#5db02a"/>
<rect x="354.31" y="204.87" width="5.08" height="2.0" fill="#5db02a"/>
<rect x="359.90" y="204.87" width="8.13" height="2.0" fill="#5db02a"/>
<rect x="343.64" y="208.18" width="18.29" height="2.0" fill="#5db02a"/>
<rect x="343.64" y="211.50" width="1.32" height="2.0" fill="#fdc312"/>
<rect x="344.96" y="211.50" width="19.00" height="2.0" fill="#5db02a"/>
<rect x="363.96" y="211.50" width="6.81" height="2.0" fill="#fdc312"/>
<rect x="343.64" y="214.81" width="18.29" height="2.0" fill="#5db02a"/>
<rect x="343.64" y="218.13" width="7.42" height="2.0" fill="#fdc312"/>
<rect x="351.06" y="218.13" width="16.97" height="2.0" fill="#5db02a"/>
<rect x="368.03" y="218.13" width="15.55" height="2.0" fill="#fdc312"/>
<rect x="343.64" y="221.44" width="4.78" height="2.0" fill="#fdc312"/>
<rect x="348.41" y="221.44" width="16.26" height="2.0" fill="#5db02a"/>
<rect x="364.67" y="221.44" width="11.48" height="2.0" fill="#fdc312"/>
<rect x="343.64" y="224.75" width="4.78" height="2.0" fill="#fdc312"/>
<rect x="348.41" y="224.75" width="16.26" height="2.0" fill="#5db02a"/>
<rect x="364.67" y="224.75" width="8.94" height="2.0" fill="#fdc312"/>
<rect x="343.64" y="228.07" width="2.34" height="2.0" fill="#fdc312"/>
<rect x="345.98" y="228.07" width="16.26" height="2.0" fill="#5db02a"/>
<rect x="362.24" y="228.07" width="9.55" height="2.0" fill="#fdc312"/>
<rect x="343.64" y="231.38" width="1.52" height="2.0" fill="#fdc312"/>
<rect x="345.16" y="231.38" width="16.06" height="2.0" fill="#5db02a"/>
<rect x="361.22" y="231.38" width="10.87" height="2.0" fill="#fdc312"/>
<rect x="343.64" y="234.70" width="1.32" height="2.0" fill="#fdc312"/>
<rect x="344.96" y="234.70" width="16.26" height="2.0" fill="#5db02a"/>
<rect x="361.22" y="234.70" width="6.81" height="2.0" fill="#fdc312"/>
<rect x="343.64" y="238.01" width="16.26" height="2.0" fill="#5db02a"/>
<rect x="359.90" y="238.01" width="9.86" height="2.0" fill="#fdc312"/>
<rect x="343.64" y="241.32" width="16.26" height="2.0" fill="#5db02a"/>
<rect x="359.90" y="241.32" width="8.84" height="2.0" fill="#fdc312"/>
<rect x="343.64" y="244.64" width="15.24" height="2.0" fill="#5db02a"/>
<rect x="343.64" y="247.95" width="7.11" height="2.0" fill="#fdc312"/>
<rect x="350.75" y="247.95" width="16.26" height="2.0" fill="#5db02a"/>
<rect x="367.01" y="247.95" width="7.83" height="2.0" fill="#fdc312"/>
<rect x="343.64" y="251.27" width="1.52" height="2.0" fill="#fdc312"/>
<rect x="345.16" y="251.27" width="16.77" height="2.0" fill="#5db02a"/>
<rect x="361.93" y="251.27" width="6.61" height="2.0" fill="#fdc312"/>
<rect x="343.64" y="254.58" width="1.32" height="2.0" fill="#fdc312"/>
<rect x="344.96" y="254.58" width="16.97" height="2.0" fill="#5db02a"/>
<rect x="361.93" y="254.58" width="9.86" height="2.0" fill="#fdc312"/>
<rect x="375.14" y="254.58" width="3.05" height="2.0" fill="#fdc312"/>
<rect x="343.64" y="257.89" width="16.26" height="2.0" fill="#5db02a"/>
<rect x="343.64" y="261.21" width="15.55" height="2.0" fill="#5db02a"/>
<rect x="359.19" y="261.21" width="0.71" height="2.0" fill="#fdc312"/>
<rect x="343.64" y="264.52" width="16.77" height="2.0" fill="#5db02a"/>
<rect x="343.64" y="267.84" width="16.26" height="2.0" fill="#5db02a"/>
<rect x="343.64" y="271.15" width="15.96" height="2.0" fill="#5db02a"/>
<rect x="343.64" y="274.46" width="3.56" height="2.0" fill="#fdc312"/>
<rect x="347.20" y="274.46" width="16.77" height="2.0" fill="#5db02a"/>
<rect x="363.96" y="274.46" width="2.74" height="2.0" fill="#fdc312"/>
<rect x="343.64" y="277.78" width="16.57" height="2.0" fill="#5db02a"/>
<rect x="360.20" y="277.78" width="2.44" height="2.0" fill="#fdc312"/>
<rect x="343.64" y="281.09" width="15.55" height="2.0" fill="#5db02a"/>
<rect x="343.64" y="284.41" width="15.55" height="2.0" fill="#5db02a"/>
<rect x="343.64" y="287.72" width="16.26" height="2.0" fill="#5db02a"/>
<rect x="359.90" y="287.72" width="6.10" height="2.0" fill="#fdc312"/>
<rect x="343.64" y="291.03" width="7.11" height="2.0" fill="#5db02a"/>
<rect x="352.07" y="291.03" width="6.81" height="2.0" fill="#5db02a"/>
<rect x="343.64" y="294.35" width="7.11" height="2.0" fill="#5db02a"/>
<rect x="352.07" y="294.35" width="6.81" height="2.0" fill="#5db02a"/>
<rect x="343.64" y="297.66" width="16.57" height="2.0" fill="#5db02a"/>
<rect x="360.20" y="297.66" width="0.41" height="2.0" fill="#fdc312"/>
<rect x="343.64" y="300.98" width="16.57" height="2.0" fill="#5db02a"/>
<rect x="360.20" y="300.98" width="0.61" height="2.0" fill="#fdc312"/>
<rect x="343.64" y="304.29" width="15.24" height="2.0" fill="#5db02a"/>
<path d="M343 308.10H578" stroke="#a3a3a3" stroke-width="0.6"/>
<g font-family="'Liberation Sans', sans-serif" font-size="4.4" fill="#333" stroke="#333" stroke-width="0.16" text-anchor="middle">
<text x="343.40" y="314.2">0</text>
<text x="372.43" y="314.2">1000</text>
<text x="401.46" y="314.2">2000</text>
<text x="430.49" y="314.2">3000</text>
<text x="459.52" y="314.2">4000</text>
<text x="488.55" y="314.2">5000</text>
<text x="517.58" y="314.2">6000</text>
<text x="546.61" y="314.2">7000</text>
<text x="575.64" y="314.2">8000</text>
</g>
<text x="339.8" y="309.8" font-family="'Liberation Sans', sans-serif" font-size="4.6" fill="#333" stroke="#333" stroke-width="0.15" textLength="2.8" lengthAdjust="spacingAndGlyphs">5'</text>
<text x="576.3" y="307.6" font-family="'Liberation Sans', sans-serif" font-size="3.6" fill="#333">3'</text>
<rect x="528" y="21.60" width="9" height="3.9" fill="#f79c1e"/>
<text x="538.3" y="24.55" font-family="'Liberation Sans', sans-serif" font-size="3.1" font-weight="bold" fill="#5a5a5a">Motif 5</text>
<rect x="528" y="26.66" width="9" height="3.9" fill="#a5d574"/>
<text x="538.3" y="29.61" font-family="'Liberation Sans', sans-serif" font-size="3.1" font-weight="bold" fill="#5a5a5a">Motif 8</text>
<rect x="528" y="31.72" width="9" height="3.9" fill="#e9477b"/>
<text x="538.3" y="34.67" font-family="'Liberation Sans', sans-serif" font-size="3.1" font-weight="bold" fill="#5a5a5a">Motif 3</text>
<rect x="528" y="36.78" width="9" height="3.9" fill="#1f6db3"/>
<text x="538.3" y="39.73" font-family="'Liberation Sans', sans-serif" font-size="3.1" font-weight="bold" fill="#5a5a5a">Motif 4</text>
<rect x="528" y="41.84" width="9" height="3.9" fill="#9590bc"/>
<text x="538.3" y="44.79" font-family="'Liberation Sans', sans-serif" font-size="3.1" font-weight="bold" fill="#5a5a5a">Motif 7</text>
<rect x="528" y="46.90" width="9" height="3.9" fill="#ffc60b"/>
<text x="538.3" y="49.85" font-family="'Liberation Sans', sans-serif" font-size="3.1" font-weight="bold" fill="#5a5a5a">Motif 2</text>
<rect x="528" y="51.96" width="9" height="3.9" fill="#67ae3d"/>
<text x="538.3" y="54.91" font-family="'Liberation Sans', sans-serif" font-size="3.1" font-weight="bold" fill="#5a5a5a">Motif 1</text>
<rect x="528" y="57.02" width="9" height="3.9" fill="#e8112d"/>
<text x="538.3" y="59.97" font-family="'Liberation Sans', sans-serif" font-size="3.1" font-weight="bold" fill="#5a5a5a">Motif 6</text>
<rect x="528" y="62.08" width="9" height="3.9" fill="#5b4593"/>
<text x="538.3" y="65.03" font-family="'Liberation Sans', sans-serif" font-size="3.1" font-weight="bold" fill="#5a5a5a">Motif 9</text>
<rect x="528" y="67.14" width="9" height="3.9" fill="#fdbe8c"/>
<text x="538.3" y="70.09" font-family="'Liberation Sans', sans-serif" font-size="3.1" font-weight="bold" fill="#5a5a5a">Motif 10</text>
<rect x="528" y="80.8" width="9" height="3.9" fill="#67ae3d"/>
<rect x="528" y="86.0" width="9" height="3.8" fill="#ffc60b"/>
<text x="538.3" y="83.8" font-family="'Liberation Sans', sans-serif" font-size="3.1" font-weight="bold" fill="#5a5a5a">CDS</text>
<text x="538.3" y="89.0" font-family="'Liberation Sans', sans-serif" font-size="3.1" font-weight="bold" fill="#5a5a5a">UTR</text>
<g font-family="'Liberation Sans', sans-serif" font-weight="bold">
<path d="M562.7 27.50V19.90" stroke="#999" stroke-width="0.35"/>
<path d="M564.72 28.40H637.00" stroke="#b8b8b8" stroke-width="0.6" stroke-dasharray="0.4 2.043"/>
<text x="559.5" y="24.60" font-family="'Liberation Sans', sans-serif" font-size="3.2" font-weight="bold" fill="#555" text-anchor="end">1.</text>
<path d="M561.9 27.50H562.7M561.9 25.60H562.7M561.9 23.70H562.7M561.9 21.80H562.7M561.9 19.90H562.7" stroke="#999" stroke-width="0.3"/>
<text transform="translate(563.72 27.48) scale(0.3332 0.0544)" font-size="10" fill="#10a020" stroke="#10a020" stroke-width="0.720" stroke-linejoin="round">N</text>
<text transform="translate(563.89 27.04) scale(0.3090 0.1040)" font-size="10" fill="#20c8c8" stroke="#20c8c8" stroke-width="0.777" stroke-linejoin="round">Y</text>
<text transform="translate(563.73 26.04) scale(0.3196 0.6343)" font-size="10" fill="#f020f0" stroke="#f020f0" stroke-width="0.751" stroke-linejoin="round">D</text>
<text transform="translate(566.33 27.48) scale(0.3090 0.0572)" font-size="10" fill="#20c8c8" stroke="#20c8c8" stroke-width="0.777" stroke-linejoin="round">Y</text>
<text transform="translate(566.31 27.01) scale(0.2920 0.1133)" font-size="10" fill="#2828e0" stroke="#2828e0" stroke-width="0.822" stroke-linejoin="round">A</text>
<text transform="translate(566.13 25.95) scale(0.3864 0.7027)" font-size="10" fill="#2828e0" stroke="#2828e0" stroke-width="0.621" stroke-linejoin="round">F</text>
<text transform="translate(568.81 27.47) scale(0.3000 0.0695)" font-size="10" fill="#2828e0" stroke="#2828e0" stroke-width="0.800" stroke-linejoin="round">V</text>
<text transform="translate(567.92 26.95) scale(1.3604 0.1386)" font-size="10" fill="#2828e0" stroke="#2828e0" stroke-width="0.176" stroke-linejoin="round">I</text>
<text transform="translate(568.83 25.56) scale(0.2080 0.7354)" font-size="10" fill="#2828e0" stroke="#2828e0" stroke-width="1.154" stroke-linejoin="round">W</text>
<text transform="translate(571.25 27.48) scale(0.3000 0.0474)" font-size="10" fill="#2828e0" stroke="#2828e0" stroke-width="0.800" stroke-linejoin="round">V</text>
<text transform="translate(571.25 27.09) scale(0.3000 0.1073)" font-size="10" fill="#2828e0" stroke="#2828e0" stroke-width="0.800" stroke-linejoin="round">V</text>
<text transform="translate(571.20 26.04) scale(0.2920 0.6165)" font-size="10" fill="#2828e0" stroke="#2828e0" stroke-width="0.822" stroke-linejoin="round">A</text>
<text transform="translate(573.46 27.48) scale(0.3864 0.0566)" font-size="10" fill="#2828e0" stroke="#2828e0" stroke-width="0.621" stroke-linejoin="round">F</text>
<text transform="translate(572.80 27.06) scale(1.3604 0.1276)" font-size="10" fill="#2828e0" stroke="#2828e0" stroke-width="0.176" stroke-linejoin="round">I</text>
<text transform="translate(573.50 25.91) scale(0.3196 0.6886)" font-size="10" fill="#f020f0" stroke="#f020f0" stroke-width="0.751" stroke-linejoin="round">D</text>
<text transform="translate(576.12 27.48) scale(0.3326 0.0547)" font-size="10" fill="#10a020" stroke="#10a020" stroke-width="0.722" stroke-linejoin="round">T</text>
<text transform="translate(575.93 27.03) scale(0.3461 0.1438)" font-size="10" fill="#f0e010" stroke="#f0e010" stroke-width="0.693" stroke-linejoin="round">P</text>
<text transform="translate(575.90 25.86) scale(0.3819 0.3728)" font-size="10" fill="#2828e0" stroke="#2828e0" stroke-width="0.628" stroke-linejoin="round">L</text>
<text transform="translate(578.39 27.48) scale(0.3196 0.0591)" font-size="10" fill="#f020f0" stroke="#f020f0" stroke-width="0.751" stroke-linejoin="round">D</text>
<text transform="translate(578.48 26.98) scale(0.2902 0.1234)" font-size="10" fill="#f0a020" stroke="#f0a020" stroke-width="0.827" stroke-linejoin="round">G</text>
<text transform="translate(578.37 25.79) scale(0.3461 0.7560)" font-size="10" fill="#f0e010" stroke="#f0e010" stroke-width="0.693" stroke-linejoin="round">P</text>
<text transform="translate(580.79 27.48) scale(0.3819 0.0637)" font-size="10" fill="#2828e0" stroke="#2828e0" stroke-width="0.628" stroke-linejoin="round">L</text>
<text transform="translate(580.97 26.97) scale(0.2920 0.1243)" font-size="10" fill="#2828e0" stroke="#2828e0" stroke-width="0.822" stroke-linejoin="round">A</text>
<text transform="translate(580.79 25.81) scale(0.3864 0.7688)" font-size="10" fill="#2828e0" stroke="#2828e0" stroke-width="0.621" stroke-linejoin="round">F</text>
<text transform="translate(583.44 27.47) scale(0.3090 0.0837)" font-size="10" fill="#20c8c8" stroke="#20c8c8" stroke-width="0.777" stroke-linejoin="round">Y</text>
<text transform="translate(583.26 26.81) scale(0.3461 0.1294)" font-size="10" fill="#f0e010" stroke="#f0e010" stroke-width="0.693" stroke-linejoin="round">P</text>
<text transform="translate(583.39 25.68) scale(0.3270 0.3853)" font-size="10" fill="#10a020" stroke="#10a020" stroke-width="0.734" stroke-linejoin="round">S</text>
<text transform="translate(585.70 27.48) scale(0.3461 0.0498)" font-size="10" fill="#f0e010" stroke="#f0e010" stroke-width="0.693" stroke-linejoin="round">P</text>
<text transform="translate(585.93 27.05) scale(0.2080 0.1274)" font-size="10" fill="#2828e0" stroke="#2828e0" stroke-width="1.154" stroke-linejoin="round">W</text>
<text transform="translate(585.67 25.83) scale(0.3864 0.7586)" font-size="10" fill="#2828e0" stroke="#2828e0" stroke-width="0.621" stroke-linejoin="round">F</text>
<text transform="translate(588.15 27.48) scale(0.3332 0.0479)" font-size="10" fill="#10a020" stroke="#10a020" stroke-width="0.720" stroke-linejoin="round">N</text>
<text transform="translate(588.14 27.09) scale(0.3492 0.1350)" font-size="10" fill="#f020f0" stroke="#f020f0" stroke-width="0.687" stroke-linejoin="round">E</text>
<text transform="translate(588.25 25.94) scale(0.2995 0.3257)" font-size="10" fill="#2828e0" stroke="#2828e0" stroke-width="0.801" stroke-linejoin="round">C</text>
<text transform="translate(590.62 27.48) scale(0.3033 0.0513)" font-size="10" fill="#f05070" stroke="#f05070" stroke-width="0.791" stroke-linejoin="round">K</text>
<text transform="translate(590.70 26.92) scale(0.2819 0.0745)" font-size="10" fill="#10a020" stroke="#10a020" stroke-width="0.851" stroke-linejoin="round">Q</text>
<text transform="translate(589.91 26.31) scale(1.3604 0.6434)" font-size="10" fill="#2828e0" stroke="#2828e0" stroke-width="0.176" stroke-linejoin="round">I</text>
<text transform="translate(593.03 27.48) scale(0.3461 0.0697)" font-size="10" fill="#f0e010" stroke="#f0e010" stroke-width="0.693" stroke-linejoin="round">P</text>
<text transform="translate(593.26 26.90) scale(0.2080 0.1119)" font-size="10" fill="#2828e0" stroke="#2828e0" stroke-width="1.154" stroke-linejoin="round">W</text>
<text transform="translate(593.01 25.95) scale(0.3819 0.2889)" font-size="10" fill="#2828e0" stroke="#2828e0" stroke-width="0.628" stroke-linejoin="round">L</text>
<text transform="translate(595.70 27.47) scale(0.2080 0.0513)" font-size="10" fill="#2828e0" stroke="#2828e0" stroke-width="1.154" stroke-linejoin="round">W</text>
<text transform="translate(594.79 27.07) scale(1.3604 0.1204)" font-size="10" fill="#2828e0" stroke="#2828e0" stroke-width="0.176" stroke-linejoin="round">I</text>
<text transform="translate(595.47 26.00) scale(0.3492 0.6669)" font-size="10" fill="#f020f0" stroke="#f020f0" stroke-width="0.687" stroke-linejoin="round">E</text>
<text transform="translate(598.08 27.47) scale(0.2920 0.0609)" font-size="10" fill="#2828e0" stroke="#2828e0" stroke-width="0.822" stroke-linejoin="round">A</text>
<text transform="translate(597.95 26.97) scale(0.3033 0.1340)" font-size="10" fill="#f05070" stroke="#f05070" stroke-width="0.791" stroke-linejoin="round">K</text>
<text transform="translate(598.03 25.59) scale(0.2902 0.7574)" font-size="10" fill="#f0a020" stroke="#f0a020" stroke-width="0.827" stroke-linejoin="round">G</text>
<text transform="translate(600.40 27.47) scale(0.2803 0.0629)" font-size="10" fill="#2828e0" stroke="#2828e0" stroke-width="0.856" stroke-linejoin="round">M</text>
<text transform="translate(600.57 26.95) scale(0.3000 0.1412)" font-size="10" fill="#2828e0" stroke="#2828e0" stroke-width="0.800" stroke-linejoin="round">V</text>
<text transform="translate(600.47 25.75) scale(0.2902 0.2983)" font-size="10" fill="#f0a020" stroke="#f0a020" stroke-width="0.827" stroke-linejoin="round">G</text>
<text transform="translate(602.81 27.47) scale(0.3332 0.0747)" font-size="10" fill="#ff70b0" stroke="#ff70b0" stroke-width="0.720" stroke-linejoin="round">H</text>
<text transform="translate(603.03 26.87) scale(0.2080 0.0924)" font-size="10" fill="#2828e0" stroke="#2828e0" stroke-width="1.154" stroke-linejoin="round">W</text>
<text transform="translate(603.03 26.07) scale(0.2080 0.1619)" font-size="10" fill="#2828e0" stroke="#2828e0" stroke-width="1.154" stroke-linejoin="round">W</text>
<text transform="translate(605.38 27.47) scale(0.3270 0.0666)" font-size="10" fill="#10a020" stroke="#10a020" stroke-width="0.734" stroke-linejoin="round">S</text>
<text transform="translate(605.38 26.93) scale(0.3270 0.0901)" font-size="10" fill="#10a020" stroke="#10a020" stroke-width="0.734" stroke-linejoin="round">S</text>
<text transform="translate(605.43 26.01) scale(0.3090 0.6383)" font-size="10" fill="#20c8c8" stroke="#20c8c8" stroke-width="0.777" stroke-linejoin="round">Y</text>
<text transform="translate(607.81 27.42) scale(0.2819 0.0340)" font-size="10" fill="#10a020" stroke="#10a020" stroke-width="0.851" stroke-linejoin="round">Q</text>
<text transform="translate(607.66 27.13) scale(0.3864 0.1088)" font-size="10" fill="#2828e0" stroke="#2828e0" stroke-width="0.621" stroke-linejoin="round">F</text>
<text transform="translate(607.83 26.07) scale(0.3270 0.5869)" font-size="10" fill="#10a020" stroke="#10a020" stroke-width="0.734" stroke-linejoin="round">S</text>
<text transform="translate(610.25 27.40) scale(0.2819 0.0417)" font-size="10" fill="#10a020" stroke="#10a020" stroke-width="0.851" stroke-linejoin="round">Q</text>
<text transform="translate(610.13 27.05) scale(0.3492 0.0942)" font-size="10" fill="#f020f0" stroke="#f020f0" stroke-width="0.687" stroke-linejoin="round">E</text>
<text transform="translate(610.24 26.24) scale(0.2995 0.2635)" font-size="10" fill="#2828e0" stroke="#2828e0" stroke-width="0.801" stroke-linejoin="round">C</text>
<text transform="translate(612.69 27.48) scale(0.2995 0.0467)" font-size="10" fill="#2828e0" stroke="#2828e0" stroke-width="0.801" stroke-linejoin="round">C</text>
<text transform="translate(612.58 27.09) scale(0.3461 0.1002)" font-size="10" fill="#f0e010" stroke="#f0e010" stroke-width="0.693" stroke-linejoin="round">P</text>
<text transform="translate(612.79 26.13) scale(0.3000 0.5854)" font-size="10" fill="#2828e0" stroke="#2828e0" stroke-width="0.800" stroke-linejoin="round">V</text>
<text transform="translate(615.05 27.47) scale(0.3033 0.0776)" font-size="10" fill="#f05070" stroke="#f05070" stroke-width="0.791" stroke-linejoin="round">K</text>
<text transform="translate(615.22 26.85) scale(0.3326 0.1261)" font-size="10" fill="#10a020" stroke="#10a020" stroke-width="0.722" stroke-linejoin="round">T</text>
<text transform="translate(615.04 25.79) scale(0.3196 0.3782)" font-size="10" fill="#f020f0" stroke="#f020f0" stroke-width="0.751" stroke-linejoin="round">D</text>
<text transform="translate(617.62 27.47) scale(0.2920 0.0694)" font-size="10" fill="#2828e0" stroke="#2828e0" stroke-width="0.822" stroke-linejoin="round">A</text>
<text transform="translate(617.48 26.92) scale(0.3196 0.0883)" font-size="10" fill="#f020f0" stroke="#f020f0" stroke-width="0.751" stroke-linejoin="round">D</text>
<text transform="translate(617.44 26.08) scale(0.3864 0.6473)" font-size="10" fill="#2828e0" stroke="#2828e0" stroke-width="0.621" stroke-linejoin="round">F</text>
<text transform="translate(619.92 27.48) scale(0.3332 0.0530)" font-size="10" fill="#ff70b0" stroke="#ff70b0" stroke-width="0.720" stroke-linejoin="round">H</text>
<text transform="translate(620.02 26.90) scale(0.2819 0.0789)" font-size="10" fill="#10a020" stroke="#10a020" stroke-width="0.851" stroke-linejoin="round">Q</text>
<text transform="translate(619.90 26.21) scale(0.3492 0.2887)" font-size="10" fill="#f020f0" stroke="#f020f0" stroke-width="0.687" stroke-linejoin="round">E</text>
<text transform="translate(622.46 27.47) scale(0.2995 0.0621)" font-size="10" fill="#2828e0" stroke="#2828e0" stroke-width="0.801" stroke-linejoin="round">C</text>
<text transform="translate(622.39 26.96) scale(0.2803 0.0957)" font-size="10" fill="#2828e0" stroke="#2828e0" stroke-width="0.856" stroke-linejoin="round">M</text>
<text transform="translate(622.46 25.93) scale(0.2902 0.6229)" font-size="10" fill="#f0a020" stroke="#f0a020" stroke-width="0.827" stroke-linejoin="round">G</text>
<text transform="translate(624.79 27.48) scale(0.3461 0.0445)" font-size="10" fill="#f0e010" stroke="#f0e010" stroke-width="0.693" stroke-linejoin="round">P</text>
<text transform="translate(624.79 27.12) scale(0.3461 0.1277)" font-size="10" fill="#f0e010" stroke="#f0e010" stroke-width="0.693" stroke-linejoin="round">P</text>
<text transform="translate(624.77 26.08) scale(0.3819 0.3232)" font-size="10" fill="#2828e0" stroke="#2828e0" stroke-width="0.628" stroke-linejoin="round">L</text>
<text transform="translate(627.42 27.48) scale(0.3090 0.0590)" font-size="10" fill="#20c8c8" stroke="#20c8c8" stroke-width="0.777" stroke-linejoin="round">Y</text>
<text transform="translate(627.45 27.00) scale(0.3000 0.1111)" font-size="10" fill="#2828e0" stroke="#2828e0" stroke-width="0.800" stroke-linejoin="round">V</text>
<text transform="translate(627.45 25.91) scale(0.3000 0.6795)" font-size="10" fill="#2828e0" stroke="#2828e0" stroke-width="0.800" stroke-linejoin="round">V</text>
<text transform="translate(629.88 27.49) scale(0.3326 0.0394)" font-size="10" fill="#10a020" stroke="#10a020" stroke-width="0.722" stroke-linejoin="round">T</text>
<text transform="translate(629.71 27.15) scale(0.3033 0.1135)" font-size="10" fill="#f05070" stroke="#f05070" stroke-width="0.791" stroke-linejoin="round">K</text>
<text transform="translate(629.91 26.16) scale(0.2080 0.2661)" font-size="10" fill="#2828e0" stroke="#2828e0" stroke-width="1.154" stroke-linejoin="round">W</text>
<text transform="translate(632.24 27.42) scale(0.2819 0.0328)" font-size="10" fill="#10a020" stroke="#10a020" stroke-width="0.851" stroke-linejoin="round">Q</text>
<text transform="translate(632.15 27.13) scale(0.3033 0.1172)" font-size="10" fill="#f05070" stroke="#f05070" stroke-width="0.791" stroke-linejoin="round">K</text>
<text transform="translate(631.44 26.24) scale(1.3604 0.2626)" font-size="10" fill="#2828e0" stroke="#2828e0" stroke-width="0.176" stroke-linejoin="round">I</text>
<text transform="translate(634.73 27.48) scale(0.2920 0.0588)" font-size="10" fill="#2828e0" stroke="#2828e0" stroke-width="0.822" stroke-linejoin="round">A</text>
<text transform="translate(634.68 26.83) scale(0.2819 0.0900)" font-size="10" fill="#10a020" stroke="#10a020" stroke-width="0.851" stroke-linejoin="round">Q</text>
<text transform="translate(634.57 25.91) scale(0.3461 0.7054)" font-size="10" fill="#f0e010" stroke="#f0e010" stroke-width="0.693" stroke-linejoin="round">P</text>
<path d="M562.7 38.78V31.18" stroke="#999" stroke-width="0.35"/>
<path d="M564.69 39.68H668.00" stroke="#b8b8b8" stroke-width="0.6" stroke-dasharray="0.4 1.970"/>
<text x="559.5" y="35.88" font-family="'Liberation Sans', sans-serif" font-size="3.2" font-weight="bold" fill="#555" text-anchor="end">2.</text>
<path d="M561.9 38.78H562.7M561.9 36.88H562.7M561.9 34.98H562.7M561.9 33.08H562.7M561.9 31.18H562.7" stroke="#999" stroke-width="0.3"/>
<text transform="translate(563.71 38.75) scale(0.3345 0.0783)" font-size="10" fill="#f0e010" stroke="#f0e010" stroke-width="0.717" stroke-linejoin="round">P</text>
<text transform="translate(563.89 38.13) scale(0.2986 0.1223)" font-size="10" fill="#20c8c8" stroke="#20c8c8" stroke-width="0.804" stroke-linejoin="round">Y</text>
<text transform="translate(563.83 35.72) scale(0.2724 0.6264)" font-size="10" fill="#10a020" stroke="#10a020" stroke-width="0.881" stroke-linejoin="round">Q</text>
<text transform="translate(566.13 38.75) scale(0.2709 0.0628)" font-size="10" fill="#2828e0" stroke="#2828e0" stroke-width="0.886" stroke-linejoin="round">M</text>
<text transform="translate(566.11 38.25) scale(0.2982 0.0817)" font-size="10" fill="#f05070" stroke="#f05070" stroke-width="0.805" stroke-linejoin="round">R</text>
<text transform="translate(566.06 37.60) scale(0.3735 0.1493)" font-size="10" fill="#2828e0" stroke="#2828e0" stroke-width="0.643" stroke-linejoin="round">F</text>
<text transform="translate(568.63 38.76) scale(0.2986 0.0459)" font-size="10" fill="#20c8c8" stroke="#20c8c8" stroke-width="0.804" stroke-linejoin="round">Y</text>
<text transform="translate(568.48 38.37) scale(0.2931 0.1261)" font-size="10" fill="#f05070" stroke="#f05070" stroke-width="0.819" stroke-linejoin="round">K</text>
<text transform="translate(568.61 37.30) scale(0.2822 0.3175)" font-size="10" fill="#2828e0" stroke="#2828e0" stroke-width="0.851" stroke-linejoin="round">A</text>
<text transform="translate(570.98 38.76) scale(0.2822 0.0520)" font-size="10" fill="#2828e0" stroke="#2828e0" stroke-width="0.851" stroke-linejoin="round">A</text>
<text transform="translate(570.83 38.33) scale(0.3220 0.1064)" font-size="10" fill="#10a020" stroke="#10a020" stroke-width="0.745" stroke-linejoin="round">N</text>
<text transform="translate(570.98 37.48) scale(0.2822 0.1566)" font-size="10" fill="#2828e0" stroke="#2828e0" stroke-width="0.851" stroke-linejoin="round">A</text>
<text transform="translate(573.42 38.75) scale(0.2010 0.0551)" font-size="10" fill="#2828e0" stroke="#2828e0" stroke-width="1.194" stroke-linejoin="round">W</text>
<text transform="translate(573.37 38.28) scale(0.2986 0.1052)" font-size="10" fill="#20c8c8" stroke="#20c8c8" stroke-width="0.804" stroke-linejoin="round">Y</text>
<text transform="translate(573.21 37.38) scale(0.3089 0.3061)" font-size="10" fill="#f020f0" stroke="#f020f0" stroke-width="0.777" stroke-linejoin="round">D</text>
<text transform="translate(575.68 38.72) scale(0.2805 0.1190)" font-size="10" fill="#f0a020" stroke="#f0a020" stroke-width="0.856" stroke-linejoin="round">G</text>
<text transform="translate(575.58 37.78) scale(0.3220 0.1242)" font-size="10" fill="#10a020" stroke="#10a020" stroke-width="0.745" stroke-linejoin="round">N</text>
<text transform="translate(578.11 38.75) scale(0.2986 0.0636)" font-size="10" fill="#20c8c8" stroke="#20c8c8" stroke-width="0.804" stroke-linejoin="round">Y</text>
<text transform="translate(577.96 38.24) scale(0.2931 0.1052)" font-size="10" fill="#f05070" stroke="#f05070" stroke-width="0.819" stroke-linejoin="round">K</text>
<text transform="translate(578.07 37.32) scale(0.3161 0.3084)" font-size="10" fill="#10a020" stroke="#10a020" stroke-width="0.759" stroke-linejoin="round">S</text>
<text transform="translate(580.46 38.75) scale(0.2822 0.0630)" font-size="10" fill="#2828e0" stroke="#2828e0" stroke-width="0.851" stroke-linejoin="round">A</text>
<text transform="translate(580.53 38.24) scale(0.2010 0.0790)" font-size="10" fill="#2828e0" stroke="#2828e0" stroke-width="1.194" stroke-linejoin="round">W</text>
<text transform="translate(580.31 37.55) scale(0.3345 0.2250)" font-size="10" fill="#f0e010" stroke="#f0e010" stroke-width="0.717" stroke-linejoin="round">P</text>
<text transform="translate(582.02 38.77) scale(1.3149 0.0656)" font-size="10" fill="#2828e0" stroke="#2828e0" stroke-width="0.183" stroke-linejoin="round">I</text>
<text transform="translate(582.71 38.28) scale(0.2931 0.0936)" font-size="10" fill="#f05070" stroke="#f05070" stroke-width="0.819" stroke-linejoin="round">K</text>
<text transform="translate(582.65 37.53) scale(0.3735 0.1574)" font-size="10" fill="#2828e0" stroke="#2828e0" stroke-width="0.643" stroke-linejoin="round">F</text>
<text transform="translate(585.16 38.66) scale(0.2724 0.0509)" font-size="10" fill="#10a020" stroke="#10a020" stroke-width="0.881" stroke-linejoin="round">Q</text>
<text transform="translate(585.05 38.24) scale(0.3375 0.0938)" font-size="10" fill="#f020f0" stroke="#f020f0" stroke-width="0.711" stroke-linejoin="round">E</text>
<text transform="translate(585.09 37.28) scale(0.2709 0.6205)" font-size="10" fill="#2828e0" stroke="#2828e0" stroke-width="0.886" stroke-linejoin="round">M</text>
<text transform="translate(587.46 38.75) scale(0.2709 0.0569)" font-size="10" fill="#2828e0" stroke="#2828e0" stroke-width="0.886" stroke-linejoin="round">M</text>
<text transform="translate(586.76 38.32) scale(1.3149 0.1013)" font-size="10" fill="#2828e0" stroke="#2828e0" stroke-width="0.183" stroke-linejoin="round">I</text>
<text transform="translate(587.44 37.37) scale(0.2982 0.5980)" font-size="10" fill="#f05070" stroke="#f05070" stroke-width="0.805" stroke-linejoin="round">R</text>
<text transform="translate(589.90 38.76) scale(0.2805 0.0455)" font-size="10" fill="#f0a020" stroke="#f0a020" stroke-width="0.856" stroke-linejoin="round">G</text>
<text transform="translate(589.81 38.37) scale(0.3089 0.1221)" font-size="10" fill="#f020f0" stroke="#f020f0" stroke-width="0.777" stroke-linejoin="round">D</text>
<text transform="translate(589.94 37.18) scale(0.2822 0.6690)" font-size="10" fill="#2828e0" stroke="#2828e0" stroke-width="0.851" stroke-linejoin="round">A</text>
<text transform="translate(592.38 38.75) scale(0.2010 0.0512)" font-size="10" fill="#2828e0" stroke="#2828e0" stroke-width="1.194" stroke-linejoin="round">W</text>
<text transform="translate(592.18 38.31) scale(0.2982 0.1163)" font-size="10" fill="#f05070" stroke="#f05070" stroke-width="0.805" stroke-linejoin="round">R</text>
<text transform="translate(592.33 37.32) scale(0.2986 0.3176)" font-size="10" fill="#20c8c8" stroke="#20c8c8" stroke-width="0.804" stroke-linejoin="round">Y</text>
<text transform="translate(594.64 38.76) scale(0.2895 0.0452)" font-size="10" fill="#2828e0" stroke="#2828e0" stroke-width="0.829" stroke-linejoin="round">C</text>
<text transform="translate(594.72 38.38) scale(0.3215 0.1136)" font-size="10" fill="#10a020" stroke="#10a020" stroke-width="0.747" stroke-linejoin="round">T</text>
<text transform="translate(594.51 37.33) scale(0.3691 0.6523)" font-size="10" fill="#2828e0" stroke="#2828e0" stroke-width="0.650" stroke-linejoin="round">L</text>
<text transform="translate(597.12 38.75) scale(0.2010 0.0545)" font-size="10" fill="#2828e0" stroke="#2828e0" stroke-width="1.194" stroke-linejoin="round">W</text>
<text transform="translate(597.01 38.25) scale(0.2805 0.1389)" font-size="10" fill="#f0a020" stroke="#f0a020" stroke-width="0.856" stroke-linejoin="round">G</text>
<text transform="translate(596.94 37.07) scale(0.2709 0.2988)" font-size="10" fill="#2828e0" stroke="#2828e0" stroke-width="0.886" stroke-linejoin="round">M</text>
<text transform="translate(599.29 38.75) scale(0.3089 0.0739)" font-size="10" fill="#f020f0" stroke="#f020f0" stroke-width="0.777" stroke-linejoin="round">D</text>
<text transform="translate(599.44 38.16) scale(0.2986 0.1190)" font-size="10" fill="#20c8c8" stroke="#20c8c8" stroke-width="0.804" stroke-linejoin="round">Y</text>
<text transform="translate(599.38 35.82) scale(0.2724 0.6044)" font-size="10" fill="#10a020" stroke="#10a020" stroke-width="0.881" stroke-linejoin="round">Q</text>
<text transform="translate(601.62 38.76) scale(0.3691 0.0710)" font-size="10" fill="#2828e0" stroke="#2828e0" stroke-width="0.650" stroke-linejoin="round">L</text>
<text transform="translate(601.83 38.21) scale(0.3215 0.0949)" font-size="10" fill="#10a020" stroke="#10a020" stroke-width="0.747" stroke-linejoin="round">T</text>
<text transform="translate(601.68 37.22) scale(0.2709 0.6443)" font-size="10" fill="#2828e0" stroke="#2828e0" stroke-width="0.886" stroke-linejoin="round">M</text>
<text transform="translate(604.02 38.75) scale(0.3220 0.0754)" font-size="10" fill="#10a020" stroke="#10a020" stroke-width="0.745" stroke-linejoin="round">N</text>
<text transform="translate(604.12 37.98) scale(0.2724 0.0894)" font-size="10" fill="#10a020" stroke="#10a020" stroke-width="0.881" stroke-linejoin="round">Q</text>
<text transform="translate(603.99 37.06) scale(0.3691 0.7735)" font-size="10" fill="#2828e0" stroke="#2828e0" stroke-width="0.650" stroke-linejoin="round">L</text>
<text transform="translate(606.49 38.75) scale(0.2895 0.0546)" font-size="10" fill="#2828e0" stroke="#2828e0" stroke-width="0.829" stroke-linejoin="round">C</text>
<text transform="translate(606.50 38.13) scale(0.2724 0.0871)" font-size="10" fill="#10a020" stroke="#10a020" stroke-width="0.881" stroke-linejoin="round">Q</text>
<text transform="translate(606.59 37.35) scale(0.2900 0.3094)" font-size="10" fill="#2828e0" stroke="#2828e0" stroke-width="0.828" stroke-linejoin="round">V</text>
<text transform="translate(608.93 38.75) scale(0.2986 0.0685)" font-size="10" fill="#20c8c8" stroke="#20c8c8" stroke-width="0.804" stroke-linejoin="round">Y</text>
<text transform="translate(608.94 38.21) scale(0.3215 0.0849)" font-size="10" fill="#10a020" stroke="#10a020" stroke-width="0.747" stroke-linejoin="round">T</text>
<text transform="translate(608.78 37.34) scale(0.2931 0.6088)" font-size="10" fill="#f05070" stroke="#f05070" stroke-width="0.819" stroke-linejoin="round">K</text>
<text transform="translate(610.47 38.78) scale(1.3149 0.0482)" font-size="10" fill="#2828e0" stroke="#2828e0" stroke-width="0.183" stroke-linejoin="round">I</text>
<text transform="translate(611.23 38.38) scale(0.2895 0.1210)" font-size="10" fill="#2828e0" stroke="#2828e0" stroke-width="0.829" stroke-linejoin="round">C</text>
<text transform="translate(611.30 37.20) scale(0.2986 0.6732)" font-size="10" fill="#20c8c8" stroke="#20c8c8" stroke-width="0.804" stroke-linejoin="round">Y</text>
<text transform="translate(613.70 38.76) scale(0.2900 0.0406)" font-size="10" fill="#2828e0" stroke="#2828e0" stroke-width="0.828" stroke-linejoin="round">V</text>
<text transform="translate(613.54 38.41) scale(0.2709 0.1161)" font-size="10" fill="#2828e0" stroke="#2828e0" stroke-width="0.886" stroke-linejoin="round">M</text>
<text transform="translate(613.68 37.49) scale(0.3215 0.1600)" font-size="10" fill="#10a020" stroke="#10a020" stroke-width="0.747" stroke-linejoin="round">T</text>
<text transform="translate(616.09 38.75) scale(0.2010 0.0561)" font-size="10" fill="#2828e0" stroke="#2828e0" stroke-width="1.194" stroke-linejoin="round">W</text>
<text transform="translate(615.84 38.26) scale(0.3691 0.1598)" font-size="10" fill="#2828e0" stroke="#2828e0" stroke-width="0.650" stroke-linejoin="round">L</text>
<text transform="translate(616.00 36.91) scale(0.3161 0.3935)" font-size="10" fill="#10a020" stroke="#10a020" stroke-width="0.759" stroke-linejoin="round">S</text>
<text transform="translate(618.34 38.73) scale(0.2895 0.1033)" font-size="10" fill="#2828e0" stroke="#2828e0" stroke-width="0.829" stroke-linejoin="round">C</text>
<text transform="translate(617.58 37.94) scale(1.3149 0.1172)" font-size="10" fill="#2828e0" stroke="#2828e0" stroke-width="0.183" stroke-linejoin="round">I</text>
<text transform="translate(620.79 38.76) scale(0.3215 0.0428)" font-size="10" fill="#10a020" stroke="#10a020" stroke-width="0.747" stroke-linejoin="round">T</text>
<text transform="translate(620.61 38.41) scale(0.3220 0.1052)" font-size="10" fill="#ff70b0" stroke="#ff70b0" stroke-width="0.745" stroke-linejoin="round">H</text>
<text transform="translate(620.60 37.54) scale(0.3375 0.2764)" font-size="10" fill="#f020f0" stroke="#f020f0" stroke-width="0.711" stroke-linejoin="round">E</text>
<text transform="translate(623.13 38.76) scale(0.2822 0.0568)" font-size="10" fill="#2828e0" stroke="#2828e0" stroke-width="0.851" stroke-linejoin="round">A</text>
<text transform="translate(623.11 38.28) scale(0.3161 0.1118)" font-size="10" fill="#10a020" stroke="#10a020" stroke-width="0.759" stroke-linejoin="round">S</text>
<text transform="translate(623.09 37.12) scale(0.2724 0.1343)" font-size="10" fill="#10a020" stroke="#10a020" stroke-width="0.881" stroke-linejoin="round">Q</text>
<text transform="translate(625.32 38.75) scale(0.3691 0.0870)" font-size="10" fill="#2828e0" stroke="#2828e0" stroke-width="0.650" stroke-linejoin="round">L</text>
<text transform="translate(624.69 38.11) scale(1.3149 0.1314)" font-size="10" fill="#2828e0" stroke="#2828e0" stroke-width="0.183" stroke-linejoin="round">I</text>
<text transform="translate(625.34 37.05) scale(0.3375 0.3847)" font-size="10" fill="#f020f0" stroke="#f020f0" stroke-width="0.711" stroke-linejoin="round">E</text>
<text transform="translate(627.82 38.75) scale(0.2895 0.0505)" font-size="10" fill="#2828e0" stroke="#2828e0" stroke-width="0.829" stroke-linejoin="round">C</text>
<text transform="translate(627.89 38.34) scale(0.2986 0.0997)" font-size="10" fill="#20c8c8" stroke="#20c8c8" stroke-width="0.804" stroke-linejoin="round">Y</text>
<text transform="translate(627.91 37.54) scale(0.3215 0.1530)" font-size="10" fill="#10a020" stroke="#10a020" stroke-width="0.747" stroke-linejoin="round">T</text>
<text transform="translate(630.29 38.75) scale(0.2900 0.0636)" font-size="10" fill="#2828e0" stroke="#2828e0" stroke-width="0.828" stroke-linejoin="round">V</text>
<text transform="translate(630.22 38.24) scale(0.3161 0.0848)" font-size="10" fill="#10a020" stroke="#10a020" stroke-width="0.759" stroke-linejoin="round">S</text>
<text transform="translate(630.06 37.41) scale(0.3691 0.6159)" font-size="10" fill="#2828e0" stroke="#2828e0" stroke-width="0.650" stroke-linejoin="round">L</text>
<text transform="translate(632.47 38.75) scale(0.3220 0.0728)" font-size="10" fill="#ff70b0" stroke="#ff70b0" stroke-width="0.745" stroke-linejoin="round">H</text>
<text transform="translate(632.46 38.18) scale(0.3375 0.1196)" font-size="10" fill="#f020f0" stroke="#f020f0" stroke-width="0.711" stroke-linejoin="round">E</text>
<text transform="translate(632.56 37.16) scale(0.2895 0.2767)" font-size="10" fill="#2828e0" stroke="#2828e0" stroke-width="0.829" stroke-linejoin="round">C</text>
<text transform="translate(634.94 38.75) scale(0.2805 0.0519)" font-size="10" fill="#f0a020" stroke="#f0a020" stroke-width="0.856" stroke-linejoin="round">G</text>
<text transform="translate(634.17 38.35) scale(1.3149 0.1470)" font-size="10" fill="#2828e0" stroke="#2828e0" stroke-width="0.183" stroke-linejoin="round">I</text>
<text transform="translate(634.93 37.15) scale(0.2895 0.3374)" font-size="10" fill="#2828e0" stroke="#2828e0" stroke-width="0.829" stroke-linejoin="round">C</text>
<text transform="translate(637.17 38.76) scale(0.3735 0.0514)" font-size="10" fill="#2828e0" stroke="#2828e0" stroke-width="0.643" stroke-linejoin="round">F</text>
<text transform="translate(637.35 38.33) scale(0.2822 0.1374)" font-size="10" fill="#2828e0" stroke="#2828e0" stroke-width="0.851" stroke-linejoin="round">A</text>
<text transform="translate(637.20 37.04) scale(0.3345 0.7647)" font-size="10" fill="#f0e010" stroke="#f0e010" stroke-width="0.717" stroke-linejoin="round">P</text>
<text transform="translate(639.57 38.76) scale(0.3345 0.0583)" font-size="10" fill="#f0e010" stroke="#f0e010" stroke-width="0.717" stroke-linejoin="round">P</text>
<text transform="translate(639.67 38.27) scale(0.2895 0.1105)" font-size="10" fill="#2828e0" stroke="#2828e0" stroke-width="0.829" stroke-linejoin="round">C</text>
<text transform="translate(638.91 37.38) scale(1.3149 0.7553)" font-size="10" fill="#2828e0" stroke="#2828e0" stroke-width="0.183" stroke-linejoin="round">I</text>
<text transform="translate(642.11 38.75) scale(0.2986 0.0747)" font-size="10" fill="#20c8c8" stroke="#20c8c8" stroke-width="0.804" stroke-linejoin="round">Y</text>
<text transform="translate(642.13 38.16) scale(0.3215 0.1129)" font-size="10" fill="#10a020" stroke="#10a020" stroke-width="0.747" stroke-linejoin="round">T</text>
<text transform="translate(641.92 37.08) scale(0.3691 0.7648)" font-size="10" fill="#2828e0" stroke="#2828e0" stroke-width="0.650" stroke-linejoin="round">L</text>
<text transform="translate(644.35 38.75) scale(0.2709 0.0751)" font-size="10" fill="#2828e0" stroke="#2828e0" stroke-width="0.886" stroke-linejoin="round">M</text>
<text transform="translate(644.46 38.15) scale(0.2822 0.0962)" font-size="10" fill="#2828e0" stroke="#2828e0" stroke-width="0.851" stroke-linejoin="round">A</text>
<text transform="translate(644.51 37.15) scale(0.2900 0.6898)" font-size="10" fill="#2828e0" stroke="#2828e0" stroke-width="0.828" stroke-linejoin="round">V</text>
<text transform="translate(646.79 38.75) scale(0.2895 0.0551)" font-size="10" fill="#2828e0" stroke="#2828e0" stroke-width="0.829" stroke-linejoin="round">C</text>
<text transform="translate(646.68 38.29) scale(0.3375 0.1376)" font-size="10" fill="#f020f0" stroke="#f020f0" stroke-width="0.711" stroke-linejoin="round">E</text>
<text transform="translate(646.66 37.03) scale(0.3691 0.7881)" font-size="10" fill="#2828e0" stroke="#2828e0" stroke-width="0.650" stroke-linejoin="round">L</text>
<text transform="translate(649.16 38.75) scale(0.2895 0.0503)" font-size="10" fill="#2828e0" stroke="#2828e0" stroke-width="0.829" stroke-linejoin="round">C</text>
<text transform="translate(649.07 38.34) scale(0.3089 0.0952)" font-size="10" fill="#f020f0" stroke="#f020f0" stroke-width="0.777" stroke-linejoin="round">D</text>
<text transform="translate(648.39 37.58) scale(1.3149 0.6463)" font-size="10" fill="#2828e0" stroke="#2828e0" stroke-width="0.183" stroke-linejoin="round">I</text>
<text transform="translate(651.53 38.75) scale(0.2805 0.0589)" font-size="10" fill="#f0a020" stroke="#f0a020" stroke-width="0.856" stroke-linejoin="round">G</text>
<text transform="translate(651.46 38.26) scale(0.2709 0.1105)" font-size="10" fill="#2828e0" stroke="#2828e0" stroke-width="0.886" stroke-linejoin="round">M</text>
<text transform="translate(651.64 37.05) scale(0.2010 0.6471)" font-size="10" fill="#2828e0" stroke="#2828e0" stroke-width="1.194" stroke-linejoin="round">W</text>
<text transform="translate(653.79 38.76) scale(0.3345 0.0566)" font-size="10" fill="#f0e010" stroke="#f0e010" stroke-width="0.717" stroke-linejoin="round">P</text>
<text transform="translate(654.01 38.29) scale(0.2010 0.0878)" font-size="10" fill="#2828e0" stroke="#2828e0" stroke-width="1.194" stroke-linejoin="round">W</text>
<text transform="translate(653.79 37.51) scale(0.3375 0.2820)" font-size="10" fill="#f020f0" stroke="#f020f0" stroke-width="0.711" stroke-linejoin="round">E</text>
<text transform="translate(656.17 38.73) scale(0.3220 0.1228)" font-size="10" fill="#ff70b0" stroke="#ff70b0" stroke-width="0.745" stroke-linejoin="round">H</text>
<text transform="translate(656.19 37.78) scale(0.2931 0.1213)" font-size="10" fill="#f05070" stroke="#f05070" stroke-width="0.819" stroke-linejoin="round">K</text>
<text transform="translate(658.51 38.76) scale(0.3735 0.0746)" font-size="10" fill="#2828e0" stroke="#2828e0" stroke-width="0.643" stroke-linejoin="round">F</text>
<text transform="translate(658.74 38.16) scale(0.2900 0.1264)" font-size="10" fill="#2828e0" stroke="#2828e0" stroke-width="0.828" stroke-linejoin="round">V</text>
<text transform="translate(658.55 36.91) scale(0.3089 0.8018)" font-size="10" fill="#f020f0" stroke="#f020f0" stroke-width="0.777" stroke-linejoin="round">D</text>
<text transform="translate(660.92 38.76) scale(0.3089 0.0442)" font-size="10" fill="#f020f0" stroke="#f020f0" stroke-width="0.777" stroke-linejoin="round">D</text>
<text transform="translate(661.13 38.38) scale(0.2010 0.0936)" font-size="10" fill="#2828e0" stroke="#2828e0" stroke-width="1.194" stroke-linejoin="round">W</text>
<text transform="translate(661.13 37.51) scale(0.2010 0.2503)" font-size="10" fill="#2828e0" stroke="#2828e0" stroke-width="1.194" stroke-linejoin="round">W</text>
<text transform="translate(663.45 38.76) scale(0.2986 0.0594)" font-size="10" fill="#20c8c8" stroke="#20c8c8" stroke-width="0.804" stroke-linejoin="round">Y</text>
<text transform="translate(663.48 38.28) scale(0.2900 0.0984)" font-size="10" fill="#2828e0" stroke="#2828e0" stroke-width="0.828" stroke-linejoin="round">V</text>
<text transform="translate(663.48 37.43) scale(0.2900 0.2927)" font-size="10" fill="#2828e0" stroke="#2828e0" stroke-width="0.828" stroke-linejoin="round">V</text>
<text transform="translate(665.82 38.76) scale(0.2986 0.0479)" font-size="10" fill="#20c8c8" stroke="#20c8c8" stroke-width="0.804" stroke-linejoin="round">Y</text>
<text transform="translate(665.76 38.18) scale(0.2724 0.0921)" font-size="10" fill="#10a020" stroke="#10a020" stroke-width="0.881" stroke-linejoin="round">Q</text>
<text transform="translate(665.62 37.27) scale(0.3691 0.6777)" font-size="10" fill="#2828e0" stroke="#2828e0" stroke-width="0.650" stroke-linejoin="round">L</text>
<path d="M562.7 50.06V42.46" stroke="#999" stroke-width="0.35"/>
<path d="M564.72 50.96H637.00" stroke="#b8b8b8" stroke-width="0.6" stroke-dasharray="0.4 2.043"/>
<text x="559.5" y="47.16" font-family="'Liberation Sans', sans-serif" font-size="3.2" font-weight="bold" fill="#555" text-anchor="end">3.</text>
<path d="M561.9 50.06H562.7M561.9 48.16H562.7M561.9 46.26H562.7M561.9 44.36H562.7M561.9 42.46H562.7" stroke="#999" stroke-width="0.3"/>
<text transform="translate(563.75 50.04) scale(0.2803 0.0472)" font-size="10" fill="#2828e0" stroke="#2828e0" stroke-width="0.856" stroke-linejoin="round">M</text>
<text transform="translate(563.83 49.50) scale(0.2819 0.0781)" font-size="10" fill="#10a020" stroke="#10a020" stroke-width="0.851" stroke-linejoin="round">Q</text>
<text transform="translate(563.85 48.65) scale(0.3270 0.5790)" font-size="10" fill="#10a020" stroke="#10a020" stroke-width="0.734" stroke-linejoin="round">S</text>
<text transform="translate(566.31 50.03) scale(0.2920 0.0721)" font-size="10" fill="#2828e0" stroke="#2828e0" stroke-width="0.822" stroke-linejoin="round">A</text>
<text transform="translate(565.47 49.48) scale(1.3604 0.1380)" font-size="10" fill="#2828e0" stroke="#2828e0" stroke-width="0.176" stroke-linejoin="round">I</text>
<text transform="translate(566.15 48.24) scale(0.3461 0.8041)" font-size="10" fill="#f0e010" stroke="#f0e010" stroke-width="0.693" stroke-linejoin="round">P</text>
<text transform="translate(568.83 50.03) scale(0.2080 0.0583)" font-size="10" fill="#2828e0" stroke="#2828e0" stroke-width="1.154" stroke-linejoin="round">W</text>
<text transform="translate(568.61 49.54) scale(0.3196 0.0951)" font-size="10" fill="#f020f0" stroke="#f020f0" stroke-width="0.751" stroke-linejoin="round">D</text>
<text transform="translate(568.57 48.64) scale(0.3819 0.6425)" font-size="10" fill="#2828e0" stroke="#2828e0" stroke-width="0.628" stroke-linejoin="round">L</text>
<text transform="translate(571.01 50.04) scale(0.3864 0.0789)" font-size="10" fill="#2828e0" stroke="#2828e0" stroke-width="0.621" stroke-linejoin="round">F</text>
<text transform="translate(571.20 49.42) scale(0.2920 0.1122)" font-size="10" fill="#2828e0" stroke="#2828e0" stroke-width="0.822" stroke-linejoin="round">A</text>
<text transform="translate(571.18 48.24) scale(0.3270 0.7461)" font-size="10" fill="#10a020" stroke="#10a020" stroke-width="0.734" stroke-linejoin="round">S</text>
<text transform="translate(573.69 50.04) scale(0.3000 0.0447)" font-size="10" fill="#2828e0" stroke="#2828e0" stroke-width="0.800" stroke-linejoin="round">V</text>
<text transform="translate(573.51 49.66) scale(0.3033 0.1300)" font-size="10" fill="#f05070" stroke="#f05070" stroke-width="0.791" stroke-linejoin="round">K</text>
<text transform="translate(573.49 48.64) scale(0.3332 0.1768)" font-size="10" fill="#10a020" stroke="#10a020" stroke-width="0.720" stroke-linejoin="round">N</text>
<text transform="translate(576.12 50.04) scale(0.3326 0.0486)" font-size="10" fill="#10a020" stroke="#10a020" stroke-width="0.722" stroke-linejoin="round">T</text>
<text transform="translate(575.93 49.65) scale(0.3461 0.1076)" font-size="10" fill="#f0e010" stroke="#f0e010" stroke-width="0.693" stroke-linejoin="round">P</text>
<text transform="translate(576.04 48.72) scale(0.2995 0.2783)" font-size="10" fill="#2828e0" stroke="#2828e0" stroke-width="0.801" stroke-linejoin="round">C</text>
<text transform="translate(578.37 50.04) scale(0.3492 0.0522)" font-size="10" fill="#f020f0" stroke="#f020f0" stroke-width="0.687" stroke-linejoin="round">E</text>
<text transform="translate(578.60 49.61) scale(0.2080 0.0949)" font-size="10" fill="#2828e0" stroke="#2828e0" stroke-width="1.154" stroke-linejoin="round">W</text>
<text transform="translate(578.41 48.81) scale(0.2803 0.1507)" font-size="10" fill="#2828e0" stroke="#2828e0" stroke-width="0.856" stroke-linejoin="round">M</text>
<text transform="translate(580.13 50.05) scale(1.3604 0.0791)" font-size="10" fill="#2828e0" stroke="#2828e0" stroke-width="0.176" stroke-linejoin="round">I</text>
<text transform="translate(580.81 49.46) scale(0.3461 0.1324)" font-size="10" fill="#f0e010" stroke="#f0e010" stroke-width="0.693" stroke-linejoin="round">P</text>
<text transform="translate(581.04 48.28) scale(0.2080 0.3530)" font-size="10" fill="#2828e0" stroke="#2828e0" stroke-width="1.154" stroke-linejoin="round">W</text>
<text transform="translate(583.25 50.04) scale(0.3492 0.0643)" font-size="10" fill="#f020f0" stroke="#f020f0" stroke-width="0.687" stroke-linejoin="round">E</text>
<text transform="translate(583.26 49.54) scale(0.3461 0.0846)" font-size="10" fill="#f0e010" stroke="#f0e010" stroke-width="0.693" stroke-linejoin="round">P</text>
<text transform="translate(583.42 48.68) scale(0.2920 0.5833)" font-size="10" fill="#2828e0" stroke="#2828e0" stroke-width="0.822" stroke-linejoin="round">A</text>
<text transform="translate(585.70 50.04) scale(0.3492 0.0698)" font-size="10" fill="#f020f0" stroke="#f020f0" stroke-width="0.687" stroke-linejoin="round">E</text>
<text transform="translate(585.86 49.49) scale(0.2920 0.0851)" font-size="10" fill="#2828e0" stroke="#2828e0" stroke-width="0.822" stroke-linejoin="round">A</text>
<text transform="translate(585.68 48.66) scale(0.3819 0.6333)" font-size="10" fill="#2828e0" stroke="#2828e0" stroke-width="0.628" stroke-linejoin="round">L</text>
<text transform="translate(588.12 50.04) scale(0.3819 0.0560)" font-size="10" fill="#2828e0" stroke="#2828e0" stroke-width="0.628" stroke-linejoin="round">L</text>
<text transform="translate(588.37 49.56) scale(0.2080 0.1302)" font-size="10" fill="#2828e0" stroke="#2828e0" stroke-width="1.154" stroke-linejoin="round">W</text>
<text transform="translate(588.28 48.43) scale(0.3270 0.2849)" font-size="10" fill="#10a020" stroke="#10a020" stroke-width="0.734" stroke-linejoin="round">S</text>
<text transform="translate(590.82 50.02) scale(0.2080 0.0654)" font-size="10" fill="#2828e0" stroke="#2828e0" stroke-width="1.154" stroke-linejoin="round">W</text>
<text transform="translate(590.78 49.49) scale(0.3326 0.0925)" font-size="10" fill="#10a020" stroke="#10a020" stroke-width="0.722" stroke-linejoin="round">T</text>
<text transform="translate(590.56 48.60) scale(0.3819 0.6613)" font-size="10" fill="#2828e0" stroke="#2828e0" stroke-width="0.628" stroke-linejoin="round">L</text>
<text transform="translate(593.24 50.03) scale(0.3000 0.0699)" font-size="10" fill="#2828e0" stroke="#2828e0" stroke-width="0.800" stroke-linejoin="round">V</text>
<text transform="translate(593.03 49.48) scale(0.3492 0.1058)" font-size="10" fill="#f020f0" stroke="#f020f0" stroke-width="0.687" stroke-linejoin="round">E</text>
<text transform="translate(593.21 48.44) scale(0.3090 0.6977)" font-size="10" fill="#20c8c8" stroke="#20c8c8" stroke-width="0.777" stroke-linejoin="round">Y</text>
<text transform="translate(595.52 50.02) scale(0.2803 0.0853)" font-size="10" fill="#2828e0" stroke="#2828e0" stroke-width="0.856" stroke-linejoin="round">M</text>
<text transform="translate(595.70 49.33) scale(0.2080 0.1041)" font-size="10" fill="#2828e0" stroke="#2828e0" stroke-width="1.154" stroke-linejoin="round">W</text>
<text transform="translate(595.63 48.21) scale(0.2920 0.7839)" font-size="10" fill="#2828e0" stroke="#2828e0" stroke-width="0.822" stroke-linejoin="round">A</text>
<text transform="translate(598.03 50.03) scale(0.2902 0.0650)" font-size="10" fill="#f0a020" stroke="#f0a020" stroke-width="0.827" stroke-linejoin="round">G</text>
<text transform="translate(597.24 49.53) scale(1.3604 0.0960)" font-size="10" fill="#2828e0" stroke="#2828e0" stroke-width="0.176" stroke-linejoin="round">I</text>
<text transform="translate(597.93 48.64) scale(0.3332 0.6243)" font-size="10" fill="#10a020" stroke="#10a020" stroke-width="0.720" stroke-linejoin="round">N</text>
<text transform="translate(600.36 50.04) scale(0.3461 0.0535)" font-size="10" fill="#f0e010" stroke="#f0e010" stroke-width="0.693" stroke-linejoin="round">P</text>
<text transform="translate(600.39 49.60) scale(0.3033 0.1171)" font-size="10" fill="#f05070" stroke="#f05070" stroke-width="0.791" stroke-linejoin="round">K</text>
<text transform="translate(600.47 48.40) scale(0.2902 0.6586)" font-size="10" fill="#f0a020" stroke="#f0a020" stroke-width="0.827" stroke-linejoin="round">G</text>
<text transform="translate(602.81 50.04) scale(0.3332 0.0618)" font-size="10" fill="#10a020" stroke="#10a020" stroke-width="0.720" stroke-linejoin="round">N</text>
<text transform="translate(603.01 49.54) scale(0.3000 0.1036)" font-size="10" fill="#2828e0" stroke="#2828e0" stroke-width="0.800" stroke-linejoin="round">V</text>
<text transform="translate(602.85 48.50) scale(0.2803 0.6524)" font-size="10" fill="#2828e0" stroke="#2828e0" stroke-width="0.856" stroke-linejoin="round">M</text>
<text transform="translate(605.44 50.03) scale(0.3326 0.0780)" font-size="10" fill="#10a020" stroke="#10a020" stroke-width="0.722" stroke-linejoin="round">T</text>
<text transform="translate(604.57 49.45) scale(1.3604 0.1110)" font-size="10" fill="#2828e0" stroke="#2828e0" stroke-width="0.176" stroke-linejoin="round">I</text>
<text transform="translate(605.48 48.50) scale(0.2080 0.3108)" font-size="10" fill="#2828e0" stroke="#2828e0" stroke-width="1.154" stroke-linejoin="round">W</text>
<text transform="translate(607.80 50.02) scale(0.2902 0.0710)" font-size="10" fill="#f0a020" stroke="#f0a020" stroke-width="0.827" stroke-linejoin="round">G</text>
<text transform="translate(607.81 49.25) scale(0.2819 0.0990)" font-size="10" fill="#10a020" stroke="#10a020" stroke-width="0.851" stroke-linejoin="round">Q</text>
<text transform="translate(607.80 48.12) scale(0.2902 0.7725)" font-size="10" fill="#f0a020" stroke="#f0a020" stroke-width="0.827" stroke-linejoin="round">G</text>
<text transform="translate(610.33 50.04) scale(0.3326 0.0575)" font-size="10" fill="#10a020" stroke="#10a020" stroke-width="0.722" stroke-linejoin="round">T</text>
<text transform="translate(610.27 49.56) scale(0.3270 0.1216)" font-size="10" fill="#10a020" stroke="#10a020" stroke-width="0.734" stroke-linejoin="round">S</text>
<text transform="translate(610.36 48.51) scale(0.2080 0.2544)" font-size="10" fill="#2828e0" stroke="#2828e0" stroke-width="1.154" stroke-linejoin="round">W</text>
<text transform="translate(612.55 50.04) scale(0.3864 0.0581)" font-size="10" fill="#2828e0" stroke="#2828e0" stroke-width="0.621" stroke-linejoin="round">F</text>
<text transform="translate(612.69 49.57) scale(0.2902 0.0935)" font-size="10" fill="#f0a020" stroke="#f0a020" stroke-width="0.827" stroke-linejoin="round">G</text>
<text transform="translate(612.77 48.65) scale(0.3326 0.6186)" font-size="10" fill="#10a020" stroke="#10a020" stroke-width="0.722" stroke-linejoin="round">T</text>
<text transform="translate(615.22 50.04) scale(0.3326 0.0461)" font-size="10" fill="#10a020" stroke="#10a020" stroke-width="0.722" stroke-linejoin="round">T</text>
<text transform="translate(615.05 49.66) scale(0.3085 0.1065)" font-size="10" fill="#f05070" stroke="#f05070" stroke-width="0.778" stroke-linejoin="round">R</text>
<text transform="translate(615.05 48.77) scale(0.3033 0.2820)" font-size="10" fill="#f05070" stroke="#f05070" stroke-width="0.791" stroke-linejoin="round">K</text>
<text transform="translate(617.44 50.04) scale(0.3864 0.0507)" font-size="10" fill="#2828e0" stroke="#2828e0" stroke-width="0.621" stroke-linejoin="round">F</text>
<text transform="translate(617.49 49.63) scale(0.3033 0.1279)" font-size="10" fill="#f05070" stroke="#f05070" stroke-width="0.791" stroke-linejoin="round">K</text>
<text transform="translate(617.58 48.33) scale(0.2902 0.6876)" font-size="10" fill="#f0a020" stroke="#f0a020" stroke-width="0.827" stroke-linejoin="round">G</text>
<text transform="translate(620.10 50.03) scale(0.3326 0.0794)" font-size="10" fill="#10a020" stroke="#10a020" stroke-width="0.722" stroke-linejoin="round">T</text>
<text transform="translate(619.95 49.40) scale(0.2803 0.1070)" font-size="10" fill="#2828e0" stroke="#2828e0" stroke-width="0.856" stroke-linejoin="round">M</text>
<text transform="translate(619.93 48.32) scale(0.3085 0.7482)" font-size="10" fill="#f05070" stroke="#f05070" stroke-width="0.778" stroke-linejoin="round">R</text>
<text transform="translate(622.56 50.04) scale(0.3000 0.0614)" font-size="10" fill="#2828e0" stroke="#2828e0" stroke-width="0.800" stroke-linejoin="round">V</text>
<text transform="translate(622.33 49.53) scale(0.3819 0.1626)" font-size="10" fill="#2828e0" stroke="#2828e0" stroke-width="0.628" stroke-linejoin="round">L</text>
<text transform="translate(622.36 48.20) scale(0.3332 0.4130)" font-size="10" fill="#ff70b0" stroke="#ff70b0" stroke-width="0.720" stroke-linejoin="round">H</text>
<text transform="translate(624.97 50.04) scale(0.3090 0.0555)" font-size="10" fill="#20c8c8" stroke="#20c8c8" stroke-width="0.777" stroke-linejoin="round">Y</text>
<text transform="translate(625.02 49.55) scale(0.2080 0.1346)" font-size="10" fill="#2828e0" stroke="#2828e0" stroke-width="1.154" stroke-linejoin="round">W</text>
<text transform="translate(624.81 48.38) scale(0.3196 0.3710)" font-size="10" fill="#f020f0" stroke="#f020f0" stroke-width="0.751" stroke-linejoin="round">D</text>
<text transform="translate(627.25 50.03) scale(0.3332 0.0768)" font-size="10" fill="#ff70b0" stroke="#ff70b0" stroke-width="0.720" stroke-linejoin="round">H</text>
<text transform="translate(627.21 49.43) scale(0.3819 0.1186)" font-size="10" fill="#2828e0" stroke="#2828e0" stroke-width="0.628" stroke-linejoin="round">L</text>
<text transform="translate(627.47 48.38) scale(0.2080 0.3344)" font-size="10" fill="#2828e0" stroke="#2828e0" stroke-width="1.154" stroke-linejoin="round">W</text>
<text transform="translate(629.68 50.04) scale(0.3461 0.0525)" font-size="10" fill="#f0e010" stroke="#f0e010" stroke-width="0.693" stroke-linejoin="round">P</text>
<text transform="translate(629.69 49.62) scale(0.3332 0.0954)" font-size="10" fill="#ff70b0" stroke="#ff70b0" stroke-width="0.720" stroke-linejoin="round">H</text>
<text transform="translate(629.89 48.82) scale(0.3000 0.2706)" font-size="10" fill="#2828e0" stroke="#2828e0" stroke-width="0.800" stroke-linejoin="round">V</text>
<text transform="translate(632.17 50.04) scale(0.2803 0.0575)" font-size="10" fill="#2828e0" stroke="#2828e0" stroke-width="0.856" stroke-linejoin="round">M</text>
<text transform="translate(632.26 49.56) scale(0.3270 0.0942)" font-size="10" fill="#10a020" stroke="#10a020" stroke-width="0.734" stroke-linejoin="round">S</text>
<text transform="translate(632.10 48.67) scale(0.3819 0.6317)" font-size="10" fill="#2828e0" stroke="#2828e0" stroke-width="0.628" stroke-linejoin="round">L</text>
<text transform="translate(634.70 50.02) scale(0.3270 0.0779)" font-size="10" fill="#10a020" stroke="#10a020" stroke-width="0.734" stroke-linejoin="round">S</text>
<text transform="translate(634.75 49.40) scale(0.3090 0.1090)" font-size="10" fill="#20c8c8" stroke="#20c8c8" stroke-width="0.777" stroke-linejoin="round">Y</text>
<text transform="translate(634.68 48.23) scale(0.2902 0.7288)" font-size="10" fill="#f0a020" stroke="#f0a020" stroke-width="0.827" stroke-linejoin="round">G</text>
<path d="M562.7 61.34V53.74" stroke="#999" stroke-width="0.35"/>
<path d="M564.72 62.24H637.00" stroke="#b8b8b8" stroke-width="0.6" stroke-dasharray="0.4 2.043"/>
<text x="559.5" y="58.44" font-family="'Liberation Sans', sans-serif" font-size="3.2" font-weight="bold" fill="#555" text-anchor="end">4.</text>
<path d="M561.9 61.34H562.7M561.9 59.44H562.7M561.9 57.54H562.7M561.9 55.64H562.7M561.9 53.74H562.7" stroke="#999" stroke-width="0.3"/>
<text transform="translate(563.92 61.32) scale(0.3000 0.0519)" font-size="10" fill="#2828e0" stroke="#2828e0" stroke-width="0.800" stroke-linejoin="round">V</text>
<text transform="translate(563.87 60.89) scale(0.2920 0.1032)" font-size="10" fill="#2828e0" stroke="#2828e0" stroke-width="0.822" stroke-linejoin="round">A</text>
<text transform="translate(563.87 59.87) scale(0.2920 0.6197)" font-size="10" fill="#2828e0" stroke="#2828e0" stroke-width="0.822" stroke-linejoin="round">A</text>
<text transform="translate(566.15 61.32) scale(0.3461 0.0532)" font-size="10" fill="#f0e010" stroke="#f0e010" stroke-width="0.693" stroke-linejoin="round">P</text>
<text transform="translate(566.26 60.87) scale(0.2995 0.1158)" font-size="10" fill="#2828e0" stroke="#2828e0" stroke-width="0.801" stroke-linejoin="round">C</text>
<text transform="translate(565.47 59.94) scale(1.3604 0.7544)" font-size="10" fill="#2828e0" stroke="#2828e0" stroke-width="0.176" stroke-linejoin="round">I</text>
<text transform="translate(568.61 61.33) scale(0.3196 0.0371)" font-size="10" fill="#f020f0" stroke="#f020f0" stroke-width="0.751" stroke-linejoin="round">D</text>
<text transform="translate(568.61 61.02) scale(0.3332 0.0999)" font-size="10" fill="#ff70b0" stroke="#ff70b0" stroke-width="0.720" stroke-linejoin="round">H</text>
<text transform="translate(567.92 60.27) scale(1.3604 0.1492)" font-size="10" fill="#2828e0" stroke="#2828e0" stroke-width="0.176" stroke-linejoin="round">I</text>
<text transform="translate(571.07 61.32) scale(0.3033 0.0457)" font-size="10" fill="#f05070" stroke="#f05070" stroke-width="0.791" stroke-linejoin="round">K</text>
<text transform="translate(571.01 60.95) scale(0.3864 0.1256)" font-size="10" fill="#2828e0" stroke="#2828e0" stroke-width="0.621" stroke-linejoin="round">F</text>
<text transform="translate(570.36 60.02) scale(1.3604 0.1848)" font-size="10" fill="#2828e0" stroke="#2828e0" stroke-width="0.176" stroke-linejoin="round">I</text>
<text transform="translate(573.59 61.32) scale(0.2995 0.0479)" font-size="10" fill="#2828e0" stroke="#2828e0" stroke-width="0.801" stroke-linejoin="round">C</text>
<text transform="translate(573.51 60.91) scale(0.3033 0.1100)" font-size="10" fill="#f05070" stroke="#f05070" stroke-width="0.791" stroke-linejoin="round">K</text>
<text transform="translate(573.71 59.94) scale(0.2080 0.2781)" font-size="10" fill="#2828e0" stroke="#2828e0" stroke-width="1.154" stroke-linejoin="round">W</text>
<text transform="translate(576.04 61.31) scale(0.2902 0.0657)" font-size="10" fill="#f0a020" stroke="#f0a020" stroke-width="0.827" stroke-linejoin="round">G</text>
<text transform="translate(576.04 60.65) scale(0.2819 0.0675)" font-size="10" fill="#10a020" stroke="#10a020" stroke-width="0.851" stroke-linejoin="round">Q</text>
<text transform="translate(576.04 59.84) scale(0.2902 0.5961)" font-size="10" fill="#f0a020" stroke="#f0a020" stroke-width="0.827" stroke-linejoin="round">G</text>
<text transform="translate(578.37 61.32) scale(0.3492 0.0440)" font-size="10" fill="#f020f0" stroke="#f020f0" stroke-width="0.687" stroke-linejoin="round">E</text>
<text transform="translate(578.39 60.96) scale(0.3196 0.1066)" font-size="10" fill="#f020f0" stroke="#f020f0" stroke-width="0.751" stroke-linejoin="round">D</text>
<text transform="translate(578.48 59.88) scale(0.2902 0.5788)" font-size="10" fill="#f0a020" stroke="#f0a020" stroke-width="0.827" stroke-linejoin="round">G</text>
<text transform="translate(580.92 61.28) scale(0.2995 0.1155)" font-size="10" fill="#2828e0" stroke="#2828e0" stroke-width="0.801" stroke-linejoin="round">C</text>
<text transform="translate(580.79 60.38) scale(0.3819 0.1217)" font-size="10" fill="#2828e0" stroke="#2828e0" stroke-width="0.628" stroke-linejoin="round">L</text>
<text transform="translate(583.30 61.32) scale(0.2803 0.0571)" font-size="10" fill="#2828e0" stroke="#2828e0" stroke-width="0.856" stroke-linejoin="round">M</text>
<text transform="translate(583.42 60.84) scale(0.2920 0.1146)" font-size="10" fill="#2828e0" stroke="#2828e0" stroke-width="0.822" stroke-linejoin="round">A</text>
<text transform="translate(583.49 59.82) scale(0.2080 0.3021)" font-size="10" fill="#2828e0" stroke="#2828e0" stroke-width="1.154" stroke-linejoin="round">W</text>
<text transform="translate(585.70 61.32) scale(0.3461 0.0568)" font-size="10" fill="#f0e010" stroke="#f0e010" stroke-width="0.693" stroke-linejoin="round">P</text>
<text transform="translate(585.84 60.86) scale(0.3270 0.0884)" font-size="10" fill="#10a020" stroke="#10a020" stroke-width="0.734" stroke-linejoin="round">S</text>
<text transform="translate(585.81 59.92) scale(0.2902 0.5653)" font-size="10" fill="#f0a020" stroke="#f0a020" stroke-width="0.827" stroke-linejoin="round">G</text>
<text transform="translate(588.28 61.32) scale(0.3270 0.0469)" font-size="10" fill="#10a020" stroke="#10a020" stroke-width="0.734" stroke-linejoin="round">S</text>
<text transform="translate(588.14 60.93) scale(0.3461 0.1024)" font-size="10" fill="#f0e010" stroke="#f0e010" stroke-width="0.693" stroke-linejoin="round">P</text>
<text transform="translate(588.15 59.97) scale(0.3332 0.6008)" font-size="10" fill="#10a020" stroke="#10a020" stroke-width="0.720" stroke-linejoin="round">N</text>
<text transform="translate(590.62 61.32) scale(0.3033 0.0584)" font-size="10" fill="#f05070" stroke="#f05070" stroke-width="0.791" stroke-linejoin="round">K</text>
<text transform="translate(590.60 60.85) scale(0.3196 0.0934)" font-size="10" fill="#f020f0" stroke="#f020f0" stroke-width="0.751" stroke-linejoin="round">D</text>
<text transform="translate(590.77 59.93) scale(0.3090 0.6061)" font-size="10" fill="#20c8c8" stroke="#20c8c8" stroke-width="0.777" stroke-linejoin="round">Y</text>
<text transform="translate(593.23 61.32) scale(0.3326 0.0557)" font-size="10" fill="#10a020" stroke="#10a020" stroke-width="0.722" stroke-linejoin="round">T</text>
<text transform="translate(593.06 60.87) scale(0.3033 0.0970)" font-size="10" fill="#f05070" stroke="#f05070" stroke-width="0.791" stroke-linejoin="round">K</text>
<text transform="translate(593.03 60.10) scale(0.3492 0.1547)" font-size="10" fill="#f020f0" stroke="#f020f0" stroke-width="0.687" stroke-linejoin="round">E</text>
<text transform="translate(595.48 61.30) scale(0.3332 0.1058)" font-size="10" fill="#10a020" stroke="#10a020" stroke-width="0.720" stroke-linejoin="round">N</text>
<text transform="translate(595.48 60.49) scale(0.3332 0.1058)" font-size="10" fill="#10a020" stroke="#10a020" stroke-width="0.720" stroke-linejoin="round">N</text>
<text transform="translate(597.95 61.32) scale(0.3033 0.0507)" font-size="10" fill="#f05070" stroke="#f05070" stroke-width="0.791" stroke-linejoin="round">K</text>
<text transform="translate(597.91 60.91) scale(0.3492 0.1109)" font-size="10" fill="#f020f0" stroke="#f020f0" stroke-width="0.687" stroke-linejoin="round">E</text>
<text transform="translate(597.89 60.05) scale(0.3819 0.1641)" font-size="10" fill="#2828e0" stroke="#2828e0" stroke-width="0.628" stroke-linejoin="round">L</text>
<text transform="translate(600.57 61.32) scale(0.3000 0.0503)" font-size="10" fill="#2828e0" stroke="#2828e0" stroke-width="0.800" stroke-linejoin="round">V</text>
<text transform="translate(600.56 60.91) scale(0.3326 0.1105)" font-size="10" fill="#10a020" stroke="#10a020" stroke-width="0.722" stroke-linejoin="round">T</text>
<text transform="translate(600.40 60.03) scale(0.2803 0.1578)" font-size="10" fill="#2828e0" stroke="#2828e0" stroke-width="0.856" stroke-linejoin="round">M</text>
<text transform="translate(602.81 61.32) scale(0.3332 0.0535)" font-size="10" fill="#10a020" stroke="#10a020" stroke-width="0.720" stroke-linejoin="round">N</text>
<text transform="translate(602.91 60.88) scale(0.2995 0.0951)" font-size="10" fill="#2828e0" stroke="#2828e0" stroke-width="0.801" stroke-linejoin="round">C</text>
<text transform="translate(603.00 59.95) scale(0.3326 0.6088)" font-size="10" fill="#10a020" stroke="#10a020" stroke-width="0.722" stroke-linejoin="round">T</text>
<text transform="translate(605.48 61.31) scale(0.2080 0.0598)" font-size="10" fill="#2828e0" stroke="#2828e0" stroke-width="1.154" stroke-linejoin="round">W</text>
<text transform="translate(605.36 60.78) scale(0.2902 0.1345)" font-size="10" fill="#f0a020" stroke="#f0a020" stroke-width="0.827" stroke-linejoin="round">G</text>
<text transform="translate(605.48 59.56) scale(0.2080 0.3532)" font-size="10" fill="#2828e0" stroke="#2828e0" stroke-width="1.154" stroke-linejoin="round">W</text>
<text transform="translate(607.66 61.32) scale(0.3864 0.0564)" font-size="10" fill="#2828e0" stroke="#2828e0" stroke-width="0.621" stroke-linejoin="round">F</text>
<text transform="translate(607.80 60.85) scale(0.2902 0.1219)" font-size="10" fill="#f0a020" stroke="#f0a020" stroke-width="0.827" stroke-linejoin="round">G</text>
<text transform="translate(607.70 59.67) scale(0.3332 0.7309)" font-size="10" fill="#10a020" stroke="#10a020" stroke-width="0.720" stroke-linejoin="round">N</text>
<text transform="translate(610.16 61.32) scale(0.3085 0.0440)" font-size="10" fill="#f05070" stroke="#f05070" stroke-width="0.778" stroke-linejoin="round">R</text>
<text transform="translate(610.13 60.96) scale(0.3492 0.1232)" font-size="10" fill="#f020f0" stroke="#f020f0" stroke-width="0.687" stroke-linejoin="round">E</text>
<text transform="translate(610.11 59.84) scale(0.3819 0.6779)" font-size="10" fill="#2828e0" stroke="#2828e0" stroke-width="0.628" stroke-linejoin="round">L</text>
<text transform="translate(612.62 61.32) scale(0.2803 0.0511)" font-size="10" fill="#2828e0" stroke="#2828e0" stroke-width="0.856" stroke-linejoin="round">M</text>
<text transform="translate(612.76 60.90) scale(0.3090 0.1014)" font-size="10" fill="#20c8c8" stroke="#20c8c8" stroke-width="0.777" stroke-linejoin="round">Y</text>
<text transform="translate(612.74 60.04) scale(0.2920 0.2824)" font-size="10" fill="#2828e0" stroke="#2828e0" stroke-width="0.822" stroke-linejoin="round">A</text>
<text transform="translate(615.13 61.31) scale(0.2902 0.0635)" font-size="10" fill="#f0a020" stroke="#f0a020" stroke-width="0.827" stroke-linejoin="round">G</text>
<text transform="translate(615.05 60.79) scale(0.3085 0.1026)" font-size="10" fill="#f05070" stroke="#f05070" stroke-width="0.778" stroke-linejoin="round">R</text>
<text transform="translate(615.03 59.79) scale(0.3332 0.6792)" font-size="10" fill="#10a020" stroke="#10a020" stroke-width="0.720" stroke-linejoin="round">N</text>
<text transform="translate(617.48 61.32) scale(0.3196 0.0506)" font-size="10" fill="#f020f0" stroke="#f020f0" stroke-width="0.751" stroke-linejoin="round">D</text>
<text transform="translate(617.46 60.91) scale(0.3492 0.1231)" font-size="10" fill="#f020f0" stroke="#f020f0" stroke-width="0.687" stroke-linejoin="round">E</text>
<text transform="translate(617.62 59.73) scale(0.2920 0.6820)" font-size="10" fill="#2828e0" stroke="#2828e0" stroke-width="0.822" stroke-linejoin="round">A</text>
<text transform="translate(620.12 61.32) scale(0.3000 0.0604)" font-size="10" fill="#2828e0" stroke="#2828e0" stroke-width="0.800" stroke-linejoin="round">V</text>
<text transform="translate(620.14 60.79) scale(0.2080 0.1332)" font-size="10" fill="#2828e0" stroke="#2828e0" stroke-width="1.154" stroke-linejoin="round">W</text>
<text transform="translate(619.94 59.62) scale(0.3033 0.3753)" font-size="10" fill="#f05070" stroke="#f05070" stroke-width="0.791" stroke-linejoin="round">K</text>
<text transform="translate(622.38 61.31) scale(0.3033 0.0703)" font-size="10" fill="#f05070" stroke="#f05070" stroke-width="0.791" stroke-linejoin="round">K</text>
<text transform="translate(622.38 60.75) scale(0.3033 0.1156)" font-size="10" fill="#f05070" stroke="#f05070" stroke-width="0.791" stroke-linejoin="round">K</text>
<text transform="translate(622.55 59.62) scale(0.3326 0.7522)" font-size="10" fill="#10a020" stroke="#10a020" stroke-width="0.722" stroke-linejoin="round">T</text>
<text transform="translate(624.90 61.32) scale(0.2995 0.0445)" font-size="10" fill="#2828e0" stroke="#2828e0" stroke-width="0.801" stroke-linejoin="round">C</text>
<text transform="translate(624.93 60.93) scale(0.3270 0.1182)" font-size="10" fill="#10a020" stroke="#10a020" stroke-width="0.734" stroke-linejoin="round">S</text>
<text transform="translate(624.77 59.84) scale(0.3864 0.6816)" font-size="10" fill="#2828e0" stroke="#2828e0" stroke-width="0.621" stroke-linejoin="round">F</text>
<text transform="translate(627.43 61.31) scale(0.3326 0.0699)" font-size="10" fill="#10a020" stroke="#10a020" stroke-width="0.722" stroke-linejoin="round">T</text>
<text transform="translate(627.25 60.76) scale(0.3332 0.1047)" font-size="10" fill="#10a020" stroke="#10a020" stroke-width="0.720" stroke-linejoin="round">N</text>
<text transform="translate(627.27 59.72) scale(0.3033 0.6905)" font-size="10" fill="#f05070" stroke="#f05070" stroke-width="0.791" stroke-linejoin="round">K</text>
<text transform="translate(629.71 61.32) scale(0.3085 0.0506)" font-size="10" fill="#f05070" stroke="#f05070" stroke-width="0.778" stroke-linejoin="round">R</text>
<text transform="translate(629.89 60.89) scale(0.3000 0.1429)" font-size="10" fill="#2828e0" stroke="#2828e0" stroke-width="0.800" stroke-linejoin="round">V</text>
<text transform="translate(629.79 59.45) scale(0.2902 0.7510)" font-size="10" fill="#f0a020" stroke="#f0a020" stroke-width="0.827" stroke-linejoin="round">G</text>
<text transform="translate(632.12 61.32) scale(0.3492 0.0633)" font-size="10" fill="#f020f0" stroke="#f020f0" stroke-width="0.687" stroke-linejoin="round">E</text>
<text transform="translate(632.10 60.82) scale(0.3864 0.1047)" font-size="10" fill="#2828e0" stroke="#2828e0" stroke-width="0.621" stroke-linejoin="round">F</text>
<text transform="translate(632.14 60.00) scale(0.3196 0.1652)" font-size="10" fill="#f020f0" stroke="#f020f0" stroke-width="0.751" stroke-linejoin="round">D</text>
<text transform="translate(634.56 61.32) scale(0.3492 0.0697)" font-size="10" fill="#f020f0" stroke="#f020f0" stroke-width="0.687" stroke-linejoin="round">E</text>
<text transform="translate(634.80 60.76) scale(0.2080 0.0854)" font-size="10" fill="#2828e0" stroke="#2828e0" stroke-width="1.154" stroke-linejoin="round">W</text>
<text transform="translate(634.80 59.76) scale(0.2080 0.5995)" font-size="10" fill="#2828e0" stroke="#2828e0" stroke-width="1.154" stroke-linejoin="round">W</text>
<path d="M562.7 72.62V65.02" stroke="#999" stroke-width="0.35"/>
<path d="M564.72 73.52H637.00" stroke="#b8b8b8" stroke-width="0.6" stroke-dasharray="0.4 2.043"/>
<text x="559.5" y="69.72" font-family="'Liberation Sans', sans-serif" font-size="3.2" font-weight="bold" fill="#555" text-anchor="end">5.</text>
<path d="M561.9 72.62H562.7M561.9 70.72H562.7M561.9 68.82H562.7M561.9 66.92H562.7M561.9 65.02H562.7" stroke="#999" stroke-width="0.3"/>
<text transform="translate(563.82 72.59) scale(0.2902 0.0556)" font-size="10" fill="#f0a020" stroke="#f0a020" stroke-width="0.827" stroke-linejoin="round">G</text>
<text transform="translate(563.72 72.13) scale(0.3332 0.1324)" font-size="10" fill="#ff70b0" stroke="#ff70b0" stroke-width="0.720" stroke-linejoin="round">H</text>
<text transform="translate(563.69 70.91) scale(0.3819 0.7728)" font-size="10" fill="#2828e0" stroke="#2828e0" stroke-width="0.628" stroke-linejoin="round">L</text>
<text transform="translate(566.13 72.61) scale(0.3864 0.0424)" font-size="10" fill="#2828e0" stroke="#2828e0" stroke-width="0.621" stroke-linejoin="round">F</text>
<text transform="translate(566.38 72.24) scale(0.2080 0.0965)" font-size="10" fill="#2828e0" stroke="#2828e0" stroke-width="1.154" stroke-linejoin="round">W</text>
<text transform="translate(566.15 71.45) scale(0.3461 0.1462)" font-size="10" fill="#f0e010" stroke="#f0e010" stroke-width="0.693" stroke-linejoin="round">P</text>
<text transform="translate(568.61 72.60) scale(0.3332 0.0544)" font-size="10" fill="#ff70b0" stroke="#ff70b0" stroke-width="0.720" stroke-linejoin="round">H</text>
<text transform="translate(568.81 72.15) scale(0.3000 0.1394)" font-size="10" fill="#2828e0" stroke="#2828e0" stroke-width="0.800" stroke-linejoin="round">V</text>
<text transform="translate(568.61 70.98) scale(0.3196 0.3614)" font-size="10" fill="#f020f0" stroke="#f020f0" stroke-width="0.751" stroke-linejoin="round">D</text>
<text transform="translate(571.07 72.60) scale(0.3033 0.0582)" font-size="10" fill="#f05070" stroke="#f05070" stroke-width="0.791" stroke-linejoin="round">K</text>
<text transform="translate(571.05 72.14) scale(0.3332 0.0833)" font-size="10" fill="#10a020" stroke="#10a020" stroke-width="0.720" stroke-linejoin="round">N</text>
<text transform="translate(571.27 71.45) scale(0.2080 0.1322)" font-size="10" fill="#2828e0" stroke="#2828e0" stroke-width="1.154" stroke-linejoin="round">W</text>
<text transform="translate(573.51 72.59) scale(0.3085 0.0838)" font-size="10" fill="#f05070" stroke="#f05070" stroke-width="0.778" stroke-linejoin="round">R</text>
<text transform="translate(573.60 71.77) scale(0.2819 0.0823)" font-size="10" fill="#10a020" stroke="#10a020" stroke-width="0.851" stroke-linejoin="round">Q</text>
<text transform="translate(573.66 70.86) scale(0.3090 0.7550)" font-size="10" fill="#20c8c8" stroke="#20c8c8" stroke-width="0.777" stroke-linejoin="round">Y</text>
<text transform="translate(576.16 72.58) scale(0.2080 0.0640)" font-size="10" fill="#2828e0" stroke="#2828e0" stroke-width="1.154" stroke-linejoin="round">W</text>
<text transform="translate(575.90 72.06) scale(0.3819 0.1107)" font-size="10" fill="#2828e0" stroke="#2828e0" stroke-width="0.628" stroke-linejoin="round">L</text>
<text transform="translate(575.93 71.19) scale(0.3461 0.1787)" font-size="10" fill="#f0e010" stroke="#f0e010" stroke-width="0.693" stroke-linejoin="round">P</text>
<text transform="translate(578.35 72.60) scale(0.3819 0.0480)" font-size="10" fill="#2828e0" stroke="#2828e0" stroke-width="0.628" stroke-linejoin="round">L</text>
<text transform="translate(578.51 72.21) scale(0.3270 0.1011)" font-size="10" fill="#10a020" stroke="#10a020" stroke-width="0.734" stroke-linejoin="round">S</text>
<text transform="translate(578.57 71.40) scale(0.3326 0.1512)" font-size="10" fill="#10a020" stroke="#10a020" stroke-width="0.722" stroke-linejoin="round">T</text>
<text transform="translate(580.97 72.58) scale(0.2920 0.0985)" font-size="10" fill="#2828e0" stroke="#2828e0" stroke-width="0.822" stroke-linejoin="round">A</text>
<text transform="translate(580.82 71.81) scale(0.3332 0.1001)" font-size="10" fill="#ff70b0" stroke="#ff70b0" stroke-width="0.720" stroke-linejoin="round">H</text>
<text transform="translate(582.58 72.62) scale(1.3604 0.0494)" font-size="10" fill="#2828e0" stroke="#2828e0" stroke-width="0.176" stroke-linejoin="round">I</text>
<text transform="translate(583.39 72.22) scale(0.3270 0.1036)" font-size="10" fill="#10a020" stroke="#10a020" stroke-width="0.734" stroke-linejoin="round">S</text>
<text transform="translate(583.23 71.26) scale(0.3864 0.6174)" font-size="10" fill="#2828e0" stroke="#2828e0" stroke-width="0.621" stroke-linejoin="round">F</text>
<text transform="translate(585.71 72.60) scale(0.3332 0.0520)" font-size="10" fill="#ff70b0" stroke="#ff70b0" stroke-width="0.720" stroke-linejoin="round">H</text>
<text transform="translate(585.71 72.18) scale(0.3332 0.1080)" font-size="10" fill="#ff70b0" stroke="#ff70b0" stroke-width="0.720" stroke-linejoin="round">H</text>
<text transform="translate(585.02 71.36) scale(1.3604 0.3233)" font-size="10" fill="#2828e0" stroke="#2828e0" stroke-width="0.176" stroke-linejoin="round">I</text>
<text transform="translate(588.34 72.59) scale(0.3326 0.0725)" font-size="10" fill="#10a020" stroke="#10a020" stroke-width="0.722" stroke-linejoin="round">T</text>
<text transform="translate(588.17 72.03) scale(0.3085 0.0904)" font-size="10" fill="#f05070" stroke="#f05070" stroke-width="0.778" stroke-linejoin="round">R</text>
<text transform="translate(588.15 71.30) scale(0.3332 0.1638)" font-size="10" fill="#ff70b0" stroke="#ff70b0" stroke-width="0.720" stroke-linejoin="round">H</text>
<text transform="translate(590.56 72.60) scale(0.3864 0.0608)" font-size="10" fill="#2828e0" stroke="#2828e0" stroke-width="0.621" stroke-linejoin="round">F</text>
<text transform="translate(590.56 72.13) scale(0.3864 0.0938)" font-size="10" fill="#2828e0" stroke="#2828e0" stroke-width="0.621" stroke-linejoin="round">F</text>
<text transform="translate(590.70 71.15) scale(0.2902 0.5834)" font-size="10" fill="#f0a020" stroke="#f0a020" stroke-width="0.827" stroke-linejoin="round">G</text>
<text transform="translate(593.14 72.60) scale(0.2995 0.0429)" font-size="10" fill="#2828e0" stroke="#2828e0" stroke-width="0.801" stroke-linejoin="round">C</text>
<text transform="translate(593.19 72.24) scale(0.2920 0.0910)" font-size="10" fill="#2828e0" stroke="#2828e0" stroke-width="0.822" stroke-linejoin="round">A</text>
<text transform="translate(593.05 71.52) scale(0.3196 0.1364)" font-size="10" fill="#f020f0" stroke="#f020f0" stroke-width="0.751" stroke-linejoin="round">D</text>
<text transform="translate(595.49 72.59) scale(0.3196 0.0703)" font-size="10" fill="#f020f0" stroke="#f020f0" stroke-width="0.751" stroke-linejoin="round">D</text>
<text transform="translate(595.61 72.03) scale(0.3270 0.1017)" font-size="10" fill="#10a020" stroke="#10a020" stroke-width="0.734" stroke-linejoin="round">S</text>
<text transform="translate(595.70 71.10) scale(0.2080 0.3026)" font-size="10" fill="#2828e0" stroke="#2828e0" stroke-width="1.154" stroke-linejoin="round">W</text>
<text transform="translate(597.96 72.60) scale(0.2803 0.0456)" font-size="10" fill="#2828e0" stroke="#2828e0" stroke-width="0.856" stroke-linejoin="round">M</text>
<text transform="translate(597.96 72.21) scale(0.2803 0.1271)" font-size="10" fill="#2828e0" stroke="#2828e0" stroke-width="0.856" stroke-linejoin="round">M</text>
<text transform="translate(598.10 70.99) scale(0.3090 0.6999)" font-size="10" fill="#20c8c8" stroke="#20c8c8" stroke-width="0.777" stroke-linejoin="round">Y</text>
<text transform="translate(600.33 72.60) scale(0.3864 0.0618)" font-size="10" fill="#2828e0" stroke="#2828e0" stroke-width="0.621" stroke-linejoin="round">F</text>
<text transform="translate(600.38 72.10) scale(0.3196 0.1341)" font-size="10" fill="#f020f0" stroke="#f020f0" stroke-width="0.751" stroke-linejoin="round">D</text>
<text transform="translate(600.36 70.85) scale(0.3492 0.7866)" font-size="10" fill="#f020f0" stroke="#f020f0" stroke-width="0.687" stroke-linejoin="round">E</text>
<text transform="translate(602.91 72.59) scale(0.2995 0.0619)" font-size="10" fill="#2828e0" stroke="#2828e0" stroke-width="0.801" stroke-linejoin="round">C</text>
<text transform="translate(602.82 72.08) scale(0.3196 0.1300)" font-size="10" fill="#f020f0" stroke="#f020f0" stroke-width="0.751" stroke-linejoin="round">D</text>
<text transform="translate(603.01 70.81) scale(0.3000 0.7695)" font-size="10" fill="#2828e0" stroke="#2828e0" stroke-width="0.800" stroke-linejoin="round">V</text>
<text transform="translate(605.26 72.59) scale(0.3332 0.0717)" font-size="10" fill="#ff70b0" stroke="#ff70b0" stroke-width="0.720" stroke-linejoin="round">H</text>
<text transform="translate(605.26 72.03) scale(0.3196 0.1158)" font-size="10" fill="#f020f0" stroke="#f020f0" stroke-width="0.751" stroke-linejoin="round">D</text>
<text transform="translate(605.26 70.90) scale(0.3332 0.7524)" font-size="10" fill="#10a020" stroke="#10a020" stroke-width="0.720" stroke-linejoin="round">N</text>
<text transform="translate(607.01 72.61) scale(1.3604 0.0770)" font-size="10" fill="#2828e0" stroke="#2828e0" stroke-width="0.176" stroke-linejoin="round">I</text>
<text transform="translate(607.83 72.02) scale(0.3270 0.1210)" font-size="10" fill="#10a020" stroke="#10a020" stroke-width="0.734" stroke-linejoin="round">S</text>
<text transform="translate(607.69 70.85) scale(0.3492 0.7845)" font-size="10" fill="#f020f0" stroke="#f020f0" stroke-width="0.687" stroke-linejoin="round">E</text>
<text transform="translate(610.25 72.39) scale(0.2819 0.0966)" font-size="10" fill="#10a020" stroke="#10a020" stroke-width="0.851" stroke-linejoin="round">Q</text>
<text transform="translate(610.24 71.60) scale(0.2995 0.1197)" font-size="10" fill="#2828e0" stroke="#2828e0" stroke-width="0.801" stroke-linejoin="round">C</text>
<text transform="translate(612.69 72.59) scale(0.2902 0.0590)" font-size="10" fill="#f0a020" stroke="#f0a020" stroke-width="0.827" stroke-linejoin="round">G</text>
<text transform="translate(612.58 72.12) scale(0.3461 0.0890)" font-size="10" fill="#f0e010" stroke="#f0e010" stroke-width="0.693" stroke-linejoin="round">P</text>
<text transform="translate(612.69 71.17) scale(0.2902 0.5760)" font-size="10" fill="#f0a020" stroke="#f0a020" stroke-width="0.827" stroke-linejoin="round">G</text>
<text transform="translate(615.23 72.60) scale(0.3000 0.0533)" font-size="10" fill="#2828e0" stroke="#2828e0" stroke-width="0.800" stroke-linejoin="round">V</text>
<text transform="translate(615.14 71.98) scale(0.2819 0.0934)" font-size="10" fill="#10a020" stroke="#10a020" stroke-width="0.851" stroke-linejoin="round">Q</text>
<text transform="translate(615.22 71.03) scale(0.3326 0.6967)" font-size="10" fill="#10a020" stroke="#10a020" stroke-width="0.722" stroke-linejoin="round">T</text>
<text transform="translate(617.62 72.60) scale(0.2920 0.0564)" font-size="10" fill="#2828e0" stroke="#2828e0" stroke-width="0.822" stroke-linejoin="round">A</text>
<text transform="translate(617.49 72.14) scale(0.3085 0.1045)" font-size="10" fill="#f05070" stroke="#f05070" stroke-width="0.778" stroke-linejoin="round">R</text>
<text transform="translate(617.49 71.25) scale(0.3033 0.2989)" font-size="10" fill="#f05070" stroke="#f05070" stroke-width="0.791" stroke-linejoin="round">K</text>
<text transform="translate(619.93 72.60) scale(0.3085 0.0531)" font-size="10" fill="#f05070" stroke="#f05070" stroke-width="0.778" stroke-linejoin="round">R</text>
<text transform="translate(620.02 72.15) scale(0.2902 0.1134)" font-size="10" fill="#f0a020" stroke="#f0a020" stroke-width="0.827" stroke-linejoin="round">G</text>
<text transform="translate(620.07 71.02) scale(0.2920 0.6764)" font-size="10" fill="#2828e0" stroke="#2828e0" stroke-width="0.822" stroke-linejoin="round">A</text>
<text transform="translate(622.38 72.59) scale(0.3033 0.0752)" font-size="10" fill="#f05070" stroke="#f05070" stroke-width="0.791" stroke-linejoin="round">K</text>
<text transform="translate(622.36 72.00) scale(0.3332 0.0958)" font-size="10" fill="#10a020" stroke="#10a020" stroke-width="0.720" stroke-linejoin="round">N</text>
<text transform="translate(622.51 71.02) scale(0.2920 0.6759)" font-size="10" fill="#2828e0" stroke="#2828e0" stroke-width="0.822" stroke-linejoin="round">A</text>
<text transform="translate(624.80 72.59) scale(0.3332 0.0701)" font-size="10" fill="#10a020" stroke="#10a020" stroke-width="0.720" stroke-linejoin="round">N</text>
<text transform="translate(624.97 72.03) scale(0.3090 0.1232)" font-size="10" fill="#20c8c8" stroke="#20c8c8" stroke-width="0.777" stroke-linejoin="round">Y</text>
<text transform="translate(624.95 70.81) scale(0.2920 0.7645)" font-size="10" fill="#2828e0" stroke="#2828e0" stroke-width="0.822" stroke-linejoin="round">A</text>
<text transform="translate(627.25 72.60) scale(0.3332 0.0458)" font-size="10" fill="#ff70b0" stroke="#ff70b0" stroke-width="0.720" stroke-linejoin="round">H</text>
<text transform="translate(627.27 72.22) scale(0.3033 0.1314)" font-size="10" fill="#f05070" stroke="#f05070" stroke-width="0.791" stroke-linejoin="round">K</text>
<text transform="translate(627.27 71.12) scale(0.3033 0.3280)" font-size="10" fill="#f05070" stroke="#f05070" stroke-width="0.791" stroke-linejoin="round">K</text>
<text transform="translate(629.71 72.59) scale(0.3085 0.0795)" font-size="10" fill="#f05070" stroke="#f05070" stroke-width="0.778" stroke-linejoin="round">R</text>
<text transform="translate(629.89 71.96) scale(0.3000 0.1089)" font-size="10" fill="#2828e0" stroke="#2828e0" stroke-width="0.800" stroke-linejoin="round">V</text>
<text transform="translate(629.88 70.88) scale(0.3326 0.7622)" font-size="10" fill="#10a020" stroke="#10a020" stroke-width="0.722" stroke-linejoin="round">T</text>
<text transform="translate(632.28 72.57) scale(0.2920 0.1122)" font-size="10" fill="#2828e0" stroke="#2828e0" stroke-width="0.822" stroke-linejoin="round">A</text>
<text transform="translate(632.13 71.70) scale(0.3332 0.1141)" font-size="10" fill="#ff70b0" stroke="#ff70b0" stroke-width="0.720" stroke-linejoin="round">H</text>
<text transform="translate(634.76 72.58) scale(0.3326 0.1120)" font-size="10" fill="#10a020" stroke="#10a020" stroke-width="0.722" stroke-linejoin="round">T</text>
<text transform="translate(634.57 71.72) scale(0.3461 0.1125)" font-size="10" fill="#f0e010" stroke="#f0e010" stroke-width="0.693" stroke-linejoin="round">P</text>
<path d="M562.7 83.90V76.30" stroke="#999" stroke-width="0.35"/>
<path d="M564.76 84.80H637.00" stroke="#b8b8b8" stroke-width="0.6" stroke-dasharray="0.4 2.128"/>
<text x="559.5" y="81.00" font-family="'Liberation Sans', sans-serif" font-size="3.2" font-weight="bold" fill="#555" text-anchor="end">6.</text>
<path d="M561.9 83.90H562.7M561.9 82.00H562.7M561.9 80.10H562.7M561.9 78.20H562.7M561.9 76.30H562.7" stroke="#999" stroke-width="0.3"/>
<text transform="translate(563.68 83.87) scale(0.4013 0.1141)" font-size="10" fill="#2828e0" stroke="#2828e0" stroke-width="0.598" stroke-linejoin="round">F</text>
<text transform="translate(563.87 83.00) scale(0.3033 0.1105)" font-size="10" fill="#2828e0" stroke="#2828e0" stroke-width="0.791" stroke-linejoin="round">A</text>
<text transform="translate(566.26 83.86) scale(0.3204 0.1064)" font-size="10" fill="#f05070" stroke="#f05070" stroke-width="0.749" stroke-linejoin="round">R</text>
<text transform="translate(566.35 83.03) scale(0.3015 0.1030)" font-size="10" fill="#f0a020" stroke="#f0a020" stroke-width="0.796" stroke-linejoin="round">G</text>
<text transform="translate(568.93 83.87) scale(0.3033 0.0753)" font-size="10" fill="#2828e0" stroke="#2828e0" stroke-width="0.791" stroke-linejoin="round">A</text>
<text transform="translate(568.76 83.28) scale(0.3595 0.0985)" font-size="10" fill="#f0e010" stroke="#f0e010" stroke-width="0.668" stroke-linejoin="round">P</text>
<text transform="translate(568.73 82.35) scale(0.4013 0.7091)" font-size="10" fill="#2828e0" stroke="#2828e0" stroke-width="0.598" stroke-linejoin="round">F</text>
<text transform="translate(571.40 83.87) scale(0.3111 0.0650)" font-size="10" fill="#2828e0" stroke="#2828e0" stroke-width="0.771" stroke-linejoin="round">C</text>
<text transform="translate(570.58 83.37) scale(1.4131 0.1255)" font-size="10" fill="#2828e0" stroke="#2828e0" stroke-width="0.170" stroke-linejoin="round">I</text>
<text transform="translate(571.45 82.37) scale(0.3033 0.3350)" font-size="10" fill="#2828e0" stroke="#2828e0" stroke-width="0.791" stroke-linejoin="round">A</text>
<text transform="translate(573.98 83.87) scale(0.3033 0.0655)" font-size="10" fill="#2828e0" stroke="#2828e0" stroke-width="0.791" stroke-linejoin="round">A</text>
<text transform="translate(573.11 83.38) scale(1.4131 0.1226)" font-size="10" fill="#2828e0" stroke="#2828e0" stroke-width="0.170" stroke-linejoin="round">I</text>
<text transform="translate(573.93 82.37) scale(0.3111 0.3212)" font-size="10" fill="#2828e0" stroke="#2828e0" stroke-width="0.771" stroke-linejoin="round">C</text>
<text transform="translate(576.35 83.88) scale(0.3461 0.0597)" font-size="10" fill="#ff70b0" stroke="#ff70b0" stroke-width="0.694" stroke-linejoin="round">H</text>
<text transform="translate(576.46 83.40) scale(0.3015 0.0965)" font-size="10" fill="#f0a020" stroke="#f0a020" stroke-width="0.796" stroke-linejoin="round">G</text>
<text transform="translate(576.53 82.44) scale(0.3210 0.6355)" font-size="10" fill="#20c8c8" stroke="#20c8c8" stroke-width="0.748" stroke-linejoin="round">Y</text>
<text transform="translate(578.87 83.88) scale(0.3627 0.0710)" font-size="10" fill="#f020f0" stroke="#f020f0" stroke-width="0.662" stroke-linejoin="round">E</text>
<text transform="translate(579.06 83.32) scale(0.3210 0.0941)" font-size="10" fill="#20c8c8" stroke="#20c8c8" stroke-width="0.748" stroke-linejoin="round">Y</text>
<text transform="translate(578.90 82.39) scale(0.3204 0.6562)" font-size="10" fill="#f05070" stroke="#f05070" stroke-width="0.749" stroke-linejoin="round">R</text>
<text transform="translate(581.43 83.88) scale(0.3150 0.0450)" font-size="10" fill="#f05070" stroke="#f05070" stroke-width="0.762" stroke-linejoin="round">K</text>
<text transform="translate(581.42 83.51) scale(0.3204 0.1030)" font-size="10" fill="#f05070" stroke="#f05070" stroke-width="0.749" stroke-linejoin="round">R</text>
<text transform="translate(581.37 82.58) scale(0.4013 0.6067)" font-size="10" fill="#2828e0" stroke="#2828e0" stroke-width="0.598" stroke-linejoin="round">F</text>
<text transform="translate(584.07 83.88) scale(0.3397 0.0530)" font-size="10" fill="#10a020" stroke="#10a020" stroke-width="0.706" stroke-linejoin="round">S</text>
<text transform="translate(583.22 83.47) scale(1.4131 0.1702)" font-size="10" fill="#2828e0" stroke="#2828e0" stroke-width="0.170" stroke-linejoin="round">I</text>
<text transform="translate(584.16 82.08) scale(0.2160 0.3660)" font-size="10" fill="#2828e0" stroke="#2828e0" stroke-width="1.111" stroke-linejoin="round">W</text>
<text transform="translate(586.50 83.87) scale(0.2911 0.0837)" font-size="10" fill="#2828e0" stroke="#2828e0" stroke-width="0.824" stroke-linejoin="round">M</text>
<text transform="translate(586.46 83.21) scale(0.3461 0.1071)" font-size="10" fill="#10a020" stroke="#10a020" stroke-width="0.694" stroke-linejoin="round">N</text>
<text transform="translate(586.60 82.27) scale(0.3397 0.3479)" font-size="10" fill="#10a020" stroke="#10a020" stroke-width="0.706" stroke-linejoin="round">S</text>
<text transform="translate(589.10 83.77) scale(0.2928 0.0561)" font-size="10" fill="#10a020" stroke="#10a020" stroke-width="0.820" stroke-linejoin="round">Q</text>
<text transform="translate(589.00 83.31) scale(0.3319 0.0920)" font-size="10" fill="#f020f0" stroke="#f020f0" stroke-width="0.723" stroke-linejoin="round">D</text>
<text transform="translate(588.95 82.44) scale(0.4013 0.6686)" font-size="10" fill="#2828e0" stroke="#2828e0" stroke-width="0.598" stroke-linejoin="round">F</text>
<text transform="translate(591.53 83.88) scale(0.3319 0.0633)" font-size="10" fill="#f020f0" stroke="#f020f0" stroke-width="0.723" stroke-linejoin="round">D</text>
<text transform="translate(591.67 83.38) scale(0.3033 0.0834)" font-size="10" fill="#2828e0" stroke="#2828e0" stroke-width="0.791" stroke-linejoin="round">A</text>
<text transform="translate(591.67 82.71) scale(0.3033 0.1460)" font-size="10" fill="#2828e0" stroke="#2828e0" stroke-width="0.791" stroke-linejoin="round">A</text>
<text transform="translate(594.18 83.85) scale(0.3397 0.1094)" font-size="10" fill="#10a020" stroke="#10a020" stroke-width="0.706" stroke-linejoin="round">S</text>
<text transform="translate(594.15 82.99) scale(0.3111 0.1083)" font-size="10" fill="#2828e0" stroke="#2828e0" stroke-width="0.771" stroke-linejoin="round">C</text>
<text transform="translate(596.61 83.86) scale(0.2911 0.1004)" font-size="10" fill="#2828e0" stroke="#2828e0" stroke-width="0.824" stroke-linejoin="round">M</text>
<text transform="translate(596.77 83.08) scale(0.3455 0.1026)" font-size="10" fill="#10a020" stroke="#10a020" stroke-width="0.695" stroke-linejoin="round">T</text>
<text transform="translate(599.14 83.85) scale(0.2911 0.1126)" font-size="10" fill="#2828e0" stroke="#2828e0" stroke-width="0.824" stroke-linejoin="round">M</text>
<text transform="translate(599.23 82.97) scale(0.3397 0.1119)" font-size="10" fill="#10a020" stroke="#10a020" stroke-width="0.706" stroke-linejoin="round">S</text>
<text transform="translate(601.73 83.87) scale(0.3111 0.0546)" font-size="10" fill="#2828e0" stroke="#2828e0" stroke-width="0.771" stroke-linejoin="round">C</text>
<text transform="translate(601.62 83.41) scale(0.3595 0.1566)" font-size="10" fill="#f0e010" stroke="#f0e010" stroke-width="0.668" stroke-linejoin="round">P</text>
<text transform="translate(601.67 82.11) scale(0.2911 0.3864)" font-size="10" fill="#2828e0" stroke="#2828e0" stroke-width="0.824" stroke-linejoin="round">M</text>
<text transform="translate(604.15 83.86) scale(0.3595 0.1244)" font-size="10" fill="#f0e010" stroke="#f0e010" stroke-width="0.668" stroke-linejoin="round">P</text>
<text transform="translate(604.33 82.91) scale(0.3210 0.1228)" font-size="10" fill="#20c8c8" stroke="#20c8c8" stroke-width="0.748" stroke-linejoin="round">Y</text>
<text transform="translate(606.80 83.79) scale(0.2928 0.0467)" font-size="10" fill="#10a020" stroke="#10a020" stroke-width="0.820" stroke-linejoin="round">Q</text>
<text transform="translate(606.67 83.41) scale(0.3627 0.0940)" font-size="10" fill="#f020f0" stroke="#f020f0" stroke-width="0.662" stroke-linejoin="round">E</text>
<text transform="translate(606.84 82.61) scale(0.3033 0.2808)" font-size="10" fill="#2828e0" stroke="#2828e0" stroke-width="0.791" stroke-linejoin="round">A</text>
<text transform="translate(609.20 83.88) scale(0.3595 0.0543)" font-size="10" fill="#f0e010" stroke="#f0e010" stroke-width="0.668" stroke-linejoin="round">P</text>
<text transform="translate(609.32 83.44) scale(0.3015 0.0835)" font-size="10" fill="#f0a020" stroke="#f0a020" stroke-width="0.796" stroke-linejoin="round">G</text>
<text transform="translate(609.42 82.77) scale(0.3116 0.1394)" font-size="10" fill="#2828e0" stroke="#2828e0" stroke-width="0.770" stroke-linejoin="round">V</text>
<text transform="translate(611.95 83.88) scale(0.3116 0.0473)" font-size="10" fill="#2828e0" stroke="#2828e0" stroke-width="0.770" stroke-linejoin="round">V</text>
<text transform="translate(611.74 83.49) scale(0.3461 0.1213)" font-size="10" fill="#10a020" stroke="#10a020" stroke-width="0.694" stroke-linejoin="round">N</text>
<text transform="translate(611.73 82.55) scale(0.3595 0.1699)" font-size="10" fill="#f0e010" stroke="#f0e010" stroke-width="0.668" stroke-linejoin="round">P</text>
<text transform="translate(614.38 83.76) scale(0.2928 0.0585)" font-size="10" fill="#10a020" stroke="#10a020" stroke-width="0.820" stroke-linejoin="round">Q</text>
<text transform="translate(614.28 83.28) scale(0.3204 0.1231)" font-size="10" fill="#f05070" stroke="#f05070" stroke-width="0.749" stroke-linejoin="round">R</text>
<text transform="translate(614.23 82.13) scale(0.3967 0.8094)" font-size="10" fill="#2828e0" stroke="#2828e0" stroke-width="0.605" stroke-linejoin="round">L</text>
<text transform="translate(616.93 83.88) scale(0.3397 0.0473)" font-size="10" fill="#10a020" stroke="#10a020" stroke-width="0.706" stroke-linejoin="round">S</text>
<text transform="translate(616.79 83.49) scale(0.3461 0.1167)" font-size="10" fill="#10a020" stroke="#10a020" stroke-width="0.694" stroke-linejoin="round">N</text>
<text transform="translate(616.80 82.53) scale(0.3319 0.3055)" font-size="10" fill="#f020f0" stroke="#f020f0" stroke-width="0.723" stroke-linejoin="round">D</text>
<text transform="translate(619.50 83.88) scale(0.3210 0.0668)" font-size="10" fill="#20c8c8" stroke="#20c8c8" stroke-width="0.748" stroke-linejoin="round">Y</text>
<text transform="translate(619.31 83.35) scale(0.3595 0.0949)" font-size="10" fill="#f0e010" stroke="#f0e010" stroke-width="0.668" stroke-linejoin="round">P</text>
<text transform="translate(619.48 82.41) scale(0.3033 0.6373)" font-size="10" fill="#2828e0" stroke="#2828e0" stroke-width="0.791" stroke-linejoin="round">A</text>
<text transform="translate(621.96 83.86) scale(0.3015 0.0851)" font-size="10" fill="#f0a020" stroke="#f0a020" stroke-width="0.796" stroke-linejoin="round">G</text>
<text transform="translate(622.01 83.18) scale(0.3033 0.1105)" font-size="10" fill="#2828e0" stroke="#2828e0" stroke-width="0.791" stroke-linejoin="round">A</text>
<text transform="translate(621.96 81.98) scale(0.3015 0.7711)" font-size="10" fill="#f0a020" stroke="#f0a020" stroke-width="0.796" stroke-linejoin="round">G</text>
<text transform="translate(624.37 83.87) scale(0.3627 0.0840)" font-size="10" fill="#f020f0" stroke="#f020f0" stroke-width="0.662" stroke-linejoin="round">E</text>
<text transform="translate(624.41 83.22) scale(0.2911 0.1078)" font-size="10" fill="#2828e0" stroke="#2828e0" stroke-width="0.824" stroke-linejoin="round">M</text>
<text transform="translate(624.34 82.18) scale(0.3967 0.7859)" font-size="10" fill="#2828e0" stroke="#2828e0" stroke-width="0.605" stroke-linejoin="round">L</text>
<text transform="translate(627.01 83.88) scale(0.3111 0.0449)" font-size="10" fill="#2828e0" stroke="#2828e0" stroke-width="0.771" stroke-linejoin="round">C</text>
<text transform="translate(627.08 83.50) scale(0.3210 0.1182)" font-size="10" fill="#20c8c8" stroke="#20c8c8" stroke-width="0.748" stroke-linejoin="round">Y</text>
<text transform="translate(627.06 82.51) scale(0.3033 0.3032)" font-size="10" fill="#2828e0" stroke="#2828e0" stroke-width="0.791" stroke-linejoin="round">A</text>
<text transform="translate(629.47 83.88) scale(0.2911 0.0601)" font-size="10" fill="#2828e0" stroke="#2828e0" stroke-width="0.824" stroke-linejoin="round">M</text>
<text transform="translate(629.43 83.39) scale(0.3461 0.1107)" font-size="10" fill="#10a020" stroke="#10a020" stroke-width="0.694" stroke-linejoin="round">N</text>
<text transform="translate(629.45 82.52) scale(0.3204 0.1706)" font-size="10" fill="#f05070" stroke="#f05070" stroke-width="0.749" stroke-linejoin="round">R</text>
<text transform="translate(631.95 83.87) scale(0.3595 0.0986)" font-size="10" fill="#f0e010" stroke="#f0e010" stroke-width="0.668" stroke-linejoin="round">P</text>
<text transform="translate(631.96 83.11) scale(0.3461 0.0982)" font-size="10" fill="#ff70b0" stroke="#ff70b0" stroke-width="0.694" stroke-linejoin="round">H</text>
<text transform="translate(634.52 83.88) scale(0.2911 0.0501)" font-size="10" fill="#2828e0" stroke="#2828e0" stroke-width="0.824" stroke-linejoin="round">M</text>
<text transform="translate(634.72 83.44) scale(0.2160 0.1310)" font-size="10" fill="#2828e0" stroke="#2828e0" stroke-width="1.111" stroke-linejoin="round">W</text>
<text transform="translate(634.45 82.20) scale(0.4013 0.7784)" font-size="10" fill="#2828e0" stroke="#2828e0" stroke-width="0.598" stroke-linejoin="round">F</text>
<path d="M562.7 95.18V87.58" stroke="#999" stroke-width="0.35"/>
<path d="M564.61 96.08H637.00" stroke="#b8b8b8" stroke-width="0.6" stroke-dasharray="0.4 1.821"/>
<text x="559.5" y="92.28" font-family="'Liberation Sans', sans-serif" font-size="3.2" font-weight="bold" fill="#555" text-anchor="end">7.</text>
<path d="M561.9 95.18H562.7M561.9 93.28H562.7M561.9 91.38H562.7M561.9 89.48H562.7M561.9 87.58H562.7" stroke="#999" stroke-width="0.3"/>
<text transform="translate(563.73 95.16) scale(0.2992 0.0581)" font-size="10" fill="#ff70b0" stroke="#ff70b0" stroke-width="0.802" stroke-linejoin="round">H</text>
<text transform="translate(563.11 94.72) scale(1.2216 0.1136)" font-size="10" fill="#2828e0" stroke="#2828e0" stroke-width="0.196" stroke-linejoin="round">I</text>
<text transform="translate(563.88 93.65) scale(0.2775 0.6389)" font-size="10" fill="#20c8c8" stroke="#20c8c8" stroke-width="0.865" stroke-linejoin="round">Y</text>
<text transform="translate(565.92 95.17) scale(0.3470 0.0412)" font-size="10" fill="#2828e0" stroke="#2828e0" stroke-width="0.692" stroke-linejoin="round">F</text>
<text transform="translate(566.15 94.80) scale(0.1867 0.1043)" font-size="10" fill="#2828e0" stroke="#2828e0" stroke-width="1.285" stroke-linejoin="round">W</text>
<text transform="translate(565.92 93.93) scale(0.3470 0.1565)" font-size="10" fill="#2828e0" stroke="#2828e0" stroke-width="0.692" stroke-linejoin="round">F</text>
<text transform="translate(568.14 95.15) scale(0.3429 0.0867)" font-size="10" fill="#2828e0" stroke="#2828e0" stroke-width="0.700" stroke-linejoin="round">L</text>
<text transform="translate(568.17 94.47) scale(0.2992 0.1142)" font-size="10" fill="#ff70b0" stroke="#ff70b0" stroke-width="0.802" stroke-linejoin="round">H</text>
<text transform="translate(568.31 93.27) scale(0.2622 0.7830)" font-size="10" fill="#2828e0" stroke="#2828e0" stroke-width="0.915" stroke-linejoin="round">A</text>
<text transform="translate(570.49 95.08) scale(0.2531 0.0424)" font-size="10" fill="#10a020" stroke="#10a020" stroke-width="0.948" stroke-linejoin="round">Q</text>
<text transform="translate(570.56 94.71) scale(0.2987 0.1070)" font-size="10" fill="#10a020" stroke="#10a020" stroke-width="0.804" stroke-linejoin="round">T</text>
<text transform="translate(570.59 93.74) scale(0.1867 0.2763)" font-size="10" fill="#2828e0" stroke="#2828e0" stroke-width="1.285" stroke-linejoin="round">W</text>
<text transform="translate(572.80 95.15) scale(0.2694 0.0615)" font-size="10" fill="#2828e0" stroke="#2828e0" stroke-width="0.891" stroke-linejoin="round">V</text>
<text transform="translate(572.62 94.65) scale(0.2992 0.0991)" font-size="10" fill="#ff70b0" stroke="#ff70b0" stroke-width="0.802" stroke-linejoin="round">H</text>
<text transform="translate(572.77 93.85) scale(0.2775 0.1598)" font-size="10" fill="#20c8c8" stroke="#20c8c8" stroke-width="0.865" stroke-linejoin="round">Y</text>
<text transform="translate(574.93 95.15) scale(0.2690 0.0533)" font-size="10" fill="#2828e0" stroke="#2828e0" stroke-width="0.892" stroke-linejoin="round">C</text>
<text transform="translate(574.83 94.70) scale(0.3136 0.1155)" font-size="10" fill="#f020f0" stroke="#f020f0" stroke-width="0.765" stroke-linejoin="round">E</text>
<text transform="translate(574.97 93.55) scale(0.2622 0.6682)" font-size="10" fill="#2828e0" stroke="#2828e0" stroke-width="0.915" stroke-linejoin="round">A</text>
<text transform="translate(577.08 95.15) scale(0.2723 0.0592)" font-size="10" fill="#f05070" stroke="#f05070" stroke-width="0.881" stroke-linejoin="round">K</text>
<text transform="translate(577.07 94.68) scale(0.2870 0.0858)" font-size="10" fill="#f020f0" stroke="#f020f0" stroke-width="0.836" stroke-linejoin="round">D</text>
<text transform="translate(577.05 93.98) scale(0.3136 0.1471)" font-size="10" fill="#f020f0" stroke="#f020f0" stroke-width="0.765" stroke-linejoin="round">E</text>
<text transform="translate(578.66 95.17) scale(1.2216 0.1159)" font-size="10" fill="#2828e0" stroke="#2828e0" stroke-width="0.196" stroke-linejoin="round">I</text>
<text transform="translate(579.27 94.32) scale(0.3108 0.1059)" font-size="10" fill="#f0e010" stroke="#f0e010" stroke-width="0.772" stroke-linejoin="round">P</text>
<text transform="translate(581.49 95.16) scale(0.3136 0.0601)" font-size="10" fill="#f020f0" stroke="#f020f0" stroke-width="0.765" stroke-linejoin="round">E</text>
<text transform="translate(581.62 94.65) scale(0.2937 0.1271)" font-size="10" fill="#10a020" stroke="#10a020" stroke-width="0.817" stroke-linejoin="round">S</text>
<text transform="translate(581.64 93.35) scale(0.2622 0.7476)" font-size="10" fill="#2828e0" stroke="#2828e0" stroke-width="0.915" stroke-linejoin="round">A</text>
<text transform="translate(583.72 95.16) scale(0.2992 0.0515)" font-size="10" fill="#10a020" stroke="#10a020" stroke-width="0.802" stroke-linejoin="round">N</text>
<text transform="translate(583.71 94.73) scale(0.3108 0.1360)" font-size="10" fill="#f0e010" stroke="#f0e010" stroke-width="0.772" stroke-linejoin="round">P</text>
<text transform="translate(583.87 93.41) scale(0.2775 0.7396)" font-size="10" fill="#20c8c8" stroke="#20c8c8" stroke-width="0.865" stroke-linejoin="round">Y</text>
<text transform="translate(585.93 95.16) scale(0.3136 0.0646)" font-size="10" fill="#f020f0" stroke="#f020f0" stroke-width="0.765" stroke-linejoin="round">E</text>
<text transform="translate(585.91 94.64) scale(0.3429 0.1156)" font-size="10" fill="#2828e0" stroke="#2828e0" stroke-width="0.700" stroke-linejoin="round">L</text>
<text transform="translate(585.95 93.50) scale(0.2870 0.7075)" font-size="10" fill="#f020f0" stroke="#f020f0" stroke-width="0.836" stroke-linejoin="round">D</text>
<text transform="translate(588.16 95.16) scale(0.3108 0.0636)" font-size="10" fill="#f0e010" stroke="#f0e010" stroke-width="0.772" stroke-linejoin="round">P</text>
<text transform="translate(588.16 94.64) scale(0.2992 0.1278)" font-size="10" fill="#ff70b0" stroke="#ff70b0" stroke-width="0.802" stroke-linejoin="round">H</text>
<text transform="translate(588.13 93.42) scale(0.3470 0.7779)" font-size="10" fill="#2828e0" stroke="#2828e0" stroke-width="0.692" stroke-linejoin="round">F</text>
<text transform="translate(590.40 95.13) scale(0.2770 0.1049)" font-size="10" fill="#f05070" stroke="#f05070" stroke-width="0.866" stroke-linejoin="round">R</text>
<text transform="translate(590.52 94.31) scale(0.2622 0.1041)" font-size="10" fill="#2828e0" stroke="#2828e0" stroke-width="0.915" stroke-linejoin="round">A</text>
<text transform="translate(592.64 95.12) scale(0.2517 0.1183)" font-size="10" fill="#2828e0" stroke="#2828e0" stroke-width="0.954" stroke-linejoin="round">M</text>
<text transform="translate(592.61 94.19) scale(0.2870 0.1206)" font-size="10" fill="#f020f0" stroke="#f020f0" stroke-width="0.836" stroke-linejoin="round">D</text>
<text transform="translate(594.84 95.13) scale(0.2870 0.1245)" font-size="10" fill="#f020f0" stroke="#f020f0" stroke-width="0.836" stroke-linejoin="round">D</text>
<text transform="translate(594.94 94.14) scale(0.2937 0.1218)" font-size="10" fill="#10a020" stroke="#10a020" stroke-width="0.817" stroke-linejoin="round">S</text>
<text transform="translate(597.06 95.15) scale(0.2870 0.0630)" font-size="10" fill="#f020f0" stroke="#f020f0" stroke-width="0.836" stroke-linejoin="round">D</text>
<text transform="translate(597.20 94.64) scale(0.2775 0.1089)" font-size="10" fill="#20c8c8" stroke="#20c8c8" stroke-width="0.865" stroke-linejoin="round">Y</text>
<text transform="translate(597.05 93.76) scale(0.2992 0.1734)" font-size="10" fill="#10a020" stroke="#10a020" stroke-width="0.802" stroke-linejoin="round">N</text>
<text transform="translate(599.36 95.15) scale(0.2690 0.0510)" font-size="10" fill="#2828e0" stroke="#2828e0" stroke-width="0.892" stroke-linejoin="round">C</text>
<text transform="translate(599.30 94.73) scale(0.2517 0.0844)" font-size="10" fill="#2828e0" stroke="#2828e0" stroke-width="0.954" stroke-linejoin="round">M</text>
<text transform="translate(598.65 94.08) scale(1.2216 0.1535)" font-size="10" fill="#2828e0" stroke="#2828e0" stroke-width="0.196" stroke-linejoin="round">I</text>
<text transform="translate(601.51 95.16) scale(0.2723 0.0562)" font-size="10" fill="#f05070" stroke="#f05070" stroke-width="0.881" stroke-linejoin="round">K</text>
<text transform="translate(601.49 94.70) scale(0.2992 0.1002)" font-size="10" fill="#ff70b0" stroke="#ff70b0" stroke-width="0.802" stroke-linejoin="round">H</text>
<text transform="translate(601.58 93.62) scale(0.2606 0.6015)" font-size="10" fill="#f0a020" stroke="#f0a020" stroke-width="0.921" stroke-linejoin="round">G</text>
<text transform="translate(603.71 95.16) scale(0.2992 0.0486)" font-size="10" fill="#ff70b0" stroke="#ff70b0" stroke-width="0.802" stroke-linejoin="round">H</text>
<text transform="translate(603.71 94.76) scale(0.2992 0.1134)" font-size="10" fill="#ff70b0" stroke="#ff70b0" stroke-width="0.802" stroke-linejoin="round">H</text>
<text transform="translate(603.87 93.64) scale(0.2775 0.6416)" font-size="10" fill="#20c8c8" stroke="#20c8c8" stroke-width="0.865" stroke-linejoin="round">Y</text>
<text transform="translate(606.12 95.15) scale(0.2694 0.0596)" font-size="10" fill="#2828e0" stroke="#2828e0" stroke-width="0.891" stroke-linejoin="round">V</text>
<text transform="translate(606.03 94.50) scale(0.2531 0.0847)" font-size="10" fill="#10a020" stroke="#10a020" stroke-width="0.948" stroke-linejoin="round">Q</text>
<text transform="translate(606.09 93.79) scale(0.2775 0.1676)" font-size="10" fill="#20c8c8" stroke="#20c8c8" stroke-width="0.865" stroke-linejoin="round">Y</text>
<text transform="translate(608.31 95.15) scale(0.2775 0.0671)" font-size="10" fill="#20c8c8" stroke="#20c8c8" stroke-width="0.865" stroke-linejoin="round">Y</text>
<text transform="translate(608.25 94.47) scale(0.2531 0.0753)" font-size="10" fill="#10a020" stroke="#10a020" stroke-width="0.948" stroke-linejoin="round">Q</text>
<text transform="translate(608.27 93.57) scale(0.2937 0.6406)" font-size="10" fill="#10a020" stroke="#10a020" stroke-width="0.817" stroke-linejoin="round">S</text>
<text transform="translate(610.47 95.08) scale(0.2531 0.0420)" font-size="10" fill="#10a020" stroke="#10a020" stroke-width="0.948" stroke-linejoin="round">Q</text>
<text transform="translate(610.49 94.70) scale(0.2937 0.1255)" font-size="10" fill="#10a020" stroke="#10a020" stroke-width="0.817" stroke-linejoin="round">S</text>
<text transform="translate(610.57 93.55) scale(0.1867 0.3128)" font-size="10" fill="#2828e0" stroke="#2828e0" stroke-width="1.285" stroke-linejoin="round">W</text>
<text transform="translate(612.57 95.16) scale(0.3429 0.0541)" font-size="10" fill="#2828e0" stroke="#2828e0" stroke-width="0.700" stroke-linejoin="round">L</text>
<text transform="translate(612.73 94.70) scale(0.2622 0.1442)" font-size="10" fill="#2828e0" stroke="#2828e0" stroke-width="0.915" stroke-linejoin="round">A</text>
<text transform="translate(612.73 93.26) scale(0.2622 0.7857)" font-size="10" fill="#2828e0" stroke="#2828e0" stroke-width="0.915" stroke-linejoin="round">A</text>
<text transform="translate(614.79 95.16) scale(0.3470 0.0677)" font-size="10" fill="#2828e0" stroke="#2828e0" stroke-width="0.692" stroke-linejoin="round">F</text>
<text transform="translate(614.79 94.63) scale(0.3429 0.0893)" font-size="10" fill="#2828e0" stroke="#2828e0" stroke-width="0.700" stroke-linejoin="round">L</text>
<text transform="translate(614.83 93.71) scale(0.2770 0.6104)" font-size="10" fill="#f05070" stroke="#f05070" stroke-width="0.866" stroke-linejoin="round">R</text>
<text transform="translate(617.13 95.16) scale(0.2690 0.0428)" font-size="10" fill="#2828e0" stroke="#2828e0" stroke-width="0.892" stroke-linejoin="round">C</text>
<text transform="translate(617.04 94.80) scale(0.2992 0.0938)" font-size="10" fill="#ff70b0" stroke="#ff70b0" stroke-width="0.802" stroke-linejoin="round">H</text>
<text transform="translate(617.13 94.03) scale(0.2690 0.1330)" font-size="10" fill="#2828e0" stroke="#2828e0" stroke-width="0.892" stroke-linejoin="round">C</text>
<text transform="translate(619.36 95.03) scale(0.2531 0.0627)" font-size="10" fill="#10a020" stroke="#10a020" stroke-width="0.948" stroke-linejoin="round">Q</text>
<text transform="translate(619.35 94.49) scale(0.2690 0.1187)" font-size="10" fill="#2828e0" stroke="#2828e0" stroke-width="0.892" stroke-linejoin="round">C</text>
<text transform="translate(619.40 93.42) scale(0.2622 0.3720)" font-size="10" fill="#2828e0" stroke="#2828e0" stroke-width="0.915" stroke-linejoin="round">A</text>
<text transform="translate(621.45 95.16) scale(0.3429 0.0501)" font-size="10" fill="#2828e0" stroke="#2828e0" stroke-width="0.700" stroke-linejoin="round">L</text>
<text transform="translate(621.45 94.76) scale(0.3470 0.1161)" font-size="10" fill="#2828e0" stroke="#2828e0" stroke-width="0.692" stroke-linejoin="round">F</text>
<text transform="translate(621.51 93.60) scale(0.2517 0.6369)" font-size="10" fill="#2828e0" stroke="#2828e0" stroke-width="0.954" stroke-linejoin="round">M</text>
<text transform="translate(623.80 95.07) scale(0.2531 0.0454)" font-size="10" fill="#10a020" stroke="#10a020" stroke-width="0.948" stroke-linejoin="round">Q</text>
<text transform="translate(623.72 94.69) scale(0.2770 0.0903)" font-size="10" fill="#f05070" stroke="#f05070" stroke-width="0.866" stroke-linejoin="round">R</text>
<text transform="translate(623.84 93.75) scale(0.2622 0.5874)" font-size="10" fill="#2828e0" stroke="#2828e0" stroke-width="0.915" stroke-linejoin="round">A</text>
<text transform="translate(625.90 95.16) scale(0.3429 0.0632)" font-size="10" fill="#2828e0" stroke="#2828e0" stroke-width="0.700" stroke-linejoin="round">L</text>
<text transform="translate(625.92 94.66) scale(0.3108 0.0865)" font-size="10" fill="#f0e010" stroke="#f0e010" stroke-width="0.772" stroke-linejoin="round">P</text>
<text transform="translate(625.96 93.75) scale(0.2517 0.5780)" font-size="10" fill="#2828e0" stroke="#2828e0" stroke-width="0.954" stroke-linejoin="round">M</text>
<text transform="translate(628.15 95.16) scale(0.2992 0.0547)" font-size="10" fill="#10a020" stroke="#10a020" stroke-width="0.802" stroke-linejoin="round">N</text>
<text transform="translate(628.24 94.68) scale(0.2606 0.1382)" font-size="10" fill="#f0a020" stroke="#f0a020" stroke-width="0.921" stroke-linejoin="round">G</text>
<text transform="translate(628.16 93.29) scale(0.2770 0.7882)" font-size="10" fill="#f05070" stroke="#f05070" stroke-width="0.866" stroke-linejoin="round">R</text>
<text transform="translate(630.48 95.16) scale(0.2937 0.0456)" font-size="10" fill="#10a020" stroke="#10a020" stroke-width="0.817" stroke-linejoin="round">S</text>
<text transform="translate(630.53 94.76) scale(0.2987 0.1318)" font-size="10" fill="#10a020" stroke="#10a020" stroke-width="0.804" stroke-linejoin="round">T</text>
<text transform="translate(630.57 93.59) scale(0.1867 0.3055)" font-size="10" fill="#2828e0" stroke="#2828e0" stroke-width="1.285" stroke-linejoin="round">W</text>
<text transform="translate(632.56 95.16) scale(0.3429 0.0691)" font-size="10" fill="#2828e0" stroke="#2828e0" stroke-width="0.700" stroke-linejoin="round">L</text>
<text transform="translate(632.56 94.61) scale(0.3429 0.1136)" font-size="10" fill="#2828e0" stroke="#2828e0" stroke-width="0.700" stroke-linejoin="round">L</text>
<text transform="translate(631.97 93.76) scale(1.2216 0.1975)" font-size="10" fill="#2828e0" stroke="#2828e0" stroke-width="0.196" stroke-linejoin="round">I</text>
<text transform="translate(634.81 95.16) scale(0.2992 0.0546)" font-size="10" fill="#10a020" stroke="#10a020" stroke-width="0.802" stroke-linejoin="round">N</text>
<text transform="translate(634.78 94.72) scale(0.3429 0.0924)" font-size="10" fill="#2828e0" stroke="#2828e0" stroke-width="0.700" stroke-linejoin="round">L</text>
<text transform="translate(634.98 93.81) scale(0.2987 0.5818)" font-size="10" fill="#10a020" stroke="#10a020" stroke-width="0.804" stroke-linejoin="round">T</text>
<path d="M562.7 106.46V98.86" stroke="#999" stroke-width="0.35"/>
<path d="M564.74 107.36H690.00" stroke="#b8b8b8" stroke-width="0.6" stroke-dasharray="0.4 2.076"/>
<text x="559.5" y="103.56" font-family="'Liberation Sans', sans-serif" font-size="3.2" font-weight="bold" fill="#555" text-anchor="end">8.</text>
<path d="M561.9 106.46H562.7M561.9 104.56H562.7M561.9 102.66H562.7M561.9 100.76H562.7M561.9 98.86H562.7" stroke="#999" stroke-width="0.3"/>
<text transform="translate(563.91 106.43) scale(0.3377 0.0782)" font-size="10" fill="#10a020" stroke="#10a020" stroke-width="0.711" stroke-linejoin="round">T</text>
<text transform="translate(563.68 105.58) scale(0.3923 0.9135)" font-size="10" fill="#2828e0" stroke="#2828e0" stroke-width="0.612" stroke-linejoin="round">F</text>
<text transform="translate(566.16 106.44) scale(0.3923 0.0732)" font-size="10" fill="#2828e0" stroke="#2828e0" stroke-width="0.612" stroke-linejoin="round">F</text>
<text transform="translate(566.23 105.57) scale(0.2845 0.8105)" font-size="10" fill="#2828e0" stroke="#2828e0" stroke-width="0.844" stroke-linejoin="round">M</text>
<text transform="translate(568.63 106.44) scale(0.3923 0.0784)" font-size="10" fill="#2828e0" stroke="#2828e0" stroke-width="0.612" stroke-linejoin="round">F</text>
<text transform="translate(568.67 105.55) scale(0.3382 0.8879)" font-size="10" fill="#10a020" stroke="#10a020" stroke-width="0.710" stroke-linejoin="round">N</text>
<text transform="translate(571.25 106.42) scale(0.2946 0.0733)" font-size="10" fill="#f0a020" stroke="#f0a020" stroke-width="0.815" stroke-linejoin="round">G</text>
<text transform="translate(571.18 105.51) scale(0.2845 0.8598)" font-size="10" fill="#2828e0" stroke="#2828e0" stroke-width="0.844" stroke-linejoin="round">M</text>
<text transform="translate(573.78 106.43) scale(0.2964 0.0786)" font-size="10" fill="#2828e0" stroke="#2828e0" stroke-width="0.810" stroke-linejoin="round">A</text>
<text transform="translate(572.92 105.76) scale(1.3811 0.9984)" font-size="10" fill="#2828e0" stroke="#2828e0" stroke-width="0.174" stroke-linejoin="round">I</text>
<text transform="translate(576.12 106.43) scale(0.3132 0.0730)" font-size="10" fill="#f05070" stroke="#f05070" stroke-width="0.766" stroke-linejoin="round">R</text>
<text transform="translate(576.21 105.48) scale(0.2946 0.8122)" font-size="10" fill="#f0a020" stroke="#f0a020" stroke-width="0.815" stroke-linejoin="round">G</text>
<text transform="translate(578.58 106.43) scale(0.3382 0.0749)" font-size="10" fill="#10a020" stroke="#10a020" stroke-width="0.710" stroke-linejoin="round">N</text>
<text transform="translate(578.68 105.48) scale(0.3041 0.8294)" font-size="10" fill="#2828e0" stroke="#2828e0" stroke-width="0.789" stroke-linejoin="round">C</text>
<text transform="translate(581.15 106.42) scale(0.3041 0.0771)" font-size="10" fill="#2828e0" stroke="#2828e0" stroke-width="0.789" stroke-linejoin="round">C</text>
<text transform="translate(581.05 105.52) scale(0.3382 0.9215)" font-size="10" fill="#10a020" stroke="#10a020" stroke-width="0.710" stroke-linejoin="round">N</text>
<text transform="translate(582.83 106.45) scale(1.3811 0.0827)" font-size="10" fill="#2828e0" stroke="#2828e0" stroke-width="0.174" stroke-linejoin="round">I</text>
<text transform="translate(583.49 105.60) scale(0.3923 0.8884)" font-size="10" fill="#2828e0" stroke="#2828e0" stroke-width="0.612" stroke-linejoin="round">F</text>
<text transform="translate(586.11 106.33) scale(0.2862 0.0560)" font-size="10" fill="#10a020" stroke="#10a020" stroke-width="0.839" stroke-linejoin="round">Q</text>
<text transform="translate(585.99 105.63) scale(0.3545 0.8332)" font-size="10" fill="#f020f0" stroke="#f020f0" stroke-width="0.677" stroke-linejoin="round">E</text>
<text transform="translate(588.58 106.42) scale(0.3041 0.0765)" font-size="10" fill="#2828e0" stroke="#2828e0" stroke-width="0.789" stroke-linejoin="round">C</text>
<text transform="translate(587.78 105.76) scale(1.3811 0.9937)" font-size="10" fill="#2828e0" stroke="#2828e0" stroke-width="0.174" stroke-linejoin="round">I</text>
<text transform="translate(590.95 106.43) scale(0.3545 0.0774)" font-size="10" fill="#f020f0" stroke="#f020f0" stroke-width="0.677" stroke-linejoin="round">E</text>
<text transform="translate(591.11 105.52) scale(0.2964 0.8710)" font-size="10" fill="#2828e0" stroke="#2828e0" stroke-width="0.810" stroke-linejoin="round">A</text>
<text transform="translate(593.46 106.43) scale(0.3079 0.0749)" font-size="10" fill="#f05070" stroke="#f05070" stroke-width="0.780" stroke-linejoin="round">K</text>
<text transform="translate(593.61 105.55) scale(0.3137 0.8629)" font-size="10" fill="#20c8c8" stroke="#20c8c8" stroke-width="0.765" stroke-linejoin="round">Y</text>
<text transform="translate(596.04 106.43) scale(0.3320 0.0720)" font-size="10" fill="#10a020" stroke="#10a020" stroke-width="0.723" stroke-linejoin="round">S</text>
<text transform="translate(595.90 105.60) scale(0.3514 0.8549)" font-size="10" fill="#f0e010" stroke="#f0e010" stroke-width="0.683" stroke-linejoin="round">P</text>
<text transform="translate(598.42 106.42) scale(0.2845 0.0836)" font-size="10" fill="#2828e0" stroke="#2828e0" stroke-width="0.844" stroke-linejoin="round">M</text>
<text transform="translate(598.39 105.53) scale(0.3382 0.7688)" font-size="10" fill="#ffb8c8" stroke="#ffb8c8" stroke-width="0.710" stroke-linejoin="round">H</text>
<text transform="translate(600.97 106.42) scale(0.3041 0.0738)" font-size="10" fill="#2828e0" stroke="#2828e0" stroke-width="0.789" stroke-linejoin="round">C</text>
<text transform="translate(600.99 105.56) scale(0.3320 0.6711)" font-size="10" fill="#ffb8c8" stroke="#ffb8c8" stroke-width="0.723" stroke-linejoin="round">S</text>
<text transform="translate(603.45 106.42) scale(0.2946 0.0740)" font-size="10" fill="#f0a020" stroke="#f0a020" stroke-width="0.815" stroke-linejoin="round">G</text>
<text transform="translate(603.38 105.50) scale(0.2845 0.8684)" font-size="10" fill="#2828e0" stroke="#2828e0" stroke-width="0.844" stroke-linejoin="round">M</text>
<text transform="translate(605.12 106.45) scale(1.3811 0.0692)" font-size="10" fill="#2828e0" stroke="#2828e0" stroke-width="0.174" stroke-linejoin="round">I</text>
<text transform="translate(605.78 105.92) scale(0.3923 0.1597)" font-size="10" fill="#2828e0" stroke="#2828e0" stroke-width="0.612" stroke-linejoin="round">F</text>
<text transform="translate(605.97 104.60) scale(0.2964 0.4037)" font-size="10" fill="#2828e0" stroke="#2828e0" stroke-width="0.810" stroke-linejoin="round">A</text>
<text transform="translate(608.40 106.31) scale(0.2862 0.0607)" font-size="10" fill="#10a020" stroke="#10a020" stroke-width="0.839" stroke-linejoin="round">Q</text>
<text transform="translate(608.26 105.58) scale(0.3923 0.9131)" font-size="10" fill="#2828e0" stroke="#2828e0" stroke-width="0.612" stroke-linejoin="round">F</text>
<text transform="translate(610.79 106.44) scale(0.3079 0.0473)" font-size="10" fill="#f05070" stroke="#f05070" stroke-width="0.780" stroke-linejoin="round">K</text>
<text transform="translate(610.92 106.06) scale(0.2964 0.0915)" font-size="10" fill="#2828e0" stroke="#2828e0" stroke-width="0.810" stroke-linejoin="round">A</text>
<text transform="translate(610.81 105.32) scale(0.2845 0.1378)" font-size="10" fill="#2828e0" stroke="#2828e0" stroke-width="0.844" stroke-linejoin="round">M</text>
<text transform="translate(613.38 106.42) scale(0.3320 0.0774)" font-size="10" fill="#10a020" stroke="#10a020" stroke-width="0.723" stroke-linejoin="round">S</text>
<text transform="translate(613.27 105.57) scale(0.3079 0.7080)" font-size="10" fill="#ffb8c8" stroke="#ffb8c8" stroke-width="0.780" stroke-linejoin="round">K</text>
<text transform="translate(615.74 106.43) scale(0.3132 0.0766)" font-size="10" fill="#f05070" stroke="#f05070" stroke-width="0.766" stroke-linejoin="round">R</text>
<text transform="translate(615.74 105.52) scale(0.3079 0.8791)" font-size="10" fill="#f05070" stroke="#f05070" stroke-width="0.780" stroke-linejoin="round">K</text>
<text transform="translate(618.37 106.43) scale(0.3137 0.0752)" font-size="10" fill="#20c8c8" stroke="#20c8c8" stroke-width="0.765" stroke-linejoin="round">Y</text>
<text transform="translate(618.19 105.58) scale(0.3514 0.8761)" font-size="10" fill="#f0e010" stroke="#f0e010" stroke-width="0.683" stroke-linejoin="round">P</text>
<text transform="translate(620.87 106.43) scale(0.3377 0.0877)" font-size="10" fill="#10a020" stroke="#10a020" stroke-width="0.711" stroke-linejoin="round">T</text>
<text transform="translate(620.68 105.51) scale(0.3382 0.7893)" font-size="10" fill="#ffb8c8" stroke="#ffb8c8" stroke-width="0.710" stroke-linejoin="round">H</text>
<text transform="translate(623.12 106.44) scale(0.3877 0.0784)" font-size="10" fill="#2828e0" stroke="#2828e0" stroke-width="0.619" stroke-linejoin="round">L</text>
<text transform="translate(623.12 105.59) scale(0.3877 0.9012)" font-size="10" fill="#2828e0" stroke="#2828e0" stroke-width="0.619" stroke-linejoin="round">L</text>
<text transform="translate(625.59 106.44) scale(0.3923 0.0746)" font-size="10" fill="#2828e0" stroke="#2828e0" stroke-width="0.612" stroke-linejoin="round">F</text>
<text transform="translate(625.65 105.57) scale(0.3079 0.8355)" font-size="10" fill="#f05070" stroke="#f05070" stroke-width="0.780" stroke-linejoin="round">K</text>
<text transform="translate(628.31 106.43) scale(0.3046 0.0792)" font-size="10" fill="#2828e0" stroke="#2828e0" stroke-width="0.788" stroke-linejoin="round">V</text>
<text transform="translate(628.28 105.49) scale(0.3137 0.9144)" font-size="10" fill="#20c8c8" stroke="#20c8c8" stroke-width="0.765" stroke-linejoin="round">Y</text>
<text transform="translate(630.58 106.43) scale(0.3382 0.0728)" font-size="10" fill="#10a020" stroke="#10a020" stroke-width="0.710" stroke-linejoin="round">N</text>
<text transform="translate(630.55 105.64) scale(0.3877 0.8495)" font-size="10" fill="#2828e0" stroke="#2828e0" stroke-width="0.619" stroke-linejoin="round">L</text>
<text transform="translate(633.08 106.43) scale(0.3079 0.0748)" font-size="10" fill="#f05070" stroke="#f05070" stroke-width="0.780" stroke-linejoin="round">K</text>
<text transform="translate(633.09 105.52) scale(0.2845 0.8512)" font-size="10" fill="#2828e0" stroke="#2828e0" stroke-width="0.844" stroke-linejoin="round">M</text>
<text transform="translate(635.55 106.43) scale(0.3132 0.0779)" font-size="10" fill="#f05070" stroke="#f05070" stroke-width="0.766" stroke-linejoin="round">R</text>
<text transform="translate(634.84 105.77) scale(1.3811 0.9831)" font-size="10" fill="#2828e0" stroke="#2828e0" stroke-width="0.174" stroke-linejoin="round">I</text>
<text transform="translate(638.20 106.43) scale(0.3377 0.0743)" font-size="10" fill="#10a020" stroke="#10a020" stroke-width="0.711" stroke-linejoin="round">T</text>
<text transform="translate(638.20 105.59) scale(0.3377 0.8545)" font-size="10" fill="#10a020" stroke="#10a020" stroke-width="0.711" stroke-linejoin="round">T</text>
<text transform="translate(640.52 106.43) scale(0.2845 0.0717)" font-size="10" fill="#2828e0" stroke="#2828e0" stroke-width="0.844" stroke-linejoin="round">M</text>
<text transform="translate(640.48 105.61) scale(0.3514 0.8460)" font-size="10" fill="#f0e010" stroke="#f0e010" stroke-width="0.683" stroke-linejoin="round">P</text>
<text transform="translate(643.07 106.43) scale(0.3041 0.0704)" font-size="10" fill="#2828e0" stroke="#2828e0" stroke-width="0.789" stroke-linejoin="round">C</text>
<text transform="translate(643.09 105.52) scale(0.3320 0.8181)" font-size="10" fill="#10a020" stroke="#10a020" stroke-width="0.723" stroke-linejoin="round">S</text>
<text transform="translate(644.74 106.45) scale(1.3811 0.0819)" font-size="10" fill="#2828e0" stroke="#2828e0" stroke-width="0.174" stroke-linejoin="round">I</text>
<text transform="translate(645.40 105.61) scale(0.3923 0.8808)" font-size="10" fill="#2828e0" stroke="#2828e0" stroke-width="0.612" stroke-linejoin="round">F</text>
<text transform="translate(648.09 106.42) scale(0.3137 0.0942)" font-size="10" fill="#20c8c8" stroke="#20c8c8" stroke-width="0.765" stroke-linejoin="round">Y</text>
<text transform="translate(647.93 105.42) scale(0.3244 0.8511)" font-size="10" fill="#ffb8c8" stroke="#ffb8c8" stroke-width="0.740" stroke-linejoin="round">D</text>
<text transform="translate(650.43 106.43) scale(0.2845 0.0726)" font-size="10" fill="#2828e0" stroke="#2828e0" stroke-width="0.844" stroke-linejoin="round">M</text>
<text transform="translate(650.52 105.51) scale(0.3320 0.8306)" font-size="10" fill="#10a020" stroke="#10a020" stroke-width="0.723" stroke-linejoin="round">S</text>
<text transform="translate(653.08 106.43) scale(0.3046 0.0758)" font-size="10" fill="#2828e0" stroke="#2828e0" stroke-width="0.788" stroke-linejoin="round">V</text>
<text transform="translate(652.84 105.59) scale(0.3877 0.8956)" font-size="10" fill="#2828e0" stroke="#2828e0" stroke-width="0.619" stroke-linejoin="round">L</text>
<text transform="translate(655.37 106.43) scale(0.3079 0.0774)" font-size="10" fill="#f05070" stroke="#f05070" stroke-width="0.780" stroke-linejoin="round">K</text>
<text transform="translate(655.36 105.59) scale(0.3132 0.6985)" font-size="10" fill="#ffb8c8" stroke="#ffb8c8" stroke-width="0.766" stroke-linejoin="round">R</text>
<text transform="translate(657.81 106.43) scale(0.3545 0.0945)" font-size="10" fill="#f020f0" stroke="#f020f0" stroke-width="0.677" stroke-linejoin="round">E</text>
<text transform="translate(657.82 105.44) scale(0.3382 0.8464)" font-size="10" fill="#ffb8c8" stroke="#ffb8c8" stroke-width="0.710" stroke-linejoin="round">H</text>
<text transform="translate(660.31 106.43) scale(0.3244 0.0752)" font-size="10" fill="#f020f0" stroke="#f020f0" stroke-width="0.740" stroke-linejoin="round">D</text>
<text transform="translate(660.49 105.57) scale(0.3377 0.8691)" font-size="10" fill="#10a020" stroke="#10a020" stroke-width="0.711" stroke-linejoin="round">T</text>
<text transform="translate(662.97 106.43) scale(0.3377 0.0750)" font-size="10" fill="#10a020" stroke="#10a020" stroke-width="0.711" stroke-linejoin="round">T</text>
<text transform="translate(662.78 105.58) scale(0.3382 0.8631)" font-size="10" fill="#10a020" stroke="#10a020" stroke-width="0.710" stroke-linejoin="round">N</text>
<text transform="translate(665.27 106.43) scale(0.3132 0.0753)" font-size="10" fill="#f05070" stroke="#f05070" stroke-width="0.766" stroke-linejoin="round">R</text>
<text transform="translate(665.22 105.61) scale(0.3923 0.8881)" font-size="10" fill="#2828e0" stroke="#2828e0" stroke-width="0.612" stroke-linejoin="round">F</text>
<text transform="translate(667.73 106.43) scale(0.3382 0.0736)" font-size="10" fill="#10a020" stroke="#10a020" stroke-width="0.710" stroke-linejoin="round">N</text>
<text transform="translate(667.75 105.57) scale(0.3132 0.8385)" font-size="10" fill="#f05070" stroke="#f05070" stroke-width="0.766" stroke-linejoin="round">R</text>
<text transform="translate(670.20 106.43) scale(0.3514 0.0738)" font-size="10" fill="#f0e010" stroke="#f0e010" stroke-width="0.683" stroke-linejoin="round">P</text>
<text transform="translate(670.39 105.60) scale(0.3377 0.8447)" font-size="10" fill="#10a020" stroke="#10a020" stroke-width="0.711" stroke-linejoin="round">T</text>
<text transform="translate(672.67 106.43) scale(0.3514 0.0802)" font-size="10" fill="#f0e010" stroke="#f0e010" stroke-width="0.683" stroke-linejoin="round">P</text>
<text transform="translate(672.68 105.52) scale(0.3382 0.9178)" font-size="10" fill="#10a020" stroke="#10a020" stroke-width="0.710" stroke-linejoin="round">N</text>
<text transform="translate(675.18 106.43) scale(0.3079 0.0737)" font-size="10" fill="#f05070" stroke="#f05070" stroke-width="0.780" stroke-linejoin="round">K</text>
<text transform="translate(675.33 105.56) scale(0.3137 0.8501)" font-size="10" fill="#20c8c8" stroke="#20c8c8" stroke-width="0.765" stroke-linejoin="round">Y</text>
<text transform="translate(677.74 106.42) scale(0.3041 0.0710)" font-size="10" fill="#2828e0" stroke="#2828e0" stroke-width="0.789" stroke-linejoin="round">C</text>
<text transform="translate(677.77 105.51) scale(0.3320 0.8251)" font-size="10" fill="#10a020" stroke="#10a020" stroke-width="0.723" stroke-linejoin="round">S</text>
<text transform="translate(680.15 106.43) scale(0.2845 0.0781)" font-size="10" fill="#2828e0" stroke="#2828e0" stroke-width="0.844" stroke-linejoin="round">M</text>
<text transform="translate(680.08 105.56) scale(0.3877 0.9315)" font-size="10" fill="#2828e0" stroke="#2828e0" stroke-width="0.619" stroke-linejoin="round">L</text>
<text transform="translate(682.79 106.43) scale(0.3046 0.0761)" font-size="10" fill="#2828e0" stroke="#2828e0" stroke-width="0.788" stroke-linejoin="round">V</text>
<text transform="translate(682.55 105.59) scale(0.3923 0.9001)" font-size="10" fill="#2828e0" stroke="#2828e0" stroke-width="0.612" stroke-linejoin="round">F</text>
<text transform="translate(685.03 106.44) scale(0.3923 0.0755)" font-size="10" fill="#2828e0" stroke="#2828e0" stroke-width="0.612" stroke-linejoin="round">F</text>
<text transform="translate(685.10 105.54) scale(0.2845 0.8360)" font-size="10" fill="#2828e0" stroke="#2828e0" stroke-width="0.844" stroke-linejoin="round">M</text>
<text transform="translate(687.65 106.32) scale(0.2862 0.0586)" font-size="10" fill="#10a020" stroke="#10a020" stroke-width="0.839" stroke-linejoin="round">Q</text>
<text transform="translate(687.53 105.58) scale(0.3514 0.8713)" font-size="10" fill="#f0e010" stroke="#f0e010" stroke-width="0.683" stroke-linejoin="round">P</text>
<path d="M562.7 117.74V110.14" stroke="#999" stroke-width="0.35"/>
<path d="M564.84 118.64H690.00" stroke="#b8b8b8" stroke-width="0.6" stroke-dasharray="0.4 2.287"/>
<text x="559.5" y="114.84" font-family="'Liberation Sans', sans-serif" font-size="3.2" font-weight="bold" fill="#555" text-anchor="end">9.</text>
<path d="M561.9 117.74H562.7M561.9 115.84H562.7M561.9 113.94H562.7M561.9 112.04H562.7M561.9 110.14H562.7" stroke="#999" stroke-width="0.3"/>
<text transform="translate(563.72 117.71) scale(0.3554 0.0806)" font-size="10" fill="#f020f0" stroke="#f020f0" stroke-width="0.675" stroke-linejoin="round">D</text>
<text transform="translate(563.87 116.79) scale(0.3247 0.9171)" font-size="10" fill="#2828e0" stroke="#2828e0" stroke-width="0.739" stroke-linejoin="round">A</text>
<text transform="translate(566.39 117.72) scale(0.3705 0.0769)" font-size="10" fill="#ff70b0" stroke="#ff70b0" stroke-width="0.648" stroke-linejoin="round">H</text>
<text transform="translate(566.36 116.90) scale(0.4247 0.8955)" font-size="10" fill="#2828e0" stroke="#2828e0" stroke-width="0.565" stroke-linejoin="round">L</text>
<text transform="translate(569.29 117.71) scale(0.3699 0.0789)" font-size="10" fill="#10a020" stroke="#10a020" stroke-width="0.649" stroke-linejoin="round">T</text>
<text transform="translate(569.04 116.88) scale(0.4247 0.9193)" font-size="10" fill="#2828e0" stroke="#2828e0" stroke-width="0.565" stroke-linejoin="round">L</text>
<text transform="translate(571.93 117.70) scale(0.3247 0.1070)" font-size="10" fill="#2828e0" stroke="#2828e0" stroke-width="0.739" stroke-linejoin="round">A</text>
<text transform="translate(571.76 116.88) scale(0.3883 0.1091)" font-size="10" fill="#f020f0" stroke="#f020f0" stroke-width="0.618" stroke-linejoin="round">E</text>
<text transform="translate(574.47 117.71) scale(0.3554 0.0803)" font-size="10" fill="#f020f0" stroke="#f020f0" stroke-width="0.675" stroke-linejoin="round">D</text>
<text transform="translate(574.46 116.83) scale(0.3705 0.9271)" font-size="10" fill="#ff70b0" stroke="#ff70b0" stroke-width="0.648" stroke-linejoin="round">H</text>
<text transform="translate(577.29 117.71) scale(0.3637 0.0742)" font-size="10" fill="#10a020" stroke="#10a020" stroke-width="0.660" stroke-linejoin="round">S</text>
<text transform="translate(577.26 116.76) scale(0.3227 0.8426)" font-size="10" fill="#f0a020" stroke="#f0a020" stroke-width="0.744" stroke-linejoin="round">G</text>
<text transform="translate(579.79 117.72) scale(0.4247 0.0776)" font-size="10" fill="#2828e0" stroke="#2828e0" stroke-width="0.565" stroke-linejoin="round">L</text>
<text transform="translate(579.82 116.88) scale(0.3849 0.8840)" font-size="10" fill="#f0e010" stroke="#f0e010" stroke-width="0.624" stroke-linejoin="round">P</text>
<text transform="translate(582.63 117.71) scale(0.3331 0.0745)" font-size="10" fill="#2828e0" stroke="#2828e0" stroke-width="0.720" stroke-linejoin="round">C</text>
<text transform="translate(582.74 116.84) scale(0.3336 0.8785)" font-size="10" fill="#2828e0" stroke="#2828e0" stroke-width="0.719" stroke-linejoin="round">V</text>
<text transform="translate(585.35 117.71) scale(0.3637 0.0721)" font-size="10" fill="#10a020" stroke="#10a020" stroke-width="0.660" stroke-linejoin="round">S</text>
<text transform="translate(585.19 116.91) scale(0.3883 0.8568)" font-size="10" fill="#f020f0" stroke="#f020f0" stroke-width="0.618" stroke-linejoin="round">E</text>
<text transform="translate(587.85 117.72) scale(0.4297 0.0819)" font-size="10" fill="#2828e0" stroke="#2828e0" stroke-width="0.559" stroke-linejoin="round">F</text>
<text transform="translate(587.85 116.86) scale(0.4297 0.9419)" font-size="10" fill="#2828e0" stroke="#2828e0" stroke-width="0.559" stroke-linejoin="round">F</text>
<text transform="translate(590.69 117.71) scale(0.3227 0.0710)" font-size="10" fill="#f0a020" stroke="#f0a020" stroke-width="0.744" stroke-linejoin="round">G</text>
<text transform="translate(590.54 116.93) scale(0.4247 0.8616)" font-size="10" fill="#2828e0" stroke="#2828e0" stroke-width="0.565" stroke-linejoin="round">L</text>
<text transform="translate(593.28 117.71) scale(0.3431 0.0778)" font-size="10" fill="#f05070" stroke="#f05070" stroke-width="0.700" stroke-linejoin="round">R</text>
<text transform="translate(593.46 116.83) scale(0.3436 0.8953)" font-size="10" fill="#20c8c8" stroke="#20c8c8" stroke-width="0.698" stroke-linejoin="round">Y</text>
<text transform="translate(596.12 117.71) scale(0.3247 0.0772)" font-size="10" fill="#2828e0" stroke="#2828e0" stroke-width="0.739" stroke-linejoin="round">A</text>
<text transform="translate(596.14 116.83) scale(0.3436 0.8938)" font-size="10" fill="#20c8c8" stroke="#20c8c8" stroke-width="0.698" stroke-linejoin="round">Y</text>
<text transform="translate(598.75 117.71) scale(0.3331 0.0712)" font-size="10" fill="#2828e0" stroke="#2828e0" stroke-width="0.720" stroke-linejoin="round">C</text>
<text transform="translate(598.68 116.86) scale(0.3117 0.8329)" font-size="10" fill="#2828e0" stroke="#2828e0" stroke-width="0.770" stroke-linejoin="round">M</text>
<text transform="translate(601.44 117.71) scale(0.3227 0.0712)" font-size="10" fill="#f0a020" stroke="#f0a020" stroke-width="0.744" stroke-linejoin="round">G</text>
<text transform="translate(601.29 116.93) scale(0.4297 0.8655)" font-size="10" fill="#2828e0" stroke="#2828e0" stroke-width="0.559" stroke-linejoin="round">F</text>
<text transform="translate(603.97 117.72) scale(0.4297 0.0764)" font-size="10" fill="#2828e0" stroke="#2828e0" stroke-width="0.559" stroke-linejoin="round">F</text>
<text transform="translate(604.03 116.87) scale(0.3431 0.8587)" font-size="10" fill="#f05070" stroke="#f05070" stroke-width="0.700" stroke-linejoin="round">R</text>
<text transform="translate(606.81 117.70) scale(0.3331 0.0771)" font-size="10" fill="#2828e0" stroke="#2828e0" stroke-width="0.720" stroke-linejoin="round">C</text>
<text transform="translate(606.87 116.80) scale(0.3247 0.9071)" font-size="10" fill="#2828e0" stroke="#2828e0" stroke-width="0.739" stroke-linejoin="round">A</text>
<text transform="translate(609.35 117.72) scale(0.4297 0.0782)" font-size="10" fill="#2828e0" stroke="#2828e0" stroke-width="0.559" stroke-linejoin="round">F</text>
<text transform="translate(609.35 116.90) scale(0.4247 0.8983)" font-size="10" fill="#2828e0" stroke="#2828e0" stroke-width="0.565" stroke-linejoin="round">L</text>
<text transform="translate(612.06 117.71) scale(0.3883 0.0895)" font-size="10" fill="#f020f0" stroke="#f020f0" stroke-width="0.618" stroke-linejoin="round">E</text>
<text transform="translate(612.22 116.73) scale(0.3637 0.7795)" font-size="10" fill="#ffb8c8" stroke="#ffb8c8" stroke-width="0.660" stroke-linejoin="round">S</text>
<text transform="translate(614.93 117.71) scale(0.3247 0.0854)" font-size="10" fill="#2828e0" stroke="#2828e0" stroke-width="0.739" stroke-linejoin="round">A</text>
<text transform="translate(614.78 116.81) scale(0.3431 0.7732)" font-size="10" fill="#ffb8c8" stroke="#ffb8c8" stroke-width="0.700" stroke-linejoin="round">R</text>
<text transform="translate(617.44 117.71) scale(0.3883 0.0834)" font-size="10" fill="#f020f0" stroke="#f020f0" stroke-width="0.618" stroke-linejoin="round">E</text>
<text transform="translate(617.47 116.85) scale(0.3431 0.7410)" font-size="10" fill="#ffb8c8" stroke="#ffb8c8" stroke-width="0.700" stroke-linejoin="round">R</text>
<text transform="translate(620.10 117.72) scale(0.4297 0.0750)" font-size="10" fill="#2828e0" stroke="#2828e0" stroke-width="0.559" stroke-linejoin="round">F</text>
<text transform="translate(620.10 116.94) scale(0.4297 0.8620)" font-size="10" fill="#2828e0" stroke="#2828e0" stroke-width="0.559" stroke-linejoin="round">F</text>
<text transform="translate(623.02 117.71) scale(0.3436 0.0753)" font-size="10" fill="#20c8c8" stroke="#20c8c8" stroke-width="0.698" stroke-linejoin="round">Y</text>
<text transform="translate(622.79 116.91) scale(0.4247 0.8845)" font-size="10" fill="#2828e0" stroke="#2828e0" stroke-width="0.565" stroke-linejoin="round">L</text>
<text transform="translate(625.68 117.71) scale(0.3247 0.0770)" font-size="10" fill="#2828e0" stroke="#2828e0" stroke-width="0.739" stroke-linejoin="round">A</text>
<text transform="translate(625.53 116.90) scale(0.3431 0.6979)" font-size="10" fill="#ffb8c8" stroke="#ffb8c8" stroke-width="0.700" stroke-linejoin="round">R</text>
<text transform="translate(628.16 117.72) scale(0.4297 0.0817)" font-size="10" fill="#2828e0" stroke="#2828e0" stroke-width="0.559" stroke-linejoin="round">F</text>
<text transform="translate(628.22 116.81) scale(0.3431 0.9191)" font-size="10" fill="#f05070" stroke="#f05070" stroke-width="0.700" stroke-linejoin="round">R</text>
<text transform="translate(630.12 117.73) scale(1.5129 0.0873)" font-size="10" fill="#2828e0" stroke="#2828e0" stroke-width="0.159" stroke-linejoin="round">I</text>
<text transform="translate(631.09 116.82) scale(0.3699 0.9306)" font-size="10" fill="#10a020" stroke="#10a020" stroke-width="0.649" stroke-linejoin="round">T</text>
<text transform="translate(633.80 117.71) scale(0.3336 0.0724)" font-size="10" fill="#2828e0" stroke="#2828e0" stroke-width="0.719" stroke-linejoin="round">V</text>
<text transform="translate(633.72 116.83) scale(0.3637 0.8191)" font-size="10" fill="#10a020" stroke="#10a020" stroke-width="0.660" stroke-linejoin="round">S</text>
<text transform="translate(636.25 117.71) scale(0.3883 0.0994)" font-size="10" fill="#f020f0" stroke="#f020f0" stroke-width="0.618" stroke-linejoin="round">E</text>
<text transform="translate(636.40 116.62) scale(0.3637 0.8659)" font-size="10" fill="#ffb8c8" stroke="#ffb8c8" stroke-width="0.660" stroke-linejoin="round">S</text>
<text transform="translate(639.09 117.70) scale(0.3637 0.0905)" font-size="10" fill="#10a020" stroke="#10a020" stroke-width="0.660" stroke-linejoin="round">S</text>
<text transform="translate(638.95 116.76) scale(0.3705 0.8373)" font-size="10" fill="#ffb8c8" stroke="#ffb8c8" stroke-width="0.648" stroke-linejoin="round">H</text>
<text transform="translate(641.84 117.72) scale(0.3699 0.0769)" font-size="10" fill="#10a020" stroke="#10a020" stroke-width="0.649" stroke-linejoin="round">T</text>
<text transform="translate(641.64 116.93) scale(0.3705 0.6918)" font-size="10" fill="#ffb8c8" stroke="#ffb8c8" stroke-width="0.648" stroke-linejoin="round">H</text>
<text transform="translate(644.34 117.71) scale(0.3431 0.0783)" font-size="10" fill="#f05070" stroke="#f05070" stroke-width="0.700" stroke-linejoin="round">R</text>
<text transform="translate(644.49 116.81) scale(0.3247 0.8950)" font-size="10" fill="#2828e0" stroke="#2828e0" stroke-width="0.739" stroke-linejoin="round">A</text>
<text transform="translate(647.03 117.71) scale(0.3431 0.0768)" font-size="10" fill="#f05070" stroke="#f05070" stroke-width="0.700" stroke-linejoin="round">R</text>
<text transform="translate(647.15 116.78) scale(0.3637 0.8667)" font-size="10" fill="#10a020" stroke="#10a020" stroke-width="0.660" stroke-linejoin="round">S</text>
<text transform="translate(649.66 117.72) scale(0.4247 0.0782)" font-size="10" fill="#2828e0" stroke="#2828e0" stroke-width="0.565" stroke-linejoin="round">L</text>
<text transform="translate(648.93 117.08) scale(1.5129 0.9576)" font-size="10" fill="#2828e0" stroke="#2828e0" stroke-width="0.159" stroke-linejoin="round">I</text>
<text transform="translate(652.61 117.71) scale(0.3336 0.0755)" font-size="10" fill="#2828e0" stroke="#2828e0" stroke-width="0.719" stroke-linejoin="round">V</text>
<text transform="translate(652.61 116.85) scale(0.3336 0.8686)" font-size="10" fill="#2828e0" stroke="#2828e0" stroke-width="0.719" stroke-linejoin="round">V</text>
<text transform="translate(655.06 117.72) scale(0.3849 0.0768)" font-size="10" fill="#f0e010" stroke="#f0e010" stroke-width="0.624" stroke-linejoin="round">P</text>
<text transform="translate(655.28 116.87) scale(0.3699 0.8799)" font-size="10" fill="#10a020" stroke="#10a020" stroke-width="0.649" stroke-linejoin="round">T</text>
<text transform="translate(657.95 117.71) scale(0.3436 0.0738)" font-size="10" fill="#20c8c8" stroke="#20c8c8" stroke-width="0.698" stroke-linejoin="round">Y</text>
<text transform="translate(657.75 116.91) scale(0.3883 0.8593)" font-size="10" fill="#f020f0" stroke="#f020f0" stroke-width="0.618" stroke-linejoin="round">E</text>
<text transform="translate(660.56 117.71) scale(0.3227 0.0722)" font-size="10" fill="#f0a020" stroke="#f0a020" stroke-width="0.744" stroke-linejoin="round">G</text>
<text transform="translate(660.44 116.90) scale(0.3849 0.8678)" font-size="10" fill="#f0e010" stroke="#f0e010" stroke-width="0.624" stroke-linejoin="round">P</text>
<text transform="translate(663.25 117.71) scale(0.3227 0.0722)" font-size="10" fill="#f0a020" stroke="#f0a020" stroke-width="0.744" stroke-linejoin="round">G</text>
<text transform="translate(662.37 117.09) scale(1.5129 0.9328)" font-size="10" fill="#2828e0" stroke="#2828e0" stroke-width="0.159" stroke-linejoin="round">I</text>
<text transform="translate(665.82 117.72) scale(0.3705 0.0753)" font-size="10" fill="#ff70b0" stroke="#ff70b0" stroke-width="0.648" stroke-linejoin="round">H</text>
<text transform="translate(666.03 116.89) scale(0.3699 0.8664)" font-size="10" fill="#10a020" stroke="#10a020" stroke-width="0.649" stroke-linejoin="round">T</text>
<text transform="translate(668.70 117.71) scale(0.3436 0.0732)" font-size="10" fill="#20c8c8" stroke="#20c8c8" stroke-width="0.698" stroke-linejoin="round">Y</text>
<text transform="translate(668.65 116.82) scale(0.3637 0.8253)" font-size="10" fill="#10a020" stroke="#10a020" stroke-width="0.660" stroke-linejoin="round">S</text>
<text transform="translate(671.32 117.59) scale(0.3135 0.0628)" font-size="10" fill="#10a020" stroke="#10a020" stroke-width="0.766" stroke-linejoin="round">Q</text>
<text transform="translate(671.20 116.82) scale(0.3705 0.9306)" font-size="10" fill="#10a020" stroke="#10a020" stroke-width="0.648" stroke-linejoin="round">N</text>
<text transform="translate(674.00 117.70) scale(0.3227 0.0747)" font-size="10" fill="#f0a020" stroke="#f0a020" stroke-width="0.744" stroke-linejoin="round">G</text>
<text transform="translate(674.11 116.83) scale(0.3336 0.8851)" font-size="10" fill="#2828e0" stroke="#2828e0" stroke-width="0.719" stroke-linejoin="round">V</text>
<text transform="translate(676.69 117.70) scale(0.3227 0.0759)" font-size="10" fill="#f0a020" stroke="#f0a020" stroke-width="0.744" stroke-linejoin="round">G</text>
<text transform="translate(676.59 116.89) scale(0.3372 0.7044)" font-size="10" fill="#ffb8c8" stroke="#ffb8c8" stroke-width="0.712" stroke-linejoin="round">K</text>
<text transform="translate(679.25 117.71) scale(0.3849 0.0803)" font-size="10" fill="#f0e010" stroke="#f0e010" stroke-width="0.624" stroke-linejoin="round">P</text>
<text transform="translate(679.25 116.84) scale(0.3849 0.9237)" font-size="10" fill="#f0e010" stroke="#f0e010" stroke-width="0.624" stroke-linejoin="round">P</text>
<text transform="translate(681.94 117.71) scale(0.3705 0.0810)" font-size="10" fill="#10a020" stroke="#10a020" stroke-width="0.648" stroke-linejoin="round">N</text>
<text transform="translate(681.90 116.86) scale(0.4297 0.9452)" font-size="10" fill="#2828e0" stroke="#2828e0" stroke-width="0.559" stroke-linejoin="round">F</text>
<text transform="translate(684.65 117.71) scale(0.3372 0.0763)" font-size="10" fill="#f05070" stroke="#f05070" stroke-width="0.712" stroke-linejoin="round">K</text>
<text transform="translate(684.80 116.83) scale(0.3247 0.8737)" font-size="10" fill="#2828e0" stroke="#2828e0" stroke-width="0.739" stroke-linejoin="round">A</text>
<text transform="translate(687.54 117.71) scale(0.3336 0.0726)" font-size="10" fill="#2828e0" stroke="#2828e0" stroke-width="0.719" stroke-linejoin="round">V</text>
<text transform="translate(687.31 116.92) scale(0.3883 0.8488)" font-size="10" fill="#f020f0" stroke="#f020f0" stroke-width="0.618" stroke-linejoin="round">E</text>
<path d="M562.7 129.02V121.42" stroke="#999" stroke-width="0.35"/>
<path d="M564.82 129.92H690.00" stroke="#b8b8b8" stroke-width="0.6" stroke-dasharray="0.4 2.231"/>
<text x="559.5" y="126.12" font-family="'Liberation Sans', sans-serif" font-size="3.2" font-weight="bold" fill="#555" text-anchor="end">10.</text>
<path d="M561.9 129.02H562.7M561.9 127.12H562.7M561.9 125.22H562.7M561.9 123.32H562.7M561.9 121.42H562.7" stroke="#999" stroke-width="0.3"/>
<text transform="translate(563.89 129.00) scale(0.3357 0.0618)" font-size="10" fill="#20c8c8" stroke="#20c8c8" stroke-width="0.715" stroke-linejoin="round">Y</text>
<text transform="translate(563.71 128.52) scale(0.3619 0.0858)" font-size="10" fill="#ff70b0" stroke="#ff70b0" stroke-width="0.663" stroke-linejoin="round">H</text>
<text transform="translate(563.75 127.84) scale(0.3045 0.1451)" font-size="10" fill="#2828e0" stroke="#2828e0" stroke-width="0.788" stroke-linejoin="round">M</text>
<text transform="translate(566.58 128.96) scale(0.2259 0.1180)" font-size="10" fill="#2828e0" stroke="#2828e0" stroke-width="1.062" stroke-linejoin="round">W</text>
<text transform="translate(566.54 128.02) scale(0.3613 0.1261)" font-size="10" fill="#10a020" stroke="#10a020" stroke-width="0.664" stroke-linejoin="round">T</text>
<text transform="translate(569.21 128.98) scale(0.2259 0.0795)" font-size="10" fill="#2828e0" stroke="#2828e0" stroke-width="1.062" stroke-linejoin="round">W</text>
<text transform="translate(568.97 128.12) scale(0.3619 0.7651)" font-size="10" fill="#ffb8c8" stroke="#ffb8c8" stroke-width="0.663" stroke-linejoin="round">H</text>
<text transform="translate(571.60 128.98) scale(0.3619 0.1291)" font-size="10" fill="#10a020" stroke="#10a020" stroke-width="0.663" stroke-linejoin="round">N</text>
<text transform="translate(571.79 127.99) scale(0.3357 0.1280)" font-size="10" fill="#20c8c8" stroke="#20c8c8" stroke-width="0.715" stroke-linejoin="round">Y</text>
<text transform="translate(574.27 128.99) scale(0.3045 0.0781)" font-size="10" fill="#2828e0" stroke="#2828e0" stroke-width="0.788" stroke-linejoin="round">M</text>
<text transform="translate(574.25 128.09) scale(0.3351 0.9093)" font-size="10" fill="#f05070" stroke="#f05070" stroke-width="0.716" stroke-linejoin="round">R</text>
<text transform="translate(576.89 129.00) scale(0.3294 0.0430)" font-size="10" fill="#f05070" stroke="#f05070" stroke-width="0.729" stroke-linejoin="round">K</text>
<text transform="translate(576.98 128.63) scale(0.3153 0.1222)" font-size="10" fill="#f0a020" stroke="#f0a020" stroke-width="0.761" stroke-linejoin="round">G</text>
<text transform="translate(577.11 127.56) scale(0.2259 0.2969)" font-size="10" fill="#2828e0" stroke="#2828e0" stroke-width="1.062" stroke-linejoin="round">W</text>
<text transform="translate(579.54 129.00) scale(0.3045 0.0539)" font-size="10" fill="#2828e0" stroke="#2828e0" stroke-width="0.788" stroke-linejoin="round">M</text>
<text transform="translate(578.75 128.59) scale(1.4779 0.1105)" font-size="10" fill="#2828e0" stroke="#2828e0" stroke-width="0.162" stroke-linejoin="round">I</text>
<text transform="translate(579.74 127.68) scale(0.2259 0.2734)" font-size="10" fill="#2828e0" stroke="#2828e0" stroke-width="1.062" stroke-linejoin="round">W</text>
<text transform="translate(582.15 128.99) scale(0.3294 0.0741)" font-size="10" fill="#f05070" stroke="#f05070" stroke-width="0.729" stroke-linejoin="round">K</text>
<text transform="translate(582.09 128.20) scale(0.4148 0.8728)" font-size="10" fill="#2828e0" stroke="#2828e0" stroke-width="0.579" stroke-linejoin="round">L</text>
<text transform="translate(584.90 128.99) scale(0.3553 0.0742)" font-size="10" fill="#10a020" stroke="#10a020" stroke-width="0.676" stroke-linejoin="round">S</text>
<text transform="translate(584.88 126.83) scale(0.3062 0.6811)" font-size="10" fill="#10a020" stroke="#10a020" stroke-width="0.784" stroke-linejoin="round">Q</text>
<text transform="translate(587.50 128.99) scale(0.3153 0.0723)" font-size="10" fill="#f0a020" stroke="#f0a020" stroke-width="0.761" stroke-linejoin="round">G</text>
<text transform="translate(587.35 128.19) scale(0.4148 0.8779)" font-size="10" fill="#2828e0" stroke="#2828e0" stroke-width="0.579" stroke-linejoin="round">L</text>
<text transform="translate(590.04 128.99) scale(0.3351 0.0781)" font-size="10" fill="#f05070" stroke="#f05070" stroke-width="0.716" stroke-linejoin="round">R</text>
<text transform="translate(590.21 128.37) scale(0.3357 0.1487)" font-size="10" fill="#20c8c8" stroke="#20c8c8" stroke-width="0.715" stroke-linejoin="round">Y</text>
<text transform="translate(590.04 127.13) scale(0.3294 0.4203)" font-size="10" fill="#f05070" stroke="#f05070" stroke-width="0.729" stroke-linejoin="round">K</text>
<text transform="translate(592.77 128.89) scale(0.3062 0.0566)" font-size="10" fill="#10a020" stroke="#10a020" stroke-width="0.784" stroke-linejoin="round">Q</text>
<text transform="translate(592.77 128.08) scale(0.3153 0.8050)" font-size="10" fill="#f0a020" stroke="#f0a020" stroke-width="0.761" stroke-linejoin="round">G</text>
<text transform="translate(595.25 129.01) scale(0.4148 0.0518)" font-size="10" fill="#2828e0" stroke="#2828e0" stroke-width="0.579" stroke-linejoin="round">L</text>
<text transform="translate(595.39 128.57) scale(0.3254 0.1264)" font-size="10" fill="#2828e0" stroke="#2828e0" stroke-width="0.738" stroke-linejoin="round">C</text>
<text transform="translate(595.47 127.51) scale(0.3357 0.3357)" font-size="10" fill="#20c8c8" stroke="#20c8c8" stroke-width="0.715" stroke-linejoin="round">Y</text>
<text transform="translate(597.91 128.99) scale(0.3760 0.0821)" font-size="10" fill="#f0e010" stroke="#f0e010" stroke-width="0.638" stroke-linejoin="round">P</text>
<text transform="translate(598.05 128.08) scale(0.3553 0.7159)" font-size="10" fill="#ffb8c8" stroke="#ffb8c8" stroke-width="0.676" stroke-linejoin="round">S</text>
<text transform="translate(600.55 128.99) scale(0.3619 0.0812)" font-size="10" fill="#10a020" stroke="#10a020" stroke-width="0.663" stroke-linejoin="round">N</text>
<text transform="translate(600.57 128.14) scale(0.3294 0.7228)" font-size="10" fill="#ffb8c8" stroke="#ffb8c8" stroke-width="0.729" stroke-linejoin="round">K</text>
<text transform="translate(603.40 128.99) scale(0.3259 0.0873)" font-size="10" fill="#2828e0" stroke="#2828e0" stroke-width="0.736" stroke-linejoin="round">V</text>
<text transform="translate(603.20 128.06) scale(0.3294 0.7866)" font-size="10" fill="#ffb8c8" stroke="#ffb8c8" stroke-width="0.729" stroke-linejoin="round">K</text>
<text transform="translate(605.80 129.00) scale(0.3793 0.0770)" font-size="10" fill="#f020f0" stroke="#f020f0" stroke-width="0.633" stroke-linejoin="round">E</text>
<text transform="translate(605.77 128.18) scale(0.4148 0.8935)" font-size="10" fill="#2828e0" stroke="#2828e0" stroke-width="0.579" stroke-linejoin="round">L</text>
<text transform="translate(608.43 129.00) scale(0.3760 0.0764)" font-size="10" fill="#f0e010" stroke="#f0e010" stroke-width="0.638" stroke-linejoin="round">P</text>
<text transform="translate(608.48 128.10) scale(0.3045 0.8578)" font-size="10" fill="#2828e0" stroke="#2828e0" stroke-width="0.788" stroke-linejoin="round">M</text>
<text transform="translate(611.04 129.00) scale(0.4148 0.0788)" font-size="10" fill="#2828e0" stroke="#2828e0" stroke-width="0.579" stroke-linejoin="round">L</text>
<text transform="translate(611.07 128.39) scale(0.3619 0.1282)" font-size="10" fill="#10a020" stroke="#10a020" stroke-width="0.663" stroke-linejoin="round">N</text>
<text transform="translate(611.23 127.31) scale(0.3172 0.3767)" font-size="10" fill="#2828e0" stroke="#2828e0" stroke-width="0.757" stroke-linejoin="round">A</text>
<text transform="translate(613.70 129.00) scale(0.3619 0.0699)" font-size="10" fill="#10a020" stroke="#10a020" stroke-width="0.663" stroke-linejoin="round">N</text>
<text transform="translate(613.69 128.45) scale(0.3793 0.1196)" font-size="10" fill="#f020f0" stroke="#f020f0" stroke-width="0.633" stroke-linejoin="round">E</text>
<text transform="translate(613.72 127.46) scale(0.3294 0.3471)" font-size="10" fill="#f05070" stroke="#f05070" stroke-width="0.729" stroke-linejoin="round">K</text>
<text transform="translate(616.30 129.00) scale(0.4197 0.0785)" font-size="10" fill="#2828e0" stroke="#2828e0" stroke-width="0.572" stroke-linejoin="round">F</text>
<text transform="translate(616.52 128.11) scale(0.3357 0.8828)" font-size="10" fill="#20c8c8" stroke="#20c8c8" stroke-width="0.715" stroke-linejoin="round">Y</text>
<text transform="translate(619.13 128.99) scale(0.3172 0.0741)" font-size="10" fill="#2828e0" stroke="#2828e0" stroke-width="0.757" stroke-linejoin="round">A</text>
<text transform="translate(618.95 128.17) scale(0.3793 0.8692)" font-size="10" fill="#f020f0" stroke="#f020f0" stroke-width="0.633" stroke-linejoin="round">E</text>
<text transform="translate(621.78 128.99) scale(0.3357 0.0750)" font-size="10" fill="#20c8c8" stroke="#20c8c8" stroke-width="0.715" stroke-linejoin="round">Y</text>
<text transform="translate(621.58 128.17) scale(0.3793 0.8739)" font-size="10" fill="#f020f0" stroke="#f020f0" stroke-width="0.633" stroke-linejoin="round">E</text>
<text transform="translate(624.24 129.00) scale(0.3472 0.0722)" font-size="10" fill="#f020f0" stroke="#f020f0" stroke-width="0.691" stroke-linejoin="round">D</text>
<text transform="translate(623.48 128.39) scale(1.4779 0.9009)" font-size="10" fill="#2828e0" stroke="#2828e0" stroke-width="0.162" stroke-linejoin="round">I</text>
<text transform="translate(626.82 129.00) scale(0.4148 0.0822)" font-size="10" fill="#2828e0" stroke="#2828e0" stroke-width="0.579" stroke-linejoin="round">L</text>
<text transform="translate(627.00 128.09) scale(0.3553 0.7102)" font-size="10" fill="#ffb8c8" stroke="#ffb8c8" stroke-width="0.676" stroke-linejoin="round">S</text>
<text transform="translate(629.71 128.99) scale(0.3259 0.0799)" font-size="10" fill="#2828e0" stroke="#2828e0" stroke-width="0.736" stroke-linejoin="round">V</text>
<text transform="translate(629.51 128.14) scale(0.3294 0.7198)" font-size="10" fill="#ffb8c8" stroke="#ffb8c8" stroke-width="0.729" stroke-linejoin="round">K</text>
<text transform="translate(632.16 128.99) scale(0.3045 0.0771)" font-size="10" fill="#2828e0" stroke="#2828e0" stroke-width="0.788" stroke-linejoin="round">M</text>
<text transform="translate(632.11 128.13) scale(0.3760 0.9082)" font-size="10" fill="#f0e010" stroke="#f0e010" stroke-width="0.638" stroke-linejoin="round">P</text>
<text transform="translate(634.75 128.99) scale(0.3619 0.0888)" font-size="10" fill="#ff70b0" stroke="#ff70b0" stroke-width="0.663" stroke-linejoin="round">H</text>
<text transform="translate(634.75 128.08) scale(0.3619 0.7993)" font-size="10" fill="#ffb8c8" stroke="#ffb8c8" stroke-width="0.663" stroke-linejoin="round">H</text>
<text transform="translate(637.62 128.98) scale(0.2259 0.0713)" font-size="10" fill="#2828e0" stroke="#2828e0" stroke-width="1.062" stroke-linejoin="round">W</text>
<text transform="translate(637.57 128.13) scale(0.3357 0.8691)" font-size="10" fill="#20c8c8" stroke="#20c8c8" stroke-width="0.715" stroke-linejoin="round">Y</text>
<text transform="translate(639.27 129.01) scale(1.4779 0.0854)" font-size="10" fill="#2828e0" stroke="#2828e0" stroke-width="0.162" stroke-linejoin="round">I</text>
<text transform="translate(640.15 128.12) scale(0.3553 0.6919)" font-size="10" fill="#ffb8c8" stroke="#ffb8c8" stroke-width="0.676" stroke-linejoin="round">S</text>
<text transform="translate(642.61 128.99) scale(0.4148 0.0886)" font-size="10" fill="#2828e0" stroke="#2828e0" stroke-width="0.579" stroke-linejoin="round">L</text>
<text transform="translate(642.65 128.09) scale(0.3619 0.7867)" font-size="10" fill="#ffb8c8" stroke="#ffb8c8" stroke-width="0.663" stroke-linejoin="round">H</text>
<text transform="translate(645.27 129.00) scale(0.3793 0.0775)" font-size="10" fill="#f020f0" stroke="#f020f0" stroke-width="0.633" stroke-linejoin="round">E</text>
<text transform="translate(645.24 128.18) scale(0.4197 0.9002)" font-size="10" fill="#2828e0" stroke="#2828e0" stroke-width="0.572" stroke-linejoin="round">F</text>
<text transform="translate(647.92 128.99) scale(0.3472 0.0952)" font-size="10" fill="#f020f0" stroke="#f020f0" stroke-width="0.691" stroke-linejoin="round">D</text>
<text transform="translate(647.92 128.00) scale(0.3472 0.8569)" font-size="10" fill="#ffb8c8" stroke="#ffb8c8" stroke-width="0.691" stroke-linejoin="round">D</text>
<text transform="translate(650.53 128.99) scale(0.3760 0.0867)" font-size="10" fill="#f0e010" stroke="#f0e010" stroke-width="0.638" stroke-linejoin="round">P</text>
<text transform="translate(650.54 128.10) scale(0.3619 0.7772)" font-size="10" fill="#ffb8c8" stroke="#ffb8c8" stroke-width="0.663" stroke-linejoin="round">H</text>
<text transform="translate(653.28 128.99) scale(0.3153 0.0696)" font-size="10" fill="#f0a020" stroke="#f0a020" stroke-width="0.761" stroke-linejoin="round">G</text>
<text transform="translate(652.42 128.39) scale(1.4779 0.9017)" font-size="10" fill="#2828e0" stroke="#2828e0" stroke-width="0.162" stroke-linejoin="round">I</text>
<text transform="translate(655.79 128.99) scale(0.3760 0.0877)" font-size="10" fill="#f0e010" stroke="#f0e010" stroke-width="0.638" stroke-linejoin="round">P</text>
<text transform="translate(655.82 128.08) scale(0.3351 0.7795)" font-size="10" fill="#ffb8c8" stroke="#ffb8c8" stroke-width="0.716" stroke-linejoin="round">R</text>
<text transform="translate(658.55 128.88) scale(0.3062 0.0576)" font-size="10" fill="#10a020" stroke="#10a020" stroke-width="0.784" stroke-linejoin="round">Q</text>
<text transform="translate(658.44 128.16) scale(0.3472 0.8496)" font-size="10" fill="#f020f0" stroke="#f020f0" stroke-width="0.691" stroke-linejoin="round">D</text>
<text transform="translate(661.18 128.85) scale(0.3062 0.0699)" font-size="10" fill="#10a020" stroke="#10a020" stroke-width="0.784" stroke-linejoin="round">Q</text>
<text transform="translate(661.07 128.07) scale(0.3619 0.8103)" font-size="10" fill="#ffb8c8" stroke="#ffb8c8" stroke-width="0.663" stroke-linejoin="round">H</text>
<text transform="translate(663.71 128.99) scale(0.3472 0.0826)" font-size="10" fill="#f020f0" stroke="#f020f0" stroke-width="0.691" stroke-linejoin="round">D</text>
<text transform="translate(663.72 128.12) scale(0.3294 0.7388)" font-size="10" fill="#ffb8c8" stroke="#ffb8c8" stroke-width="0.729" stroke-linejoin="round">K</text>
<text transform="translate(666.37 128.99) scale(0.3045 0.0747)" font-size="10" fill="#2828e0" stroke="#2828e0" stroke-width="0.788" stroke-linejoin="round">M</text>
<text transform="translate(665.58 128.36) scale(1.4779 0.9470)" font-size="10" fill="#2828e0" stroke="#2828e0" stroke-width="0.162" stroke-linejoin="round">I</text>
<text transform="translate(669.00 128.99) scale(0.3045 0.0762)" font-size="10" fill="#2828e0" stroke="#2828e0" stroke-width="0.788" stroke-linejoin="round">M</text>
<text transform="translate(668.98 128.18) scale(0.3294 0.6923)" font-size="10" fill="#ffb8c8" stroke="#ffb8c8" stroke-width="0.729" stroke-linejoin="round">K</text>
<text transform="translate(671.58 128.99) scale(0.3793 0.0880)" font-size="10" fill="#f020f0" stroke="#f020f0" stroke-width="0.633" stroke-linejoin="round">E</text>
<text transform="translate(671.73 128.02) scale(0.3553 0.7663)" font-size="10" fill="#ffb8c8" stroke="#ffb8c8" stroke-width="0.676" stroke-linejoin="round">S</text>
<text transform="translate(674.34 128.84) scale(0.3062 0.0743)" font-size="10" fill="#10a020" stroke="#10a020" stroke-width="0.784" stroke-linejoin="round">Q</text>
<text transform="translate(674.22 128.01) scale(0.3619 0.8614)" font-size="10" fill="#ffb8c8" stroke="#ffb8c8" stroke-width="0.663" stroke-linejoin="round">H</text>
<text transform="translate(676.89 128.98) scale(0.3045 0.0951)" font-size="10" fill="#2828e0" stroke="#2828e0" stroke-width="0.788" stroke-linejoin="round">M</text>
<text transform="translate(676.87 127.97) scale(0.3351 0.8657)" font-size="10" fill="#ffb8c8" stroke="#ffb8c8" stroke-width="0.716" stroke-linejoin="round">R</text>
<text transform="translate(679.47 129.00) scale(0.3760 0.0745)" font-size="10" fill="#f0e010" stroke="#f0e010" stroke-width="0.638" stroke-linejoin="round">P</text>
<text transform="translate(679.67 128.15) scale(0.3357 0.8461)" font-size="10" fill="#20c8c8" stroke="#20c8c8" stroke-width="0.715" stroke-linejoin="round">Y</text>
<text transform="translate(682.32 128.99) scale(0.3613 0.0988)" font-size="10" fill="#10a020" stroke="#10a020" stroke-width="0.664" stroke-linejoin="round">T</text>
<text transform="translate(682.14 127.95) scale(0.3294 0.8801)" font-size="10" fill="#ffb8c8" stroke="#ffb8c8" stroke-width="0.729" stroke-linejoin="round">K</text>
<text transform="translate(684.95 129.00) scale(0.3613 0.0727)" font-size="10" fill="#10a020" stroke="#10a020" stroke-width="0.664" stroke-linejoin="round">T</text>
<text transform="translate(684.99 128.05) scale(0.2259 0.7826)" font-size="10" fill="#2828e0" stroke="#2828e0" stroke-width="1.062" stroke-linejoin="round">W</text>
<text transform="translate(687.62 128.98) scale(0.2259 0.0720)" font-size="10" fill="#2828e0" stroke="#2828e0" stroke-width="1.062" stroke-linejoin="round">W</text>
<text transform="translate(687.37 128.15) scale(0.3793 0.8887)" font-size="10" fill="#f020f0" stroke="#f020f0" stroke-width="0.633" stroke-linejoin="round">E</text>
</g>
<g font-family="'Liberation Sans', sans-serif" font-size="3.2" fill="#3a3a4a" stroke="#3a3a4a" stroke-width="0.08">
<text x="695.3" y="25.65" textLength="48.70" lengthAdjust="spacingAndGlyphs">DFVRDAPFLRFCVEGVGIGAVRGHVISMP</text>
<text x="695.3" y="37.35" textLength="67.70" lengthAdjust="spacingAndGlyphs">QHDIVRKHRARLGEKKAYSHFEHKLYGPSTLKCVEYEDIRL</text>
<text x="695.3" y="48.15" textLength="48.70" lengthAdjust="spacingAndGlyphs">SPLIGHAAALEIAANGRGIGTVGFGDLkYAG</text>
<text x="695.3" y="59.05" textLength="48.70" lengthAdjust="spacingAndGlyphs">LIKSAYVGSWGYRNVKAGNAKFFKGNW</text>
<text x="695.3" y="70.75" textLength="49.70" lengthAdjust="spacingAndGlyphs">PLAFSYEVAAVRIYTNEGSTGAAAGRAT</text>
<text x="695.3" y="82.35" textLength="48.70" lengthAdjust="spacingAndGlyphs">GGRKVRKRFGPDFEKSDHAGLGLGLFF</text>
<text x="695.3" y="92.85" textLength="49.70" lengthAdjust="spacingAndGlyphs">YAGLGVIDYRTRDGIAREGSFAAFAAQT</text>
<text x="695.3" y="103.85" textLength="86.20" lengthAdjust="spacingAndGlyphs">FMNMIGCNFEIAYPRHAMAFSDKPLKYLMITPSFHSLIGTNFRTNYSLFMP</text>
<text x="695.3" y="115.15" textLength="84.00" lengthAdjust="spacingAndGlyphs">ALLGHGPVEFLYYMFRALEGLKFLSRTSMSAQASIVTEPITSNVMPFAEASD</text>
<text x="695.3" y="126.55" textLength="84.50" lengthAdjust="spacingAndGlyphs">RGRRWWLQLKGYEGSLMAKYEEIGHRPGYKNFSAIHDRKIGVEYSWEQLAIE</text>
</g>
</g>
</svg></body></html>
